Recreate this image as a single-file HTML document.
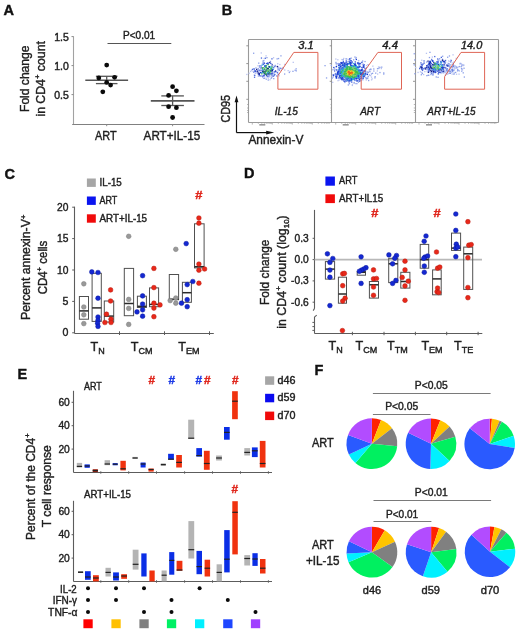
<!DOCTYPE html>
<html><head><meta charset="utf-8"><title>Figure</title>
<style>
html,body{margin:0;padding:0;background:#fff;}
body{width:520px;height:633px;overflow:hidden;}
svg{display:block;font-family:"Liberation Sans",sans-serif;will-change:transform;}
</style></head><body>
<svg width="520" height="633" viewBox="0 0 520 633">
<rect x="0" y="0" width="520" height="633" fill="#fff"/>
<text x="3.6" y="15.2" font-size="14.5" fill="#111" stroke="#111" stroke-width="0.4" font-weight="bold" >A</text>
<text x="221.8" y="15.0" font-size="14.5" fill="#111" stroke="#111" stroke-width="0.4" font-weight="bold" >B</text>
<text x="4.6" y="178.6" font-size="14.5" fill="#111" stroke="#111" stroke-width="0.4" font-weight="bold" >C</text>
<text x="243.9" y="177.7" font-size="14.5" fill="#111" stroke="#111" stroke-width="0.4" font-weight="bold" >D</text>
<text x="17.6" y="379.0" font-size="14.5" fill="#111" stroke="#111" stroke-width="0.4" font-weight="bold" >E</text>
<text x="314.6" y="375.0" font-size="14.5" fill="#111" stroke="#111" stroke-width="0.4" font-weight="bold" >F</text>
<line x1="73.5" y1="36.3" x2="73.5" y2="124.5" stroke="#a2a2a2" stroke-width="1.1"/>
<line x1="72.2" y1="124.5" x2="204.5" y2="124.5" stroke="#808080" stroke-width="1.1"/>
<line x1="71.5" y1="36.6" x2="73.5" y2="36.6" stroke="#8a8a8a" stroke-width="1"/>
<line x1="71.5" y1="65.6" x2="73.5" y2="65.6" stroke="#8a8a8a" stroke-width="1"/>
<line x1="71.5" y1="94.6" x2="73.5" y2="94.6" stroke="#8a8a8a" stroke-width="1"/>
<line x1="106.7" y1="124.4" x2="106.7" y2="126.2" stroke="#8a8a8a" stroke-width="1"/>
<line x1="172.6" y1="124.4" x2="172.6" y2="126.2" stroke="#8a8a8a" stroke-width="1"/>
<text x="68.8" y="40.6" font-size="10.2" fill="#1e1e1e" stroke="#1e1e1e" stroke-width="0.4" text-anchor="end" textLength="14.6" lengthAdjust="spacingAndGlyphs" >1.5</text>
<text x="68.8" y="69.6" font-size="10.2" fill="#1e1e1e" stroke="#1e1e1e" stroke-width="0.4" text-anchor="end" textLength="14.6" lengthAdjust="spacingAndGlyphs" >1.0</text>
<text x="68.8" y="98.6" font-size="10.2" fill="#1e1e1e" stroke="#1e1e1e" stroke-width="0.4" text-anchor="end" textLength="14.6" lengthAdjust="spacingAndGlyphs" >0.5</text>
<text transform="translate(28.5,112.0) rotate(-90)" font-size="12.6" fill="#1e1e1e" stroke="#1e1e1e" stroke-width="0.4" textLength="66.5" lengthAdjust="spacingAndGlyphs" >Fold change</text>
<text transform="translate(44.6,116.6) rotate(-90)" font-size="12.6" fill="#1e1e1e" stroke="#1e1e1e" stroke-width="0.4" textLength="75.5" lengthAdjust="spacingAndGlyphs" >in CD4<tspan font-size="8" dy="-5">+</tspan><tspan dy="5"> count</tspan></text>
<text x="95.0" y="140.3" font-size="12.6" fill="#1e1e1e" stroke="#1e1e1e" stroke-width="0.4" textLength="21.6" lengthAdjust="spacingAndGlyphs" >ART</text>
<text x="143.6" y="140.3" font-size="12.6" fill="#1e1e1e" stroke="#1e1e1e" stroke-width="0.4" textLength="56.6" lengthAdjust="spacingAndGlyphs" >ART+IL-15</text>
<text x="123.0" y="38.8" font-size="10.4" fill="#1e1e1e" stroke="#1e1e1e" stroke-width="0.4" textLength="32.2" lengthAdjust="spacingAndGlyphs" >P&lt;0.01</text>
<line x1="107.5" y1="43.5" x2="171.3" y2="43.5" stroke="#555555" stroke-width="1"/>
<line x1="85.3" y1="80.2" x2="128.1" y2="80.2" stroke="#555" stroke-width="1.6"/>
<line x1="95.9" y1="76.3" x2="117.5" y2="76.3" stroke="#555" stroke-width="1.3"/>
<line x1="95.9" y1="83.6" x2="117.5" y2="83.6" stroke="#555" stroke-width="1.3"/>
<line x1="106.7" y1="76.3" x2="106.7" y2="83.6" stroke="#555" stroke-width="1.3"/>
<circle cx="106.7" cy="65.1" r="2.4" fill="#0a0a0a"/>
<circle cx="98.8" cy="77.9" r="2.4" fill="#0a0a0a"/>
<circle cx="114.6" cy="77.3" r="2.4" fill="#0a0a0a"/>
<circle cx="106.7" cy="82.4" r="2.4" fill="#0a0a0a"/>
<circle cx="110.6" cy="85.1" r="2.4" fill="#0a0a0a"/>
<circle cx="102.8" cy="91.8" r="2.4" fill="#0a0a0a"/>
<line x1="150.8" y1="100.9" x2="194.5" y2="100.9" stroke="#555" stroke-width="1.6"/>
<line x1="161.3" y1="95.9" x2="183.9" y2="95.9" stroke="#555" stroke-width="1.3"/>
<line x1="161.3" y1="105.5" x2="183.9" y2="105.5" stroke="#555" stroke-width="1.3"/>
<line x1="172.6" y1="95.9" x2="172.6" y2="105.5" stroke="#555" stroke-width="1.3"/>
<circle cx="172.6" cy="86.7" r="2.4" fill="#0a0a0a"/>
<circle cx="176.4" cy="90.8" r="2.4" fill="#0a0a0a"/>
<circle cx="168.6" cy="95.4" r="2.4" fill="#0a0a0a"/>
<circle cx="168.6" cy="106.7" r="2.4" fill="#0a0a0a"/>
<circle cx="176.4" cy="107.7" r="2.4" fill="#0a0a0a"/>
<circle cx="172.6" cy="117.5" r="2.4" fill="#0a0a0a"/>
<line x1="248.5" y1="39.5" x2="498.5" y2="39.5" stroke="#9a9a9a" stroke-width="1.1"/>
<line x1="248.5" y1="122.5" x2="498.5" y2="122.5" stroke="#9a9a9a" stroke-width="1.1"/>
<line x1="248.5" y1="39.5" x2="248.5" y2="122.5" stroke="#9a9a9a" stroke-width="1.1"/>
<line x1="331.5" y1="39.5" x2="331.5" y2="122.5" stroke="#9a9a9a" stroke-width="1.1"/>
<line x1="415.5" y1="39.5" x2="415.5" y2="122.5" stroke="#9a9a9a" stroke-width="1.1"/>
<line x1="498.5" y1="39.5" x2="498.5" y2="122.5" stroke="#9a9a9a" stroke-width="1.1"/>
<line x1="246.3" y1="45.8" x2="248.3" y2="45.8" stroke="#8a8a8a" stroke-width="0.9"/>
<line x1="246.3" y1="63.6" x2="248.3" y2="63.6" stroke="#8a8a8a" stroke-width="0.9"/>
<line x1="246.3" y1="81.3" x2="248.3" y2="81.3" stroke="#8a8a8a" stroke-width="0.9"/>
<line x1="246.3" y1="99.3" x2="248.3" y2="99.3" stroke="#8a8a8a" stroke-width="0.9"/>
<line x1="247.10000000000002" y1="104.5" x2="248.3" y2="104.5" stroke="#9a9a9a" stroke-width="0.7"/>
<line x1="247.10000000000002" y1="108.0" x2="248.3" y2="108.0" stroke="#9a9a9a" stroke-width="0.7"/>
<line x1="247.10000000000002" y1="110.5" x2="248.3" y2="110.5" stroke="#9a9a9a" stroke-width="0.7"/>
<line x1="247.10000000000002" y1="112.5" x2="248.3" y2="112.5" stroke="#9a9a9a" stroke-width="0.7"/>
<line x1="252.3" y1="122.5" x2="252.3" y2="124.6" stroke="#9a9a9a" stroke-width="0.7"/>
<line x1="258.32059991327964" y1="122.5" x2="258.32059991327964" y2="123.8" stroke="#9a9a9a" stroke-width="0.7"/>
<line x1="261.84242509439326" y1="122.5" x2="261.84242509439326" y2="123.8" stroke="#9a9a9a" stroke-width="0.7"/>
<line x1="264.34119982655926" y1="122.5" x2="264.34119982655926" y2="123.8" stroke="#9a9a9a" stroke-width="0.7"/>
<line x1="266.2794000867204" y1="122.5" x2="266.2794000867204" y2="123.8" stroke="#9a9a9a" stroke-width="0.7"/>
<line x1="267.8630250076729" y1="122.5" x2="267.8630250076729" y2="123.8" stroke="#9a9a9a" stroke-width="0.7"/>
<line x1="269.2019608002851" y1="122.5" x2="269.2019608002851" y2="123.8" stroke="#9a9a9a" stroke-width="0.7"/>
<line x1="270.3617997398389" y1="122.5" x2="270.3617997398389" y2="123.8" stroke="#9a9a9a" stroke-width="0.7"/>
<line x1="271.3848501887865" y1="122.5" x2="271.3848501887865" y2="123.8" stroke="#9a9a9a" stroke-width="0.7"/>
<line x1="272.3" y1="122.5" x2="272.3" y2="124.6" stroke="#9a9a9a" stroke-width="0.7"/>
<line x1="278.32059991327964" y1="122.5" x2="278.32059991327964" y2="123.8" stroke="#9a9a9a" stroke-width="0.7"/>
<line x1="281.84242509439326" y1="122.5" x2="281.84242509439326" y2="123.8" stroke="#9a9a9a" stroke-width="0.7"/>
<line x1="284.34119982655926" y1="122.5" x2="284.34119982655926" y2="123.8" stroke="#9a9a9a" stroke-width="0.7"/>
<line x1="286.2794000867204" y1="122.5" x2="286.2794000867204" y2="123.8" stroke="#9a9a9a" stroke-width="0.7"/>
<line x1="287.8630250076729" y1="122.5" x2="287.8630250076729" y2="123.8" stroke="#9a9a9a" stroke-width="0.7"/>
<line x1="289.2019608002851" y1="122.5" x2="289.2019608002851" y2="123.8" stroke="#9a9a9a" stroke-width="0.7"/>
<line x1="290.3617997398389" y1="122.5" x2="290.3617997398389" y2="123.8" stroke="#9a9a9a" stroke-width="0.7"/>
<line x1="291.3848501887865" y1="122.5" x2="291.3848501887865" y2="123.8" stroke="#9a9a9a" stroke-width="0.7"/>
<line x1="292.3" y1="122.5" x2="292.3" y2="124.6" stroke="#9a9a9a" stroke-width="0.7"/>
<line x1="298.32059991327964" y1="122.5" x2="298.32059991327964" y2="123.8" stroke="#9a9a9a" stroke-width="0.7"/>
<line x1="301.84242509439326" y1="122.5" x2="301.84242509439326" y2="123.8" stroke="#9a9a9a" stroke-width="0.7"/>
<line x1="304.34119982655926" y1="122.5" x2="304.34119982655926" y2="123.8" stroke="#9a9a9a" stroke-width="0.7"/>
<line x1="306.2794000867204" y1="122.5" x2="306.2794000867204" y2="123.8" stroke="#9a9a9a" stroke-width="0.7"/>
<line x1="307.8630250076729" y1="122.5" x2="307.8630250076729" y2="123.8" stroke="#9a9a9a" stroke-width="0.7"/>
<line x1="309.2019608002851" y1="122.5" x2="309.2019608002851" y2="123.8" stroke="#9a9a9a" stroke-width="0.7"/>
<line x1="310.3617997398389" y1="122.5" x2="310.3617997398389" y2="123.8" stroke="#9a9a9a" stroke-width="0.7"/>
<line x1="311.3848501887865" y1="122.5" x2="311.3848501887865" y2="123.8" stroke="#9a9a9a" stroke-width="0.7"/>
<line x1="312.3" y1="122.5" x2="312.3" y2="124.6" stroke="#9a9a9a" stroke-width="0.7"/>
<line x1="318.32059991327964" y1="122.5" x2="318.32059991327964" y2="123.8" stroke="#9a9a9a" stroke-width="0.7"/>
<line x1="321.84242509439326" y1="122.5" x2="321.84242509439326" y2="123.8" stroke="#9a9a9a" stroke-width="0.7"/>
<line x1="324.34119982655926" y1="122.5" x2="324.34119982655926" y2="123.8" stroke="#9a9a9a" stroke-width="0.7"/>
<line x1="326.2794000867204" y1="122.5" x2="326.2794000867204" y2="123.8" stroke="#9a9a9a" stroke-width="0.7"/>
<line x1="327.8630250076729" y1="122.5" x2="327.8630250076729" y2="123.8" stroke="#9a9a9a" stroke-width="0.7"/>
<line x1="329.2019608002851" y1="122.5" x2="329.2019608002851" y2="123.8" stroke="#9a9a9a" stroke-width="0.7"/>
<rect x="259.3" y="124.0" width="6" height="1.6" fill="#9a9a9a" stroke="none" stroke-width="1"/>
<line x1="329.7" y1="45.8" x2="331.7" y2="45.8" stroke="#8a8a8a" stroke-width="0.9"/>
<line x1="329.7" y1="63.6" x2="331.7" y2="63.6" stroke="#8a8a8a" stroke-width="0.9"/>
<line x1="329.7" y1="81.3" x2="331.7" y2="81.3" stroke="#8a8a8a" stroke-width="0.9"/>
<line x1="329.7" y1="99.3" x2="331.7" y2="99.3" stroke="#8a8a8a" stroke-width="0.9"/>
<line x1="330.5" y1="104.5" x2="331.7" y2="104.5" stroke="#9a9a9a" stroke-width="0.7"/>
<line x1="330.5" y1="108.0" x2="331.7" y2="108.0" stroke="#9a9a9a" stroke-width="0.7"/>
<line x1="330.5" y1="110.5" x2="331.7" y2="110.5" stroke="#9a9a9a" stroke-width="0.7"/>
<line x1="330.5" y1="112.5" x2="331.7" y2="112.5" stroke="#9a9a9a" stroke-width="0.7"/>
<line x1="335.7" y1="122.5" x2="335.7" y2="124.6" stroke="#9a9a9a" stroke-width="0.7"/>
<line x1="341.7205999132796" y1="122.5" x2="341.7205999132796" y2="123.8" stroke="#9a9a9a" stroke-width="0.7"/>
<line x1="345.24242509439324" y1="122.5" x2="345.24242509439324" y2="123.8" stroke="#9a9a9a" stroke-width="0.7"/>
<line x1="347.74119982655924" y1="122.5" x2="347.74119982655924" y2="123.8" stroke="#9a9a9a" stroke-width="0.7"/>
<line x1="349.67940008672036" y1="122.5" x2="349.67940008672036" y2="123.8" stroke="#9a9a9a" stroke-width="0.7"/>
<line x1="351.26302500767287" y1="122.5" x2="351.26302500767287" y2="123.8" stroke="#9a9a9a" stroke-width="0.7"/>
<line x1="352.6019608002851" y1="122.5" x2="352.6019608002851" y2="123.8" stroke="#9a9a9a" stroke-width="0.7"/>
<line x1="353.76179973983886" y1="122.5" x2="353.76179973983886" y2="123.8" stroke="#9a9a9a" stroke-width="0.7"/>
<line x1="354.7848501887865" y1="122.5" x2="354.7848501887865" y2="123.8" stroke="#9a9a9a" stroke-width="0.7"/>
<line x1="355.7" y1="122.5" x2="355.7" y2="124.6" stroke="#9a9a9a" stroke-width="0.7"/>
<line x1="361.7205999132796" y1="122.5" x2="361.7205999132796" y2="123.8" stroke="#9a9a9a" stroke-width="0.7"/>
<line x1="365.24242509439324" y1="122.5" x2="365.24242509439324" y2="123.8" stroke="#9a9a9a" stroke-width="0.7"/>
<line x1="367.74119982655924" y1="122.5" x2="367.74119982655924" y2="123.8" stroke="#9a9a9a" stroke-width="0.7"/>
<line x1="369.67940008672036" y1="122.5" x2="369.67940008672036" y2="123.8" stroke="#9a9a9a" stroke-width="0.7"/>
<line x1="371.26302500767287" y1="122.5" x2="371.26302500767287" y2="123.8" stroke="#9a9a9a" stroke-width="0.7"/>
<line x1="372.6019608002851" y1="122.5" x2="372.6019608002851" y2="123.8" stroke="#9a9a9a" stroke-width="0.7"/>
<line x1="373.76179973983886" y1="122.5" x2="373.76179973983886" y2="123.8" stroke="#9a9a9a" stroke-width="0.7"/>
<line x1="374.7848501887865" y1="122.5" x2="374.7848501887865" y2="123.8" stroke="#9a9a9a" stroke-width="0.7"/>
<line x1="375.7" y1="122.5" x2="375.7" y2="124.6" stroke="#9a9a9a" stroke-width="0.7"/>
<line x1="381.7205999132796" y1="122.5" x2="381.7205999132796" y2="123.8" stroke="#9a9a9a" stroke-width="0.7"/>
<line x1="385.24242509439324" y1="122.5" x2="385.24242509439324" y2="123.8" stroke="#9a9a9a" stroke-width="0.7"/>
<line x1="387.74119982655924" y1="122.5" x2="387.74119982655924" y2="123.8" stroke="#9a9a9a" stroke-width="0.7"/>
<line x1="389.67940008672036" y1="122.5" x2="389.67940008672036" y2="123.8" stroke="#9a9a9a" stroke-width="0.7"/>
<line x1="391.26302500767287" y1="122.5" x2="391.26302500767287" y2="123.8" stroke="#9a9a9a" stroke-width="0.7"/>
<line x1="392.6019608002851" y1="122.5" x2="392.6019608002851" y2="123.8" stroke="#9a9a9a" stroke-width="0.7"/>
<line x1="393.76179973983886" y1="122.5" x2="393.76179973983886" y2="123.8" stroke="#9a9a9a" stroke-width="0.7"/>
<line x1="394.7848501887865" y1="122.5" x2="394.7848501887865" y2="123.8" stroke="#9a9a9a" stroke-width="0.7"/>
<line x1="395.7" y1="122.5" x2="395.7" y2="124.6" stroke="#9a9a9a" stroke-width="0.7"/>
<line x1="401.7205999132796" y1="122.5" x2="401.7205999132796" y2="123.8" stroke="#9a9a9a" stroke-width="0.7"/>
<line x1="405.24242509439324" y1="122.5" x2="405.24242509439324" y2="123.8" stroke="#9a9a9a" stroke-width="0.7"/>
<line x1="407.74119982655924" y1="122.5" x2="407.74119982655924" y2="123.8" stroke="#9a9a9a" stroke-width="0.7"/>
<line x1="409.67940008672036" y1="122.5" x2="409.67940008672036" y2="123.8" stroke="#9a9a9a" stroke-width="0.7"/>
<line x1="411.26302500767287" y1="122.5" x2="411.26302500767287" y2="123.8" stroke="#9a9a9a" stroke-width="0.7"/>
<line x1="412.6019608002851" y1="122.5" x2="412.6019608002851" y2="123.8" stroke="#9a9a9a" stroke-width="0.7"/>
<rect x="342.7" y="124.0" width="6" height="1.6" fill="#9a9a9a" stroke="none" stroke-width="1"/>
<line x1="413.0" y1="45.8" x2="415.0" y2="45.8" stroke="#8a8a8a" stroke-width="0.9"/>
<line x1="413.0" y1="63.6" x2="415.0" y2="63.6" stroke="#8a8a8a" stroke-width="0.9"/>
<line x1="413.0" y1="81.3" x2="415.0" y2="81.3" stroke="#8a8a8a" stroke-width="0.9"/>
<line x1="413.0" y1="99.3" x2="415.0" y2="99.3" stroke="#8a8a8a" stroke-width="0.9"/>
<line x1="413.8" y1="104.5" x2="415.0" y2="104.5" stroke="#9a9a9a" stroke-width="0.7"/>
<line x1="413.8" y1="108.0" x2="415.0" y2="108.0" stroke="#9a9a9a" stroke-width="0.7"/>
<line x1="413.8" y1="110.5" x2="415.0" y2="110.5" stroke="#9a9a9a" stroke-width="0.7"/>
<line x1="413.8" y1="112.5" x2="415.0" y2="112.5" stroke="#9a9a9a" stroke-width="0.7"/>
<line x1="419.0" y1="122.5" x2="419.0" y2="124.6" stroke="#9a9a9a" stroke-width="0.7"/>
<line x1="425.0205999132796" y1="122.5" x2="425.0205999132796" y2="123.8" stroke="#9a9a9a" stroke-width="0.7"/>
<line x1="428.54242509439325" y1="122.5" x2="428.54242509439325" y2="123.8" stroke="#9a9a9a" stroke-width="0.7"/>
<line x1="431.04119982655925" y1="122.5" x2="431.04119982655925" y2="123.8" stroke="#9a9a9a" stroke-width="0.7"/>
<line x1="432.9794000867204" y1="122.5" x2="432.9794000867204" y2="123.8" stroke="#9a9a9a" stroke-width="0.7"/>
<line x1="434.5630250076729" y1="122.5" x2="434.5630250076729" y2="123.8" stroke="#9a9a9a" stroke-width="0.7"/>
<line x1="435.9019608002851" y1="122.5" x2="435.9019608002851" y2="123.8" stroke="#9a9a9a" stroke-width="0.7"/>
<line x1="437.0617997398389" y1="122.5" x2="437.0617997398389" y2="123.8" stroke="#9a9a9a" stroke-width="0.7"/>
<line x1="438.0848501887865" y1="122.5" x2="438.0848501887865" y2="123.8" stroke="#9a9a9a" stroke-width="0.7"/>
<line x1="439.0" y1="122.5" x2="439.0" y2="124.6" stroke="#9a9a9a" stroke-width="0.7"/>
<line x1="445.0205999132796" y1="122.5" x2="445.0205999132796" y2="123.8" stroke="#9a9a9a" stroke-width="0.7"/>
<line x1="448.54242509439325" y1="122.5" x2="448.54242509439325" y2="123.8" stroke="#9a9a9a" stroke-width="0.7"/>
<line x1="451.04119982655925" y1="122.5" x2="451.04119982655925" y2="123.8" stroke="#9a9a9a" stroke-width="0.7"/>
<line x1="452.9794000867204" y1="122.5" x2="452.9794000867204" y2="123.8" stroke="#9a9a9a" stroke-width="0.7"/>
<line x1="454.5630250076729" y1="122.5" x2="454.5630250076729" y2="123.8" stroke="#9a9a9a" stroke-width="0.7"/>
<line x1="455.9019608002851" y1="122.5" x2="455.9019608002851" y2="123.8" stroke="#9a9a9a" stroke-width="0.7"/>
<line x1="457.0617997398389" y1="122.5" x2="457.0617997398389" y2="123.8" stroke="#9a9a9a" stroke-width="0.7"/>
<line x1="458.0848501887865" y1="122.5" x2="458.0848501887865" y2="123.8" stroke="#9a9a9a" stroke-width="0.7"/>
<line x1="459.0" y1="122.5" x2="459.0" y2="124.6" stroke="#9a9a9a" stroke-width="0.7"/>
<line x1="465.0205999132796" y1="122.5" x2="465.0205999132796" y2="123.8" stroke="#9a9a9a" stroke-width="0.7"/>
<line x1="468.54242509439325" y1="122.5" x2="468.54242509439325" y2="123.8" stroke="#9a9a9a" stroke-width="0.7"/>
<line x1="471.04119982655925" y1="122.5" x2="471.04119982655925" y2="123.8" stroke="#9a9a9a" stroke-width="0.7"/>
<line x1="472.9794000867204" y1="122.5" x2="472.9794000867204" y2="123.8" stroke="#9a9a9a" stroke-width="0.7"/>
<line x1="474.5630250076729" y1="122.5" x2="474.5630250076729" y2="123.8" stroke="#9a9a9a" stroke-width="0.7"/>
<line x1="475.9019608002851" y1="122.5" x2="475.9019608002851" y2="123.8" stroke="#9a9a9a" stroke-width="0.7"/>
<line x1="477.0617997398389" y1="122.5" x2="477.0617997398389" y2="123.8" stroke="#9a9a9a" stroke-width="0.7"/>
<line x1="478.0848501887865" y1="122.5" x2="478.0848501887865" y2="123.8" stroke="#9a9a9a" stroke-width="0.7"/>
<line x1="479.0" y1="122.5" x2="479.0" y2="124.6" stroke="#9a9a9a" stroke-width="0.7"/>
<line x1="485.0205999132796" y1="122.5" x2="485.0205999132796" y2="123.8" stroke="#9a9a9a" stroke-width="0.7"/>
<line x1="488.54242509439325" y1="122.5" x2="488.54242509439325" y2="123.8" stroke="#9a9a9a" stroke-width="0.7"/>
<line x1="491.04119982655925" y1="122.5" x2="491.04119982655925" y2="123.8" stroke="#9a9a9a" stroke-width="0.7"/>
<line x1="492.9794000867204" y1="122.5" x2="492.9794000867204" y2="123.8" stroke="#9a9a9a" stroke-width="0.7"/>
<line x1="494.5630250076729" y1="122.5" x2="494.5630250076729" y2="123.8" stroke="#9a9a9a" stroke-width="0.7"/>
<line x1="495.9019608002851" y1="122.5" x2="495.9019608002851" y2="123.8" stroke="#9a9a9a" stroke-width="0.7"/>
<rect x="426.0" y="124.0" width="6" height="1.6" fill="#9a9a9a" stroke="none" stroke-width="1"/>
<g><rect x="280.7" y="67.8" width="1.3" height="1.3" fill="#b9c3f0"/><rect x="294.5" y="69.6" width="1.3" height="1.3" fill="#8ca0e8"/><rect x="288.7" y="71.8" width="1.3" height="1.3" fill="#8ca0e8"/><rect x="284.0" y="63.8" width="1.3" height="1.3" fill="#b9c3f0"/><rect x="281.5" y="68.1" width="1.3" height="1.3" fill="#8ca0e8"/><rect x="292.3" y="70.7" width="1.3" height="1.3" fill="#8ca0e8"/><rect x="295.6" y="70.2" width="1.3" height="1.3" fill="#8ca0e8"/><rect x="253.0" y="52.6" width="1.3" height="1.3" fill="#8ca0e8"/><rect x="287.5" y="70.0" width="1.3" height="1.3" fill="#b9c3f0"/><rect x="276.6" y="65.7" width="1.3" height="1.3" fill="#8ca0e8"/><rect x="280.3" y="55.2" width="1.3" height="1.3" fill="#8ca0e8"/><rect x="279.2" y="63.9" width="1.3" height="1.3" fill="#b9c3f0"/><rect x="289.3" y="70.8" width="1.3" height="1.3" fill="#b9c3f0"/><rect x="260.6" y="52.3" width="1.3" height="1.3" fill="#b9c3f0"/><rect x="292.6" y="61.7" width="1.3" height="1.3" fill="#b9c3f0"/><rect x="295.5" y="68.2" width="1.3" height="1.3" fill="#8ca0e8"/><rect x="284.0" y="73.4" width="1.3" height="1.3" fill="#8ca0e8"/><rect x="282.5" y="67.3" width="1.3" height="1.3" fill="#8ca0e8"/><rect x="276.5" y="75.3" width="1.3" height="1.3" fill="#b9c3f0"/><rect x="246.2" y="73.8" width="1.3" height="1.3" fill="#b9c3f0"/><rect x="277.9" y="57.9" width="1.3" height="1.3" fill="#8ca0e8"/><rect x="267.6" y="79.4" width="1.3" height="1.3" fill="#8ca0e8"/><rect x="248.5" y="72.6" width="1.3" height="1.3" fill="#b9c3f0"/><rect x="284.1" y="69.4" width="1.3" height="1.3" fill="#b9c3f0"/><rect x="276.5" y="58.2" width="1.3" height="1.3" fill="#8ca0e8"/><rect x="269.4" y="79.1" width="1.3" height="1.3" fill="#b9c3f0"/><rect x="282.0" y="66.9" width="1.3" height="1.3" fill="#b9c3f0"/><rect x="265.4" y="55.2" width="1.3" height="1.3" fill="#b9c3f0"/><rect x="273.1" y="78.0" width="1.3" height="1.3" fill="#8ca0e8"/><rect x="253.6" y="74.4" width="1.3" height="1.3" fill="#b9c3f0"/><rect x="278.4" y="75.1" width="1.3" height="1.3" fill="#b9c3f0"/><rect x="254.1" y="74.8" width="1.3" height="1.3" fill="#4b69dc"/><rect x="250.0" y="70.8" width="1.3" height="1.3" fill="#b9c3f0"/><rect x="265.6" y="78.5" width="1.3" height="1.3" fill="#8ca0e8"/><rect x="260.8" y="57.4" width="1.3" height="1.3" fill="#4b69dc"/><rect x="282.3" y="68.0" width="1.3" height="1.3" fill="#b9c3f0"/><rect x="276.0" y="75.3" width="1.3" height="1.3" fill="#8ca0e8"/><rect x="266.3" y="57.0" width="1.3" height="1.3" fill="#8ca0e8"/><rect x="250.9" y="69.6" width="1.3" height="1.3" fill="#b9c3f0"/><rect x="277.7" y="73.7" width="1.3" height="1.3" fill="#4b69dc"/><rect x="264.7" y="57.6" width="1.3" height="1.3" fill="#4b69dc"/><rect x="270.5" y="77.6" width="1.3" height="1.3" fill="#8ca0e8"/><rect x="263.5" y="77.7" width="1.3" height="1.3" fill="#4b69dc"/><rect x="253.1" y="71.4" width="1.3" height="1.3" fill="#4b69dc"/><rect x="277.1" y="63.1" width="1.3" height="1.3" fill="#b9c3f0"/><rect x="253.9" y="76.6" width="1.3" height="1.3" fill="#4b69dc"/><rect x="271.3" y="58.2" width="1.3" height="1.3" fill="#4b69dc"/><rect x="263.6" y="57.9" width="1.3" height="1.3" fill="#b9c3f0"/><rect x="263.4" y="60.0" width="1.3" height="1.3" fill="#b9c3f0"/><rect x="271.0" y="77.0" width="1.3" height="1.3" fill="#8ca0e8"/><rect x="278.9" y="69.5" width="1.3" height="1.3" fill="#4b69dc"/><rect x="264.3" y="77.4" width="1.3" height="1.3" fill="#b9c3f0"/><rect x="262.6" y="60.1" width="1.3" height="1.3" fill="#8ca0e8"/><rect x="279.5" y="67.6" width="1.3" height="1.3" fill="#4b69dc"/><rect x="252.3" y="70.5" width="1.3" height="1.3" fill="#b9c3f0"/><rect x="271.3" y="76.0" width="1.3" height="1.3" fill="#b9c3f0"/><rect x="272.9" y="57.1" width="1.3" height="1.3" fill="#b9c3f0"/><rect x="251.9" y="68.7" width="1.3" height="1.3" fill="#4b69dc"/><rect x="277.3" y="66.2" width="1.3" height="1.3" fill="#b9c3f0"/><rect x="253.2" y="68.0" width="1.3" height="1.3" fill="#8ca0e8"/><rect x="277.3" y="67.3" width="1.3" height="1.3" fill="#b9c3f0"/><rect x="257.6" y="74.1" width="1.3" height="1.3" fill="#b9c3f0"/><rect x="278.1" y="66.8" width="1.3" height="1.3" fill="#b9c3f0"/><rect x="254.0" y="70.5" width="1.3" height="1.3" fill="#8ca0e8"/><rect x="273.5" y="74.9" width="1.3" height="1.3" fill="#4b69dc"/><rect x="254.3" y="71.0" width="1.3" height="1.3" fill="#b9c3f0"/><rect x="272.5" y="75.7" width="1.3" height="1.3" fill="#4b69dc"/><rect x="257.7" y="75.7" width="1.3" height="1.3" fill="#b9c3f0"/><rect x="262.0" y="76.8" width="1.3" height="1.3" fill="#b9c3f0"/><rect x="278.4" y="69.3" width="1.3" height="1.3" fill="#8ca0e8"/><rect x="260.3" y="75.5" width="1.3" height="1.3" fill="#8ca0e8"/><rect x="277.8" y="68.5" width="1.3" height="1.3" fill="#8ca0e8"/><rect x="253.6" y="68.5" width="1.3" height="1.3" fill="#4b69dc"/><rect x="254.6" y="70.9" width="1.3" height="1.3" fill="#4b69dc"/><rect x="263.0" y="74.8" width="1.3" height="1.3" fill="#4b69dc"/><rect x="258.7" y="75.2" width="1.3" height="1.3" fill="#b9c3f0"/><rect x="268.3" y="76.2" width="1.3" height="1.3" fill="#8ca0e8"/><rect x="267.6" y="77.5" width="1.3" height="1.3" fill="#b9c3f0"/><rect x="258.1" y="62.5" width="1.3" height="1.3" fill="#8ca0e8"/><rect x="266.5" y="76.0" width="1.3" height="1.3" fill="#4b69dc"/><rect x="277.3" y="70.3" width="1.3" height="1.3" fill="#b9c3f0"/><rect x="259.4" y="75.0" width="1.3" height="1.3" fill="#4b69dc"/><rect x="262.3" y="76.1" width="1.3" height="1.3" fill="#b9c3f0"/><rect x="257.4" y="65.1" width="1.3" height="1.3" fill="#b9c3f0"/><rect x="272.9" y="74.8" width="1.3" height="1.3" fill="#8ca0e8"/><rect x="277.3" y="68.4" width="1.3" height="1.3" fill="#8ca0e8"/><rect x="255.3" y="67.3" width="1.3" height="1.3" fill="#8ca0e8"/><rect x="256.0" y="68.8" width="1.3" height="1.3" fill="#191e82"/><rect x="269.6" y="75.3" width="1.3" height="1.3" fill="#b9c3f0"/><rect x="276.8" y="66.0" width="1.3" height="1.3" fill="#191e82"/><rect x="267.8" y="62.6" width="1.3" height="1.3" fill="#4b69dc"/><rect x="276.8" y="72.0" width="1.3" height="1.3" fill="#193cd2"/><rect x="255.2" y="70.8" width="1.3" height="1.3" fill="#4b69dc"/><rect x="256.1" y="72.2" width="1.3" height="1.3" fill="#b9c3f0"/><rect x="262.4" y="61.3" width="1.3" height="1.3" fill="#8ca0e8"/><rect x="273.6" y="73.8" width="1.3" height="1.3" fill="#b9c3f0"/><rect x="274.6" y="64.8" width="1.3" height="1.3" fill="#8ca0e8"/><rect x="265.6" y="75.2" width="1.3" height="1.3" fill="#b9c3f0"/><rect x="254.7" y="72.8" width="1.3" height="1.3" fill="#b9c3f0"/><rect x="274.2" y="65.8" width="1.3" height="1.3" fill="#4b69dc"/><rect x="261.7" y="75.5" width="1.3" height="1.3" fill="#8ca0e8"/><rect x="258.4" y="74.0" width="1.3" height="1.3" fill="#4b69dc"/><rect x="257.4" y="73.2" width="1.3" height="1.3" fill="#b9c3f0"/><rect x="254.5" y="70.2" width="1.3" height="1.3" fill="#193cd2"/><rect x="262.3" y="75.6" width="1.3" height="1.3" fill="#4b69dc"/><rect x="267.4" y="75.4" width="1.3" height="1.3" fill="#4b69dc"/><rect x="271.5" y="74.3" width="1.3" height="1.3" fill="#193cd2"/><rect x="269.8" y="60.8" width="1.3" height="1.3" fill="#8ca0e8"/><rect x="268.6" y="75.0" width="1.3" height="1.3" fill="#8ca0e8"/><rect x="256.7" y="70.9" width="1.3" height="1.3" fill="#b9c3f0"/><rect x="263.8" y="75.1" width="1.3" height="1.3" fill="#4b69dc"/><rect x="273.5" y="72.1" width="1.3" height="1.3" fill="#8ca0e8"/><rect x="272.9" y="72.8" width="1.3" height="1.3" fill="#b9c3f0"/><rect x="258.7" y="73.9" width="1.3" height="1.3" fill="#191e82"/><rect x="276.1" y="71.7" width="1.3" height="1.3" fill="#b9c3f0"/><rect x="267.6" y="63.2" width="1.3" height="1.3" fill="#8ca0e8"/><rect x="257.7" y="72.5" width="1.3" height="1.3" fill="#8ca0e8"/><rect x="262.6" y="62.3" width="1.3" height="1.3" fill="#8ca0e8"/><rect x="271.2" y="75.1" width="1.3" height="1.3" fill="#b9c3f0"/><rect x="274.2" y="73.9" width="1.3" height="1.3" fill="#4b69dc"/><rect x="265.8" y="62.9" width="1.3" height="1.3" fill="#4b69dc"/><rect x="257.5" y="72.1" width="1.3" height="1.3" fill="#191e82"/><rect x="260.4" y="75.1" width="1.3" height="1.3" fill="#8ca0e8"/><rect x="257.7" y="70.5" width="1.3" height="1.3" fill="#b9c3f0"/><rect x="257.0" y="70.9" width="1.3" height="1.3" fill="#8ca0e8"/><rect x="271.7" y="64.3" width="1.3" height="1.3" fill="#191e82"/><rect x="266.7" y="62.9" width="1.3" height="1.3" fill="#193cd2"/><rect x="266.0" y="74.5" width="1.3" height="1.3" fill="#191e82"/><rect x="271.4" y="65.5" width="1.3" height="1.3" fill="#4b69dc"/><rect x="260.5" y="65.4" width="1.3" height="1.3" fill="#4b69dc"/><rect x="269.1" y="61.9" width="1.3" height="1.3" fill="#191e82"/><rect x="271.6" y="66.8" width="1.3" height="1.3" fill="#b9c3f0"/><rect x="274.9" y="70.4" width="1.3" height="1.3" fill="#191e82"/><rect x="268.6" y="73.9" width="1.3" height="1.3" fill="#8ca0e8"/><rect x="259.2" y="65.4" width="1.3" height="1.3" fill="#193cd2"/><rect x="259.5" y="65.8" width="1.3" height="1.3" fill="#b9c3f0"/><rect x="271.1" y="63.4" width="1.3" height="1.3" fill="#8ca0e8"/><rect x="258.7" y="70.0" width="1.3" height="1.3" fill="#4b69dc"/><rect x="275.0" y="70.9" width="1.3" height="1.3" fill="#193cd2"/><rect x="271.3" y="66.3" width="1.3" height="1.3" fill="#b9c3f0"/><rect x="272.5" y="66.3" width="1.3" height="1.3" fill="#b9c3f0"/><rect x="271.3" y="72.8" width="1.3" height="1.3" fill="#b9c3f0"/><rect x="257.5" y="68.3" width="1.3" height="1.3" fill="#4b69dc"/><rect x="259.3" y="69.6" width="1.3" height="1.3" fill="#193cd2"/><rect x="261.7" y="63.0" width="1.3" height="1.3" fill="#b9c3f0"/><rect x="273.1" y="67.1" width="1.3" height="1.3" fill="#4b69dc"/><rect x="272.3" y="65.0" width="1.3" height="1.3" fill="#b9c3f0"/><rect x="259.5" y="72.2" width="1.3" height="1.3" fill="#b9c3f0"/><rect x="256.7" y="70.5" width="1.3" height="1.3" fill="#191e82"/><rect x="262.9" y="63.8" width="1.3" height="1.3" fill="#4b69dc"/><rect x="260.4" y="72.0" width="1.3" height="1.3" fill="#193cd2"/><rect x="258.6" y="73.3" width="1.3" height="1.3" fill="#193cd2"/><rect x="258.8" y="66.5" width="1.3" height="1.3" fill="#8ca0e8"/><rect x="274.1" y="71.1" width="1.3" height="1.3" fill="#4b69dc"/><rect x="271.4" y="72.6" width="1.3" height="1.3" fill="#191e82"/><rect x="270.9" y="73.6" width="1.3" height="1.3" fill="#193cd2"/><rect x="272.0" y="73.9" width="1.3" height="1.3" fill="#8ca0e8"/><rect x="270.7" y="69.4" width="1.3" height="1.3" fill="#193cd2"/><rect x="270.0" y="62.8" width="1.3" height="1.3" fill="#4b69dc"/><rect x="258.7" y="72.0" width="1.3" height="1.3" fill="#b9c3f0"/><rect x="260.4" y="72.3" width="1.3" height="1.3" fill="#b9c3f0"/><rect x="267.4" y="74.1" width="1.3" height="1.3" fill="#b9c3f0"/><rect x="263.7" y="62.5" width="1.3" height="1.3" fill="#193cd2"/><rect x="262.1" y="63.2" width="1.3" height="1.3" fill="#b9c3f0"/><rect x="258.5" y="72.9" width="1.3" height="1.3" fill="#4b69dc"/><rect x="266.9" y="74.3" width="1.3" height="1.3" fill="#8ca0e8"/><rect x="258.5" y="73.0" width="1.3" height="1.3" fill="#191e82"/><rect x="259.8" y="68.3" width="1.3" height="1.3" fill="#b9c3f0"/><rect x="262.6" y="63.6" width="1.3" height="1.3" fill="#4b69dc"/><rect x="264.7" y="65.3" width="1.3" height="1.3" fill="#b9c3f0"/><rect x="261.5" y="64.4" width="1.3" height="1.3" fill="#32afe1"/><rect x="271.4" y="70.6" width="1.3" height="1.3" fill="#191e82"/><rect x="267.0" y="62.6" width="1.3" height="1.3" fill="#193cd2"/><rect x="271.0" y="74.3" width="1.3" height="1.3" fill="#8ca0e8"/><rect x="261.2" y="73.2" width="1.3" height="1.3" fill="#3cbe50"/><rect x="271.3" y="66.3" width="1.3" height="1.3" fill="#3cbe50"/><rect x="272.2" y="71.0" width="1.3" height="1.3" fill="#8ca0e8"/><rect x="269.7" y="73.1" width="1.3" height="1.3" fill="#4b69dc"/><rect x="271.8" y="72.7" width="1.3" height="1.3" fill="#4b69dc"/><rect x="269.3" y="73.4" width="1.3" height="1.3" fill="#3cbe50"/><rect x="272.7" y="68.8" width="1.3" height="1.3" fill="#32afe1"/><rect x="265.4" y="65.1" width="1.3" height="1.3" fill="#191e82"/><rect x="271.0" y="71.0" width="1.3" height="1.3" fill="#8ca0e8"/><rect x="268.6" y="73.0" width="1.3" height="1.3" fill="#4b69dc"/><rect x="267.3" y="63.3" width="1.3" height="1.3" fill="#4b69dc"/><rect x="269.2" y="72.8" width="1.3" height="1.3" fill="#4b69dc"/><rect x="271.8" y="69.4" width="1.3" height="1.3" fill="#193cd2"/><rect x="268.4" y="71.8" width="1.3" height="1.3" fill="#191e82"/><rect x="265.8" y="73.9" width="1.3" height="1.3" fill="#3cbe50"/><rect x="268.5" y="66.0" width="1.3" height="1.3" fill="#32afe1"/><rect x="264.9" y="73.0" width="1.3" height="1.3" fill="#191e82"/><rect x="267.5" y="64.1" width="1.3" height="1.3" fill="#3cbe50"/><rect x="271.7" y="68.7" width="1.3" height="1.3" fill="#4b69dc"/><rect x="267.4" y="73.8" width="1.3" height="1.3" fill="#4b69dc"/><rect x="265.0" y="73.1" width="1.3" height="1.3" fill="#191e82"/><rect x="267.2" y="72.3" width="1.3" height="1.3" fill="#191e82"/><rect x="267.5" y="72.9" width="1.3" height="1.3" fill="#191e82"/><rect x="265.5" y="65.2" width="1.3" height="1.3" fill="#3cbe50"/><rect x="271.1" y="67.7" width="1.3" height="1.3" fill="#32afe1"/><rect x="262.7" y="67.0" width="1.3" height="1.3" fill="#8ca0e8"/><rect x="260.0" y="71.8" width="1.3" height="1.3" fill="#193cd2"/><rect x="268.1" y="72.9" width="1.3" height="1.3" fill="#8ca0e8"/><rect x="264.7" y="72.0" width="1.3" height="1.3" fill="#4b69dc"/><rect x="258.3" y="69.7" width="1.3" height="1.3" fill="#8ca0e8"/><rect x="263.7" y="73.2" width="1.3" height="1.3" fill="#193cd2"/><rect x="264.3" y="73.2" width="1.3" height="1.3" fill="#8ca0e8"/><rect x="264.5" y="65.5" width="1.3" height="1.3" fill="#32afe1"/><rect x="271.0" y="70.1" width="1.3" height="1.3" fill="#191e82"/><rect x="265.0" y="73.2" width="1.3" height="1.3" fill="#191e82"/><rect x="265.4" y="66.7" width="1.3" height="1.3" fill="#4b69dc"/><rect x="270.6" y="69.9" width="1.3" height="1.3" fill="#8ca0e8"/><rect x="264.9" y="73.2" width="1.3" height="1.3" fill="#3cbe50"/><rect x="268.8" y="66.5" width="1.3" height="1.3" fill="#3cbe50"/><rect x="260.5" y="67.2" width="1.3" height="1.3" fill="#193cd2"/><rect x="262.2" y="70.5" width="1.3" height="1.3" fill="#32afe1"/><rect x="261.2" y="69.8" width="1.3" height="1.3" fill="#193cd2"/><rect x="270.1" y="69.9" width="1.3" height="1.3" fill="#191e82"/><rect x="264.9" y="65.2" width="1.3" height="1.3" fill="#32afe1"/><rect x="264.3" y="73.0" width="1.3" height="1.3" fill="#193cd2"/><rect x="269.4" y="65.9" width="1.3" height="1.3" fill="#32afe1"/><rect x="261.8" y="68.1" width="1.3" height="1.3" fill="#3cbe50"/><rect x="270.2" y="69.4" width="1.3" height="1.3" fill="#3cbe50"/><rect x="262.2" y="69.2" width="1.3" height="1.3" fill="#191e82"/><rect x="268.0" y="72.4" width="1.3" height="1.3" fill="#191e82"/><rect x="261.9" y="71.4" width="1.3" height="1.3" fill="#32afe1"/><rect x="262.2" y="67.0" width="1.3" height="1.3" fill="#3cbe50"/><rect x="262.0" y="67.4" width="1.3" height="1.3" fill="#3cbe50"/><rect x="263.8" y="72.8" width="1.3" height="1.3" fill="#191e82"/><rect x="270.1" y="70.3" width="1.3" height="1.3" fill="#193cd2"/><rect x="269.9" y="67.3" width="1.3" height="1.3" fill="#32afe1"/><rect x="261.9" y="70.3" width="1.3" height="1.3" fill="#8ca0e8"/><rect x="270.6" y="68.2" width="1.3" height="1.3" fill="#3cbe50"/><rect x="264.1" y="65.9" width="1.3" height="1.3" fill="#3cbe50"/><rect x="269.8" y="71.3" width="1.3" height="1.3" fill="#3cbe50"/><rect x="270.5" y="67.6" width="1.3" height="1.3" fill="#3cbe50"/><rect x="262.9" y="71.7" width="1.3" height="1.3" fill="#193cd2"/><rect x="262.6" y="70.5" width="1.3" height="1.3" fill="#4b69dc"/><rect x="261.2" y="69.8" width="1.3" height="1.3" fill="#8ca0e8"/><rect x="268.4" y="66.3" width="1.3" height="1.3" fill="#32afe1"/><rect x="267.9" y="72.9" width="1.3" height="1.3" fill="#191e82"/><rect x="264.3" y="65.2" width="1.3" height="1.3" fill="#193cd2"/><rect x="262.1" y="69.0" width="1.3" height="1.3" fill="#32afe1"/><rect x="263.3" y="71.8" width="1.3" height="1.3" fill="#191e82"/><rect x="267.2" y="68.1" width="1.3" height="1.3" fill="#4b69dc"/><rect x="264.0" y="66.1" width="1.3" height="1.3" fill="#4b69dc"/><rect x="271.7" y="69.6" width="1.3" height="1.3" fill="#191e82"/><rect x="263.3" y="70.6" width="1.3" height="1.3" fill="#3cbe50"/><rect x="264.6" y="72.5" width="1.3" height="1.3" fill="#3cbe50"/><rect x="266.9" y="71.9" width="1.3" height="1.3" fill="#3cbe50"/><rect x="264.1" y="68.6" width="1.3" height="1.3" fill="#191e82"/><rect x="264.5" y="72.3" width="1.3" height="1.3" fill="#3cbe50"/><rect x="269.8" y="70.8" width="1.3" height="1.3" fill="#3cbe50"/><rect x="262.5" y="71.2" width="1.3" height="1.3" fill="#82cd78"/><rect x="266.1" y="71.1" width="1.3" height="1.3" fill="#3cbe50"/><rect x="268.6" y="66.2" width="1.3" height="1.3" fill="#191e82"/><rect x="268.2" y="72.2" width="1.3" height="1.3" fill="#3cbe50"/><rect x="261.7" y="72.0" width="1.3" height="1.3" fill="#32afe1"/><rect x="267.1" y="72.3" width="1.3" height="1.3" fill="#32afe1"/><rect x="262.9" y="71.1" width="1.3" height="1.3" fill="#3cbe50"/><rect x="267.8" y="67.9" width="1.3" height="1.3" fill="#3cbe50"/><rect x="263.8" y="68.4" width="1.3" height="1.3" fill="#3cbe50"/><rect x="267.5" y="68.2" width="1.3" height="1.3" fill="#191e82"/><rect x="265.4" y="69.3" width="1.3" height="1.3" fill="#32afe1"/><rect x="266.6" y="67.7" width="1.3" height="1.3" fill="#191e82"/><rect x="268.3" y="70.4" width="1.3" height="1.3" fill="#32afe1"/><rect x="265.7" y="67.1" width="1.3" height="1.3" fill="#82cd78"/><rect x="265.4" y="66.7" width="1.3" height="1.3" fill="#3cbe50"/><rect x="262.2" y="70.8" width="1.3" height="1.3" fill="#191e82"/><rect x="268.9" y="69.3" width="1.3" height="1.3" fill="#3cbe50"/><rect x="265.4" y="69.2" width="1.3" height="1.3" fill="#82cd78"/><rect x="264.1" y="71.1" width="1.3" height="1.3" fill="#3cbe50"/><rect x="267.3" y="71.6" width="1.3" height="1.3" fill="#32afe1"/><rect x="267.9" y="70.7" width="1.3" height="1.3" fill="#191e82"/><rect x="265.8" y="67.1" width="1.3" height="1.3" fill="#3cbe50"/><rect x="265.6" y="69.2" width="1.3" height="1.3" fill="#3cbe50"/><rect x="265.4" y="70.4" width="1.3" height="1.3" fill="#3cbe50"/><rect x="266.9" y="69.4" width="1.3" height="1.3" fill="#3cbe50"/><rect x="267.4" y="70.6" width="1.3" height="1.3" fill="#3cbe50"/><rect x="267.1" y="70.0" width="1.3" height="1.3" fill="#3cbe50"/><rect x="267.3" y="70.1" width="1.3" height="1.3" fill="#82cd78"/><rect x="265.5" y="69.2" width="1.3" height="1.3" fill="#191e82"/><rect x="265.1" y="68.9" width="1.3" height="1.3" fill="#32afe1"/><rect x="264.5" y="70.5" width="1.3" height="1.3" fill="#191e82"/><rect x="264.9" y="69.1" width="1.3" height="1.3" fill="#82cd78"/></g>
<g><rect x="375.1" y="72.5" width="1.3" height="1.3" fill="#8ca0e8"/><rect x="361.5" y="77.5" width="1.3" height="1.3" fill="#8ca0e8"/><rect x="377.0" y="73.4" width="1.3" height="1.3" fill="#b9c3f0"/><rect x="365.6" y="79.3" width="1.3" height="1.3" fill="#b9c3f0"/><rect x="381.1" y="66.5" width="1.3" height="1.3" fill="#8ca0e8"/><rect x="376.9" y="68.0" width="1.3" height="1.3" fill="#8ca0e8"/><rect x="361.7" y="63.9" width="1.3" height="1.3" fill="#b9c3f0"/><rect x="324.4" y="65.0" width="1.3" height="1.3" fill="#8ca0e8"/><rect x="364.3" y="73.1" width="1.3" height="1.3" fill="#b9c3f0"/><rect x="365.5" y="72.6" width="1.3" height="1.3" fill="#b9c3f0"/><rect x="368.8" y="70.6" width="1.3" height="1.3" fill="#8ca0e8"/><rect x="379.2" y="66.7" width="1.3" height="1.3" fill="#8ca0e8"/><rect x="361.9" y="66.7" width="1.3" height="1.3" fill="#8ca0e8"/><rect x="378.2" y="67.8" width="1.3" height="1.3" fill="#8ca0e8"/><rect x="364.4" y="60.9" width="1.3" height="1.3" fill="#8ca0e8"/><rect x="370.2" y="69.0" width="1.3" height="1.3" fill="#b9c3f0"/><rect x="374.3" y="77.2" width="1.3" height="1.3" fill="#8ca0e8"/><rect x="373.1" y="68.5" width="1.3" height="1.3" fill="#b9c3f0"/><rect x="377.9" y="66.4" width="1.3" height="1.3" fill="#b9c3f0"/><rect x="379.3" y="71.9" width="1.3" height="1.3" fill="#8ca0e8"/><rect x="363.0" y="73.4" width="1.3" height="1.3" fill="#b9c3f0"/><rect x="363.5" y="73.2" width="1.3" height="1.3" fill="#8ca0e8"/><rect x="383.1" y="73.4" width="1.3" height="1.3" fill="#8ca0e8"/><rect x="361.6" y="74.8" width="1.3" height="1.3" fill="#b9c3f0"/><rect x="332.1" y="81.7" width="1.3" height="1.3" fill="#b9c3f0"/><rect x="365.8" y="73.4" width="1.3" height="1.3" fill="#8ca0e8"/><rect x="380.7" y="67.9" width="1.3" height="1.3" fill="#b9c3f0"/><rect x="325.9" y="77.3" width="1.3" height="1.3" fill="#8ca0e8"/><rect x="366.7" y="77.3" width="1.3" height="1.3" fill="#b9c3f0"/><rect x="361.6" y="69.5" width="1.3" height="1.3" fill="#8ca0e8"/><rect x="364.1" y="73.2" width="1.3" height="1.3" fill="#b9c3f0"/><rect x="363.7" y="75.5" width="1.3" height="1.3" fill="#8ca0e8"/><rect x="374.5" y="76.0" width="1.3" height="1.3" fill="#8ca0e8"/><rect x="368.0" y="79.9" width="1.3" height="1.3" fill="#8ca0e8"/><rect x="373.1" y="69.5" width="1.3" height="1.3" fill="#b9c3f0"/><rect x="362.0" y="60.4" width="1.3" height="1.3" fill="#8ca0e8"/><rect x="368.8" y="69.0" width="1.3" height="1.3" fill="#b9c3f0"/><rect x="362.7" y="73.1" width="1.3" height="1.3" fill="#8ca0e8"/><rect x="367.6" y="75.8" width="1.3" height="1.3" fill="#8ca0e8"/><rect x="363.3" y="70.2" width="1.3" height="1.3" fill="#8ca0e8"/><rect x="383.1" y="72.3" width="1.3" height="1.3" fill="#8ca0e8"/><rect x="369.8" y="71.1" width="1.3" height="1.3" fill="#b9c3f0"/><rect x="362.7" y="70.3" width="1.3" height="1.3" fill="#b9c3f0"/><rect x="361.9" y="69.1" width="1.3" height="1.3" fill="#8ca0e8"/><rect x="365.8" y="67.0" width="1.3" height="1.3" fill="#8ca0e8"/><rect x="363.6" y="73.0" width="1.3" height="1.3" fill="#8ca0e8"/><rect x="363.6" y="66.3" width="1.3" height="1.3" fill="#8ca0e8"/><rect x="373.0" y="67.9" width="1.3" height="1.3" fill="#b9c3f0"/><rect x="370.9" y="76.5" width="1.3" height="1.3" fill="#b9c3f0"/><rect x="365.8" y="64.9" width="1.3" height="1.3" fill="#b9c3f0"/><rect x="364.3" y="73.5" width="1.3" height="1.3" fill="#8ca0e8"/><rect x="365.7" y="77.9" width="1.3" height="1.3" fill="#8ca0e8"/><rect x="376.7" y="70.3" width="1.3" height="1.3" fill="#b9c3f0"/><rect x="374.0" y="76.8" width="1.3" height="1.3" fill="#b9c3f0"/><rect x="362.0" y="70.3" width="1.3" height="1.3" fill="#8ca0e8"/><rect x="362.5" y="75.9" width="1.3" height="1.3" fill="#b9c3f0"/><rect x="370.9" y="79.2" width="1.3" height="1.3" fill="#b9c3f0"/><rect x="330.7" y="64.8" width="1.3" height="1.3" fill="#8ca0e8"/><rect x="364.1" y="71.0" width="1.3" height="1.3" fill="#8ca0e8"/><rect x="351.7" y="84.8" width="1.3" height="1.3" fill="#b9c3f0"/><rect x="371.5" y="78.2" width="1.3" height="1.3" fill="#b9c3f0"/><rect x="337.2" y="59.1" width="1.3" height="1.3" fill="#b9c3f0"/><rect x="373.2" y="70.7" width="1.3" height="1.3" fill="#b9c3f0"/><rect x="367.4" y="64.1" width="1.3" height="1.3" fill="#8ca0e8"/><rect x="369.5" y="68.8" width="1.3" height="1.3" fill="#8ca0e8"/><rect x="361.6" y="75.5" width="1.3" height="1.3" fill="#b9c3f0"/><rect x="365.4" y="70.6" width="1.3" height="1.3" fill="#b9c3f0"/><rect x="368.8" y="74.3" width="1.3" height="1.3" fill="#8ca0e8"/><rect x="370.0" y="75.0" width="1.3" height="1.3" fill="#b9c3f0"/><rect x="361.5" y="73.9" width="1.3" height="1.3" fill="#b9c3f0"/><rect x="372.2" y="65.5" width="1.3" height="1.3" fill="#b9c3f0"/><rect x="354.8" y="83.0" width="1.3" height="1.3" fill="#b9c3f0"/><rect x="364.2" y="74.9" width="1.3" height="1.3" fill="#b9c3f0"/><rect x="362.5" y="63.5" width="1.3" height="1.3" fill="#8ca0e8"/><rect x="361.9" y="71.9" width="1.3" height="1.3" fill="#b9c3f0"/><rect x="370.2" y="68.5" width="1.3" height="1.3" fill="#8ca0e8"/><rect x="370.8" y="73.3" width="1.3" height="1.3" fill="#8ca0e8"/><rect x="361.6" y="68.2" width="1.3" height="1.3" fill="#b9c3f0"/><rect x="351.8" y="84.1" width="1.3" height="1.3" fill="#b9c3f0"/><rect x="335.2" y="58.4" width="1.3" height="1.3" fill="#b9c3f0"/><rect x="356.2" y="83.0" width="1.3" height="1.3" fill="#8ca0e8"/><rect x="355.5" y="56.9" width="1.3" height="1.3" fill="#8ca0e8"/><rect x="347.7" y="84.3" width="1.3" height="1.3" fill="#8ca0e8"/><rect x="343.1" y="57.8" width="1.3" height="1.3" fill="#b9c3f0"/><rect x="354.3" y="56.4" width="1.3" height="1.3" fill="#8ca0e8"/><rect x="335.3" y="61.8" width="1.3" height="1.3" fill="#8ca0e8"/><rect x="371.9" y="72.7" width="1.3" height="1.3" fill="#8ca0e8"/><rect x="331.6" y="77.4" width="1.3" height="1.3" fill="#8ca0e8"/><rect x="367.1" y="77.0" width="1.3" height="1.3" fill="#b9c3f0"/><rect x="355.0" y="57.6" width="1.3" height="1.3" fill="#b9c3f0"/><rect x="348.9" y="83.3" width="1.3" height="1.3" fill="#b9c3f0"/><rect x="348.8" y="58.6" width="1.3" height="1.3" fill="#8ca0e8"/><rect x="341.3" y="58.9" width="1.3" height="1.3" fill="#b9c3f0"/><rect x="332.6" y="76.2" width="1.3" height="1.3" fill="#8ca0e8"/><rect x="337.4" y="80.0" width="1.3" height="1.3" fill="#b9c3f0"/><rect x="346.1" y="58.3" width="1.3" height="1.3" fill="#b9c3f0"/><rect x="350.5" y="57.5" width="1.3" height="1.3" fill="#8ca0e8"/><rect x="337.6" y="62.9" width="1.3" height="1.3" fill="#8ca0e8"/><rect x="336.4" y="63.1" width="1.3" height="1.3" fill="#8ca0e8"/><rect x="344.2" y="81.8" width="1.3" height="1.3" fill="#8ca0e8"/><rect x="362.2" y="79.1" width="1.3" height="1.3" fill="#8ca0e8"/><rect x="353.6" y="81.9" width="1.3" height="1.3" fill="#8ca0e8"/><rect x="360.6" y="79.6" width="1.3" height="1.3" fill="#b9c3f0"/><rect x="365.9" y="73.3" width="1.3" height="1.3" fill="#b9c3f0"/><rect x="367.0" y="71.0" width="1.3" height="1.3" fill="#b9c3f0"/><rect x="367.0" y="77.9" width="1.3" height="1.3" fill="#8ca0e8"/><rect x="347.6" y="58.9" width="1.3" height="1.3" fill="#b9c3f0"/><rect x="359.6" y="80.0" width="1.3" height="1.3" fill="#8ca0e8"/><rect x="352.4" y="82.1" width="1.3" height="1.3" fill="#b9c3f0"/><rect x="365.2" y="76.9" width="1.3" height="1.3" fill="#8ca0e8"/><rect x="353.6" y="82.7" width="1.3" height="1.3" fill="#b9c3f0"/><rect x="357.9" y="59.9" width="1.3" height="1.3" fill="#b9c3f0"/><rect x="338.4" y="79.4" width="1.3" height="1.3" fill="#b9c3f0"/><rect x="345.4" y="58.2" width="1.3" height="1.3" fill="#8ca0e8"/><rect x="335.7" y="77.3" width="1.3" height="1.3" fill="#8ca0e8"/><rect x="357.9" y="60.0" width="1.3" height="1.3" fill="#b9c3f0"/><rect x="367.9" y="71.8" width="1.3" height="1.3" fill="#8ca0e8"/><rect x="348.7" y="82.7" width="1.3" height="1.3" fill="#8ca0e8"/><rect x="335.5" y="63.1" width="1.3" height="1.3" fill="#8ca0e8"/><rect x="364.8" y="73.4" width="1.3" height="1.3" fill="#8ca0e8"/><rect x="336.2" y="64.1" width="1.3" height="1.3" fill="#b9c3f0"/><rect x="366.8" y="72.2" width="1.3" height="1.3" fill="#8ca0e8"/><rect x="359.0" y="80.6" width="1.3" height="1.3" fill="#4b69dc"/><rect x="356.4" y="80.3" width="1.3" height="1.3" fill="#8ca0e8"/><rect x="332.3" y="69.1" width="1.3" height="1.3" fill="#8ca0e8"/><rect x="357.8" y="81.5" width="1.3" height="1.3" fill="#8ca0e8"/><rect x="357.4" y="80.4" width="1.3" height="1.3" fill="#8ca0e8"/><rect x="355.7" y="58.8" width="1.3" height="1.3" fill="#193cd2"/><rect x="365.1" y="71.6" width="1.3" height="1.3" fill="#8ca0e8"/><rect x="342.5" y="59.1" width="1.3" height="1.3" fill="#8ca0e8"/><rect x="341.4" y="79.2" width="1.3" height="1.3" fill="#4b69dc"/><rect x="332.5" y="74.3" width="1.3" height="1.3" fill="#4b69dc"/><rect x="349.8" y="59.9" width="1.3" height="1.3" fill="#4b69dc"/><rect x="335.8" y="77.5" width="1.3" height="1.3" fill="#4b69dc"/><rect x="356.3" y="80.2" width="1.3" height="1.3" fill="#193cd2"/><rect x="359.1" y="79.7" width="1.3" height="1.3" fill="#8ca0e8"/><rect x="361.3" y="61.7" width="1.3" height="1.3" fill="#8ca0e8"/><rect x="361.1" y="61.8" width="1.3" height="1.3" fill="#4b69dc"/><rect x="346.2" y="80.5" width="1.3" height="1.3" fill="#4b69dc"/><rect x="353.0" y="59.2" width="1.3" height="1.3" fill="#8ca0e8"/><rect x="332.9" y="74.6" width="1.3" height="1.3" fill="#193cd2"/><rect x="362.5" y="77.6" width="1.3" height="1.3" fill="#193cd2"/><rect x="350.7" y="60.1" width="1.3" height="1.3" fill="#4b69dc"/><rect x="363.5" y="76.0" width="1.3" height="1.3" fill="#4b69dc"/><rect x="350.1" y="61.2" width="1.3" height="1.3" fill="#8ca0e8"/><rect x="366.7" y="73.8" width="1.3" height="1.3" fill="#193cd2"/><rect x="363.0" y="65.4" width="1.3" height="1.3" fill="#193cd2"/><rect x="338.9" y="63.3" width="1.3" height="1.3" fill="#4b69dc"/><rect x="358.1" y="79.5" width="1.3" height="1.3" fill="#8ca0e8"/><rect x="342.7" y="60.8" width="1.3" height="1.3" fill="#4b69dc"/><rect x="360.6" y="77.2" width="1.3" height="1.3" fill="#4b69dc"/><rect x="348.3" y="81.1" width="1.3" height="1.3" fill="#193cd2"/><rect x="363.5" y="64.2" width="1.3" height="1.3" fill="#193cd2"/><rect x="340.7" y="78.4" width="1.3" height="1.3" fill="#193cd2"/><rect x="364.5" y="69.8" width="1.3" height="1.3" fill="#4b69dc"/><rect x="334.0" y="70.3" width="1.3" height="1.3" fill="#4b69dc"/><rect x="333.2" y="66.9" width="1.3" height="1.3" fill="#193cd2"/><rect x="340.4" y="61.9" width="1.3" height="1.3" fill="#193cd2"/><rect x="345.1" y="80.2" width="1.3" height="1.3" fill="#4b69dc"/><rect x="344.5" y="80.4" width="1.3" height="1.3" fill="#4b69dc"/><rect x="334.3" y="68.9" width="1.3" height="1.3" fill="#8ca0e8"/><rect x="364.0" y="68.0" width="1.3" height="1.3" fill="#8ca0e8"/><rect x="349.1" y="79.6" width="1.3" height="1.3" fill="#193cd2"/><rect x="359.8" y="62.8" width="1.3" height="1.3" fill="#4b69dc"/><rect x="361.3" y="66.9" width="1.3" height="1.3" fill="#193cd2"/><rect x="347.1" y="61.3" width="1.3" height="1.3" fill="#8ca0e8"/><rect x="337.4" y="77.3" width="1.3" height="1.3" fill="#8ca0e8"/><rect x="364.1" y="75.0" width="1.3" height="1.3" fill="#4b69dc"/><rect x="357.2" y="62.9" width="1.3" height="1.3" fill="#193cd2"/><rect x="339.5" y="64.4" width="1.3" height="1.3" fill="#4b69dc"/><rect x="333.9" y="67.4" width="1.3" height="1.3" fill="#8ca0e8"/><rect x="359.2" y="78.9" width="1.3" height="1.3" fill="#8ca0e8"/><rect x="351.1" y="80.2" width="1.3" height="1.3" fill="#8ca0e8"/><rect x="361.8" y="67.6" width="1.3" height="1.3" fill="#8ca0e8"/><rect x="364.8" y="68.3" width="1.3" height="1.3" fill="#4b69dc"/><rect x="335.7" y="75.5" width="1.3" height="1.3" fill="#4b69dc"/><rect x="348.5" y="60.8" width="1.3" height="1.3" fill="#4b69dc"/><rect x="334.8" y="72.9" width="1.3" height="1.3" fill="#4b69dc"/><rect x="339.8" y="64.1" width="1.3" height="1.3" fill="#4b69dc"/><rect x="363.2" y="74.4" width="1.3" height="1.3" fill="#8ca0e8"/><rect x="343.7" y="62.3" width="1.3" height="1.3" fill="#4b69dc"/><rect x="336.2" y="75.2" width="1.3" height="1.3" fill="#193cd2"/><rect x="340.5" y="62.9" width="1.3" height="1.3" fill="#4b69dc"/><rect x="362.7" y="65.3" width="1.3" height="1.3" fill="#193cd2"/><rect x="359.1" y="63.4" width="1.3" height="1.3" fill="#193cd2"/><rect x="350.9" y="79.5" width="1.3" height="1.3" fill="#4b69dc"/><rect x="360.5" y="77.4" width="1.3" height="1.3" fill="#193cd2"/><rect x="335.9" y="65.8" width="1.3" height="1.3" fill="#4b69dc"/><rect x="340.6" y="62.6" width="1.3" height="1.3" fill="#4b69dc"/><rect x="350.9" y="81.4" width="1.3" height="1.3" fill="#4b69dc"/><rect x="349.0" y="80.3" width="1.3" height="1.3" fill="#193cd2"/><rect x="357.1" y="62.2" width="1.3" height="1.3" fill="#4b69dc"/><rect x="348.9" y="59.5" width="1.3" height="1.3" fill="#8ca0e8"/><rect x="335.7" y="66.0" width="1.3" height="1.3" fill="#193cd2"/><rect x="349.2" y="58.2" width="1.3" height="1.3" fill="#193cd2"/><rect x="335.9" y="73.7" width="1.3" height="1.3" fill="#8ca0e8"/><rect x="364.7" y="73.2" width="1.3" height="1.3" fill="#193cd2"/><rect x="338.3" y="64.9" width="1.3" height="1.3" fill="#193cd2"/><rect x="335.3" y="75.8" width="1.3" height="1.3" fill="#193cd2"/><rect x="358.8" y="78.9" width="1.3" height="1.3" fill="#193cd2"/><rect x="336.7" y="72.1" width="1.3" height="1.3" fill="#8ca0e8"/><rect x="342.1" y="63.6" width="1.3" height="1.3" fill="#8ca0e8"/><rect x="338.1" y="64.5" width="1.3" height="1.3" fill="#193cd2"/><rect x="335.4" y="73.8" width="1.3" height="1.3" fill="#4b69dc"/><rect x="340.5" y="78.1" width="1.3" height="1.3" fill="#8ca0e8"/><rect x="356.8" y="79.9" width="1.3" height="1.3" fill="#4b69dc"/><rect x="342.8" y="79.2" width="1.3" height="1.3" fill="#193cd2"/><rect x="336.1" y="68.9" width="1.3" height="1.3" fill="#8ca0e8"/><rect x="338.3" y="67.2" width="1.3" height="1.3" fill="#193cd2"/><rect x="363.1" y="66.7" width="1.3" height="1.3" fill="#193cd2"/><rect x="343.5" y="80.6" width="1.3" height="1.3" fill="#193cd2"/><rect x="335.7" y="76.9" width="1.3" height="1.3" fill="#193cd2"/><rect x="362.6" y="76.1" width="1.3" height="1.3" fill="#4b69dc"/><rect x="341.2" y="62.6" width="1.3" height="1.3" fill="#193cd2"/><rect x="335.8" y="73.9" width="1.3" height="1.3" fill="#4b69dc"/><rect x="347.1" y="79.8" width="1.3" height="1.3" fill="#8ca0e8"/><rect x="359.6" y="77.9" width="1.3" height="1.3" fill="#4b69dc"/><rect x="340.0" y="65.0" width="1.3" height="1.3" fill="#8ca0e8"/><rect x="362.9" y="75.0" width="1.3" height="1.3" fill="#4b69dc"/><rect x="336.0" y="75.6" width="1.3" height="1.3" fill="#193cd2"/><rect x="362.7" y="76.1" width="1.3" height="1.3" fill="#4b69dc"/><rect x="348.7" y="80.4" width="1.3" height="1.3" fill="#8ca0e8"/><rect x="336.0" y="69.4" width="1.3" height="1.3" fill="#4b69dc"/><rect x="357.3" y="62.1" width="1.3" height="1.3" fill="#4b69dc"/><rect x="334.6" y="74.1" width="1.3" height="1.3" fill="#4b69dc"/><rect x="342.5" y="62.1" width="1.3" height="1.3" fill="#193cd2"/><rect x="354.3" y="79.8" width="1.3" height="1.3" fill="#4b69dc"/><rect x="354.9" y="62.5" width="1.3" height="1.3" fill="#8ca0e8"/><rect x="354.6" y="61.2" width="1.3" height="1.3" fill="#4b69dc"/><rect x="345.4" y="62.3" width="1.3" height="1.3" fill="#193cd2"/><rect x="362.7" y="74.5" width="1.3" height="1.3" fill="#4b69dc"/><rect x="362.7" y="74.7" width="1.3" height="1.3" fill="#4b69dc"/><rect x="363.1" y="75.6" width="1.3" height="1.3" fill="#193cd2"/><rect x="336.6" y="74.8" width="1.3" height="1.3" fill="#8ca0e8"/><rect x="355.0" y="64.1" width="1.3" height="1.3" fill="#8ca0e8"/><rect x="358.4" y="62.7" width="1.3" height="1.3" fill="#193cd2"/><rect x="357.6" y="77.7" width="1.3" height="1.3" fill="#4b69dc"/><rect x="349.1" y="79.4" width="1.3" height="1.3" fill="#4b69dc"/><rect x="364.5" y="71.0" width="1.3" height="1.3" fill="#4b69dc"/><rect x="337.1" y="73.7" width="1.3" height="1.3" fill="#193cd2"/><rect x="344.5" y="79.0" width="1.3" height="1.3" fill="#8ca0e8"/><rect x="349.3" y="80.4" width="1.3" height="1.3" fill="#4b69dc"/><rect x="351.6" y="61.8" width="1.3" height="1.3" fill="#8ca0e8"/><rect x="341.6" y="77.1" width="1.3" height="1.3" fill="#4b69dc"/><rect x="342.6" y="78.6" width="1.3" height="1.3" fill="#4b69dc"/><rect x="341.4" y="62.2" width="1.3" height="1.3" fill="#193cd2"/><rect x="347.0" y="79.7" width="1.3" height="1.3" fill="#4b69dc"/><rect x="336.7" y="70.4" width="1.3" height="1.3" fill="#8ca0e8"/><rect x="341.7" y="78.6" width="1.3" height="1.3" fill="#193cd2"/><rect x="357.1" y="77.9" width="1.3" height="1.3" fill="#4b69dc"/><rect x="354.0" y="63.4" width="1.3" height="1.3" fill="#4b69dc"/><rect x="348.3" y="79.6" width="1.3" height="1.3" fill="#193cd2"/><rect x="343.0" y="63.1" width="1.3" height="1.3" fill="#8ca0e8"/><rect x="345.5" y="62.4" width="1.3" height="1.3" fill="#193cd2"/><rect x="339.8" y="76.9" width="1.3" height="1.3" fill="#4b69dc"/><rect x="345.9" y="63.3" width="1.3" height="1.3" fill="#8ca0e8"/><rect x="362.0" y="75.2" width="1.3" height="1.3" fill="#8ca0e8"/><rect x="362.3" y="74.3" width="1.3" height="1.3" fill="#8ca0e8"/><rect x="343.8" y="63.4" width="1.3" height="1.3" fill="#193cd2"/><rect x="336.7" y="74.4" width="1.3" height="1.3" fill="#8ca0e8"/><rect x="346.5" y="79.3" width="1.3" height="1.3" fill="#193cd2"/><rect x="335.1" y="73.3" width="1.3" height="1.3" fill="#8ca0e8"/><rect x="359.9" y="76.7" width="1.3" height="1.3" fill="#8ca0e8"/><rect x="358.1" y="76.7" width="1.3" height="1.3" fill="#193cd2"/><rect x="342.3" y="78.3" width="1.3" height="1.3" fill="#4b69dc"/><rect x="363.6" y="70.4" width="1.3" height="1.3" fill="#193cd2"/><rect x="354.5" y="63.4" width="1.3" height="1.3" fill="#193cd2"/><rect x="362.8" y="73.9" width="1.3" height="1.3" fill="#193cd2"/><rect x="345.6" y="60.4" width="1.3" height="1.3" fill="#193cd2"/><rect x="350.8" y="79.1" width="1.3" height="1.3" fill="#193cd2"/><rect x="340.0" y="69.5" width="1.3" height="1.3" fill="#4b69dc"/><rect x="351.4" y="61.1" width="1.3" height="1.3" fill="#4b69dc"/><rect x="361.5" y="73.0" width="1.3" height="1.3" fill="#193cd2"/><rect x="338.5" y="77.2" width="1.3" height="1.3" fill="#193cd2"/><rect x="362.4" y="70.9" width="1.3" height="1.3" fill="#4b69dc"/><rect x="352.4" y="78.7" width="1.3" height="1.3" fill="#32afe1"/><rect x="337.4" y="71.7" width="1.3" height="1.3" fill="#193cd2"/><rect x="358.6" y="77.5" width="1.3" height="1.3" fill="#4b69dc"/><rect x="340.9" y="62.4" width="1.3" height="1.3" fill="#193cd2"/><rect x="346.8" y="79.3" width="1.3" height="1.3" fill="#32afe1"/><rect x="362.4" y="74.3" width="1.3" height="1.3" fill="#32afe1"/><rect x="349.5" y="61.8" width="1.3" height="1.3" fill="#193cd2"/><rect x="354.4" y="64.7" width="1.3" height="1.3" fill="#193cd2"/><rect x="350.2" y="79.5" width="1.3" height="1.3" fill="#193cd2"/><rect x="345.2" y="63.7" width="1.3" height="1.3" fill="#193cd2"/><rect x="343.8" y="78.6" width="1.3" height="1.3" fill="#4b69dc"/><rect x="341.1" y="77.9" width="1.3" height="1.3" fill="#193cd2"/><rect x="359.0" y="75.6" width="1.3" height="1.3" fill="#193cd2"/><rect x="341.6" y="64.6" width="1.3" height="1.3" fill="#193cd2"/><rect x="358.5" y="75.3" width="1.3" height="1.3" fill="#4b69dc"/><rect x="349.1" y="61.6" width="1.3" height="1.3" fill="#4b69dc"/><rect x="348.6" y="62.7" width="1.3" height="1.3" fill="#32afe1"/><rect x="360.7" y="73.9" width="1.3" height="1.3" fill="#193cd2"/><rect x="350.5" y="79.5" width="1.3" height="1.3" fill="#32afe1"/><rect x="349.6" y="64.0" width="1.3" height="1.3" fill="#193cd2"/><rect x="358.0" y="64.2" width="1.3" height="1.3" fill="#4b69dc"/><rect x="349.7" y="62.0" width="1.3" height="1.3" fill="#193cd2"/><rect x="337.4" y="73.7" width="1.3" height="1.3" fill="#193cd2"/><rect x="339.9" y="75.1" width="1.3" height="1.3" fill="#193cd2"/><rect x="361.0" y="69.4" width="1.3" height="1.3" fill="#193cd2"/><rect x="337.8" y="73.4" width="1.3" height="1.3" fill="#4b69dc"/><rect x="356.2" y="77.5" width="1.3" height="1.3" fill="#32afe1"/><rect x="350.6" y="79.1" width="1.3" height="1.3" fill="#193cd2"/><rect x="356.0" y="76.5" width="1.3" height="1.3" fill="#193cd2"/><rect x="362.6" y="72.4" width="1.3" height="1.3" fill="#193cd2"/><rect x="357.4" y="66.3" width="1.3" height="1.3" fill="#32afe1"/><rect x="347.2" y="78.3" width="1.3" height="1.3" fill="#193cd2"/><rect x="338.7" y="66.4" width="1.3" height="1.3" fill="#32afe1"/><rect x="363.2" y="74.1" width="1.3" height="1.3" fill="#32afe1"/><rect x="353.4" y="77.9" width="1.3" height="1.3" fill="#193cd2"/><rect x="341.5" y="76.9" width="1.3" height="1.3" fill="#4b69dc"/><rect x="349.9" y="62.9" width="1.3" height="1.3" fill="#193cd2"/><rect x="358.2" y="76.9" width="1.3" height="1.3" fill="#4b69dc"/><rect x="339.7" y="66.3" width="1.3" height="1.3" fill="#32afe1"/><rect x="344.4" y="65.0" width="1.3" height="1.3" fill="#32afe1"/><rect x="349.5" y="62.8" width="1.3" height="1.3" fill="#193cd2"/><rect x="342.0" y="78.0" width="1.3" height="1.3" fill="#4b69dc"/><rect x="341.3" y="67.2" width="1.3" height="1.3" fill="#4b69dc"/><rect x="353.5" y="78.7" width="1.3" height="1.3" fill="#4b69dc"/><rect x="345.0" y="77.3" width="1.3" height="1.3" fill="#32afe1"/><rect x="361.1" y="75.1" width="1.3" height="1.3" fill="#32afe1"/><rect x="336.9" y="73.1" width="1.3" height="1.3" fill="#193cd2"/><rect x="339.1" y="69.0" width="1.3" height="1.3" fill="#193cd2"/><rect x="347.1" y="63.3" width="1.3" height="1.3" fill="#4b69dc"/><rect x="359.2" y="65.7" width="1.3" height="1.3" fill="#193cd2"/><rect x="360.3" y="75.5" width="1.3" height="1.3" fill="#193cd2"/><rect x="343.8" y="63.2" width="1.3" height="1.3" fill="#193cd2"/><rect x="344.4" y="64.3" width="1.3" height="1.3" fill="#4b69dc"/><rect x="363.0" y="72.1" width="1.3" height="1.3" fill="#32afe1"/><rect x="337.2" y="71.9" width="1.3" height="1.3" fill="#193cd2"/><rect x="358.9" y="65.5" width="1.3" height="1.3" fill="#32afe1"/><rect x="338.5" y="71.0" width="1.3" height="1.3" fill="#32afe1"/><rect x="355.3" y="65.2" width="1.3" height="1.3" fill="#193cd2"/><rect x="340.2" y="77.2" width="1.3" height="1.3" fill="#193cd2"/><rect x="358.1" y="66.5" width="1.3" height="1.3" fill="#193cd2"/><rect x="360.3" y="71.4" width="1.3" height="1.3" fill="#193cd2"/><rect x="343.4" y="65.5" width="1.3" height="1.3" fill="#4b69dc"/><rect x="341.9" y="64.4" width="1.3" height="1.3" fill="#193cd2"/><rect x="351.1" y="77.9" width="1.3" height="1.3" fill="#193cd2"/><rect x="360.2" y="69.8" width="1.3" height="1.3" fill="#193cd2"/><rect x="361.4" y="69.1" width="1.3" height="1.3" fill="#193cd2"/><rect x="339.5" y="72.0" width="1.3" height="1.3" fill="#193cd2"/><rect x="337.8" y="71.8" width="1.3" height="1.3" fill="#193cd2"/><rect x="339.2" y="69.5" width="1.3" height="1.3" fill="#4b69dc"/><rect x="339.3" y="74.8" width="1.3" height="1.3" fill="#193cd2"/><rect x="342.7" y="64.2" width="1.3" height="1.3" fill="#32afe1"/><rect x="355.7" y="65.3" width="1.3" height="1.3" fill="#32afe1"/><rect x="362.0" y="73.6" width="1.3" height="1.3" fill="#193cd2"/><rect x="355.5" y="77.9" width="1.3" height="1.3" fill="#193cd2"/><rect x="358.8" y="74.5" width="1.3" height="1.3" fill="#32afe1"/><rect x="345.6" y="78.4" width="1.3" height="1.3" fill="#4b69dc"/><rect x="343.4" y="66.9" width="1.3" height="1.3" fill="#4b69dc"/><rect x="347.6" y="63.2" width="1.3" height="1.3" fill="#32afe1"/><rect x="338.1" y="68.9" width="1.3" height="1.3" fill="#32afe1"/><rect x="361.3" y="72.4" width="1.3" height="1.3" fill="#32afe1"/><rect x="361.5" y="72.3" width="1.3" height="1.3" fill="#193cd2"/><rect x="350.8" y="63.1" width="1.3" height="1.3" fill="#4b69dc"/><rect x="351.1" y="61.9" width="1.3" height="1.3" fill="#4b69dc"/><rect x="353.0" y="78.2" width="1.3" height="1.3" fill="#32afe1"/><rect x="348.2" y="78.0" width="1.3" height="1.3" fill="#32afe1"/><rect x="340.3" y="68.9" width="1.3" height="1.3" fill="#32afe1"/><rect x="339.6" y="76.2" width="1.3" height="1.3" fill="#4b69dc"/><rect x="341.8" y="77.0" width="1.3" height="1.3" fill="#193cd2"/><rect x="339.2" y="70.7" width="1.3" height="1.3" fill="#4b69dc"/><rect x="344.3" y="64.8" width="1.3" height="1.3" fill="#32afe1"/><rect x="339.2" y="75.7" width="1.3" height="1.3" fill="#4b69dc"/><rect x="345.7" y="77.2" width="1.3" height="1.3" fill="#4b69dc"/><rect x="360.0" y="69.7" width="1.3" height="1.3" fill="#4b69dc"/><rect x="354.1" y="78.4" width="1.3" height="1.3" fill="#4b69dc"/><rect x="340.2" y="65.5" width="1.3" height="1.3" fill="#193cd2"/><rect x="361.9" y="72.7" width="1.3" height="1.3" fill="#193cd2"/><rect x="346.2" y="64.0" width="1.3" height="1.3" fill="#193cd2"/><rect x="358.9" y="73.7" width="1.3" height="1.3" fill="#4b69dc"/><rect x="358.0" y="68.4" width="1.3" height="1.3" fill="#32afe1"/><rect x="337.4" y="72.4" width="1.3" height="1.3" fill="#193cd2"/><rect x="342.0" y="76.0" width="1.3" height="1.3" fill="#32afe1"/><rect x="338.7" y="74.4" width="1.3" height="1.3" fill="#4b69dc"/><rect x="360.8" y="72.0" width="1.3" height="1.3" fill="#32afe1"/><rect x="337.0" y="71.7" width="1.3" height="1.3" fill="#193cd2"/><rect x="360.7" y="69.6" width="1.3" height="1.3" fill="#193cd2"/><rect x="345.8" y="78.6" width="1.3" height="1.3" fill="#4b69dc"/><rect x="351.5" y="78.3" width="1.3" height="1.3" fill="#4b69dc"/><rect x="354.9" y="77.1" width="1.3" height="1.3" fill="#193cd2"/><rect x="346.7" y="64.0" width="1.3" height="1.3" fill="#193cd2"/><rect x="338.2" y="72.2" width="1.3" height="1.3" fill="#4b69dc"/><rect x="342.5" y="75.8" width="1.3" height="1.3" fill="#4b69dc"/><rect x="357.6" y="76.8" width="1.3" height="1.3" fill="#193cd2"/><rect x="356.1" y="76.5" width="1.3" height="1.3" fill="#193cd2"/><rect x="359.4" y="73.0" width="1.3" height="1.3" fill="#32afe1"/><rect x="352.2" y="78.6" width="1.3" height="1.3" fill="#32afe1"/><rect x="346.8" y="63.5" width="1.3" height="1.3" fill="#32afe1"/><rect x="354.8" y="64.5" width="1.3" height="1.3" fill="#193cd2"/><rect x="339.8" y="73.1" width="1.3" height="1.3" fill="#32afe1"/><rect x="343.8" y="65.2" width="1.3" height="1.3" fill="#193cd2"/><rect x="359.5" y="73.3" width="1.3" height="1.3" fill="#193cd2"/><rect x="357.1" y="66.9" width="1.3" height="1.3" fill="#193cd2"/><rect x="338.9" y="67.0" width="1.3" height="1.3" fill="#4b69dc"/><rect x="355.8" y="78.2" width="1.3" height="1.3" fill="#193cd2"/><rect x="352.6" y="78.9" width="1.3" height="1.3" fill="#32afe1"/><rect x="343.7" y="64.8" width="1.3" height="1.3" fill="#193cd2"/><rect x="361.2" y="73.8" width="1.3" height="1.3" fill="#4b69dc"/><rect x="343.0" y="64.7" width="1.3" height="1.3" fill="#193cd2"/><rect x="343.2" y="74.1" width="1.3" height="1.3" fill="#4b69dc"/><rect x="341.1" y="71.3" width="1.3" height="1.3" fill="#4b69dc"/><rect x="338.1" y="69.9" width="1.3" height="1.3" fill="#4b69dc"/><rect x="353.7" y="76.9" width="1.3" height="1.3" fill="#32afe1"/><rect x="352.8" y="62.9" width="1.3" height="1.3" fill="#32afe1"/><rect x="358.1" y="76.4" width="1.3" height="1.3" fill="#32afe1"/><rect x="339.3" y="67.9" width="1.3" height="1.3" fill="#193cd2"/><rect x="361.3" y="73.3" width="1.3" height="1.3" fill="#193cd2"/><rect x="345.7" y="67.0" width="1.3" height="1.3" fill="#4b69dc"/><rect x="345.7" y="76.9" width="1.3" height="1.3" fill="#193cd2"/><rect x="357.4" y="73.5" width="1.3" height="1.3" fill="#4b69dc"/><rect x="340.1" y="66.1" width="1.3" height="1.3" fill="#193cd2"/><rect x="358.3" y="70.6" width="1.3" height="1.3" fill="#4b69dc"/><rect x="359.9" y="73.3" width="1.3" height="1.3" fill="#193cd2"/><rect x="342.3" y="65.1" width="1.3" height="1.3" fill="#193cd2"/><rect x="345.2" y="77.0" width="1.3" height="1.3" fill="#32afe1"/><rect x="339.1" y="73.0" width="1.3" height="1.3" fill="#193cd2"/><rect x="341.4" y="67.8" width="1.3" height="1.3" fill="#193cd2"/><rect x="350.7" y="78.2" width="1.3" height="1.3" fill="#193cd2"/><rect x="360.1" y="73.1" width="1.3" height="1.3" fill="#193cd2"/><rect x="357.4" y="75.6" width="1.3" height="1.3" fill="#193cd2"/><rect x="353.9" y="64.1" width="1.3" height="1.3" fill="#193cd2"/><rect x="357.8" y="76.0" width="1.3" height="1.3" fill="#193cd2"/><rect x="358.1" y="73.6" width="1.3" height="1.3" fill="#193cd2"/><rect x="358.4" y="70.3" width="1.3" height="1.3" fill="#32afe1"/><rect x="350.8" y="76.7" width="1.3" height="1.3" fill="#193cd2"/><rect x="342.8" y="66.3" width="1.3" height="1.3" fill="#4b69dc"/><rect x="344.0" y="65.6" width="1.3" height="1.3" fill="#193cd2"/><rect x="349.7" y="78.8" width="1.3" height="1.3" fill="#32afe1"/><rect x="339.9" y="70.5" width="1.3" height="1.3" fill="#32afe1"/><rect x="347.2" y="63.1" width="1.3" height="1.3" fill="#193cd2"/><rect x="351.6" y="78.4" width="1.3" height="1.3" fill="#32afe1"/><rect x="341.4" y="69.2" width="1.3" height="1.3" fill="#193cd2"/><rect x="350.4" y="64.9" width="1.3" height="1.3" fill="#193cd2"/><rect x="342.9" y="65.9" width="1.3" height="1.3" fill="#32afe1"/><rect x="356.2" y="66.4" width="1.3" height="1.3" fill="#193cd2"/><rect x="347.0" y="77.7" width="1.3" height="1.3" fill="#32afe1"/><rect x="340.4" y="69.3" width="1.3" height="1.3" fill="#32afe1"/><rect x="358.8" y="72.8" width="1.3" height="1.3" fill="#4b69dc"/><rect x="359.7" y="71.9" width="1.3" height="1.3" fill="#193cd2"/><rect x="356.7" y="76.7" width="1.3" height="1.3" fill="#32afe1"/><rect x="341.5" y="71.9" width="1.3" height="1.3" fill="#193cd2"/><rect x="339.1" y="73.2" width="1.3" height="1.3" fill="#32afe1"/><rect x="349.1" y="77.5" width="1.3" height="1.3" fill="#32afe1"/><rect x="349.4" y="77.5" width="1.3" height="1.3" fill="#193cd2"/><rect x="346.7" y="64.8" width="1.3" height="1.3" fill="#32afe1"/><rect x="354.5" y="65.5" width="1.3" height="1.3" fill="#193cd2"/><rect x="350.3" y="78.0" width="1.3" height="1.3" fill="#193cd2"/><rect x="346.9" y="76.9" width="1.3" height="1.3" fill="#4b69dc"/><rect x="355.4" y="66.3" width="1.3" height="1.3" fill="#193cd2"/><rect x="358.7" y="70.9" width="1.3" height="1.3" fill="#193cd2"/><rect x="342.0" y="77.1" width="1.3" height="1.3" fill="#193cd2"/><rect x="343.1" y="70.4" width="1.3" height="1.3" fill="#193cd2"/><rect x="347.6" y="77.3" width="1.3" height="1.3" fill="#193cd2"/><rect x="340.3" y="71.1" width="1.3" height="1.3" fill="#193cd2"/><rect x="347.1" y="77.1" width="1.3" height="1.3" fill="#4b69dc"/><rect x="355.1" y="66.3" width="1.3" height="1.3" fill="#32afe1"/><rect x="340.0" y="75.1" width="1.3" height="1.3" fill="#32afe1"/><rect x="347.5" y="65.9" width="1.3" height="1.3" fill="#4b69dc"/><rect x="357.1" y="73.4" width="1.3" height="1.3" fill="#193cd2"/><rect x="348.1" y="76.6" width="1.3" height="1.3" fill="#193cd2"/><rect x="341.4" y="74.6" width="1.3" height="1.3" fill="#32afe1"/><rect x="355.5" y="74.9" width="1.3" height="1.3" fill="#193cd2"/><rect x="346.7" y="63.8" width="1.3" height="1.3" fill="#4b69dc"/><rect x="342.2" y="68.8" width="1.3" height="1.3" fill="#193cd2"/><rect x="357.7" y="70.1" width="1.3" height="1.3" fill="#193cd2"/><rect x="355.3" y="75.9" width="1.3" height="1.3" fill="#32afe1"/><rect x="352.1" y="64.9" width="1.3" height="1.3" fill="#4b69dc"/><rect x="343.1" y="65.2" width="1.3" height="1.3" fill="#4b69dc"/><rect x="355.1" y="75.6" width="1.3" height="1.3" fill="#193cd2"/><rect x="355.5" y="67.3" width="1.3" height="1.3" fill="#4b69dc"/><rect x="341.0" y="75.1" width="1.3" height="1.3" fill="#32afe1"/><rect x="342.4" y="76.2" width="1.3" height="1.3" fill="#4b69dc"/><rect x="338.7" y="75.4" width="1.3" height="1.3" fill="#193cd2"/><rect x="342.4" y="67.9" width="1.3" height="1.3" fill="#193cd2"/><rect x="337.7" y="70.9" width="1.3" height="1.3" fill="#193cd2"/><rect x="354.7" y="67.0" width="1.3" height="1.3" fill="#193cd2"/><rect x="347.0" y="75.3" width="1.3" height="1.3" fill="#4b69dc"/><rect x="359.1" y="66.3" width="1.3" height="1.3" fill="#193cd2"/><rect x="358.0" y="73.4" width="1.3" height="1.3" fill="#193cd2"/><rect x="358.8" y="75.9" width="1.3" height="1.3" fill="#32afe1"/><rect x="354.8" y="69.0" width="1.3" height="1.3" fill="#193cd2"/><rect x="353.8" y="76.8" width="1.3" height="1.3" fill="#193cd2"/><rect x="349.0" y="77.6" width="1.3" height="1.3" fill="#4b69dc"/><rect x="352.2" y="76.5" width="1.3" height="1.3" fill="#32afe1"/><rect x="352.4" y="66.1" width="1.3" height="1.3" fill="#193cd2"/><rect x="358.6" y="69.4" width="1.3" height="1.3" fill="#193cd2"/><rect x="341.9" y="67.3" width="1.3" height="1.3" fill="#193cd2"/><rect x="357.1" y="76.9" width="1.3" height="1.3" fill="#32afe1"/><rect x="340.2" y="72.3" width="1.3" height="1.3" fill="#193cd2"/><rect x="351.0" y="78.2" width="1.3" height="1.3" fill="#193cd2"/><rect x="356.1" y="66.5" width="1.3" height="1.3" fill="#193cd2"/><rect x="355.8" y="74.6" width="1.3" height="1.3" fill="#193cd2"/><rect x="343.7" y="75.6" width="1.3" height="1.3" fill="#193cd2"/><rect x="346.6" y="64.3" width="1.3" height="1.3" fill="#193cd2"/><rect x="356.3" y="67.2" width="1.3" height="1.3" fill="#4b69dc"/><rect x="354.2" y="76.4" width="1.3" height="1.3" fill="#4b69dc"/><rect x="354.8" y="76.1" width="1.3" height="1.3" fill="#4b69dc"/><rect x="359.2" y="70.9" width="1.3" height="1.3" fill="#4b69dc"/><rect x="353.2" y="76.5" width="1.3" height="1.3" fill="#193cd2"/><rect x="349.1" y="77.6" width="1.3" height="1.3" fill="#4b69dc"/><rect x="346.6" y="76.0" width="1.3" height="1.3" fill="#193cd2"/><rect x="352.6" y="65.6" width="1.3" height="1.3" fill="#32afe1"/><rect x="358.3" y="70.7" width="1.3" height="1.3" fill="#32afe1"/><rect x="356.0" y="65.9" width="1.3" height="1.3" fill="#32afe1"/><rect x="342.2" y="74.9" width="1.3" height="1.3" fill="#193cd2"/><rect x="358.2" y="72.9" width="1.3" height="1.3" fill="#193cd2"/><rect x="354.0" y="67.8" width="1.3" height="1.3" fill="#4b69dc"/><rect x="341.2" y="73.7" width="1.3" height="1.3" fill="#193cd2"/><rect x="347.5" y="76.8" width="1.3" height="1.3" fill="#4b69dc"/><rect x="355.2" y="74.7" width="1.3" height="1.3" fill="#193cd2"/><rect x="355.3" y="76.6" width="1.3" height="1.3" fill="#32afe1"/><rect x="351.1" y="66.3" width="1.3" height="1.3" fill="#32afe1"/><rect x="342.1" y="74.1" width="1.3" height="1.3" fill="#4b69dc"/><rect x="340.3" y="74.7" width="1.3" height="1.3" fill="#193cd2"/><rect x="357.2" y="68.7" width="1.3" height="1.3" fill="#32afe1"/><rect x="344.9" y="66.1" width="1.3" height="1.3" fill="#193cd2"/><rect x="357.0" y="74.3" width="1.3" height="1.3" fill="#193cd2"/><rect x="350.4" y="65.0" width="1.3" height="1.3" fill="#193cd2"/><rect x="357.6" y="75.1" width="1.3" height="1.3" fill="#193cd2"/><rect x="345.7" y="75.4" width="1.3" height="1.3" fill="#4b69dc"/><rect x="342.2" y="71.2" width="1.3" height="1.3" fill="#193cd2"/><rect x="341.0" y="75.2" width="1.3" height="1.3" fill="#193cd2"/><rect x="352.5" y="76.7" width="1.3" height="1.3" fill="#193cd2"/><rect x="343.9" y="76.5" width="1.3" height="1.3" fill="#4b69dc"/><rect x="355.5" y="75.8" width="1.3" height="1.3" fill="#32afe1"/><rect x="344.9" y="65.9" width="1.3" height="1.3" fill="#4b69dc"/><rect x="350.2" y="76.2" width="1.3" height="1.3" fill="#193cd2"/><rect x="341.7" y="74.8" width="1.3" height="1.3" fill="#32afe1"/><rect x="356.3" y="72.5" width="1.3" height="1.3" fill="#32afe1"/><rect x="348.9" y="77.0" width="1.3" height="1.3" fill="#3cbe50"/><rect x="341.2" y="71.6" width="1.3" height="1.3" fill="#3cbe50"/><rect x="358.1" y="73.7" width="1.3" height="1.3" fill="#32afe1"/><rect x="341.2" y="75.4" width="1.3" height="1.3" fill="#3cbe50"/><rect x="356.2" y="68.0" width="1.3" height="1.3" fill="#32afe1"/><rect x="352.7" y="65.3" width="1.3" height="1.3" fill="#32afe1"/><rect x="353.0" y="76.3" width="1.3" height="1.3" fill="#3cbe50"/><rect x="342.2" y="67.6" width="1.3" height="1.3" fill="#32afe1"/><rect x="353.8" y="67.0" width="1.3" height="1.3" fill="#3cbe50"/><rect x="344.9" y="66.6" width="1.3" height="1.3" fill="#32afe1"/><rect x="343.3" y="70.1" width="1.3" height="1.3" fill="#32afe1"/><rect x="342.5" y="75.5" width="1.3" height="1.3" fill="#3cbe50"/><rect x="354.8" y="75.7" width="1.3" height="1.3" fill="#3cbe50"/><rect x="357.7" y="73.4" width="1.3" height="1.3" fill="#3cbe50"/><rect x="353.4" y="76.4" width="1.3" height="1.3" fill="#3cbe50"/><rect x="357.3" y="73.6" width="1.3" height="1.3" fill="#3cbe50"/><rect x="357.2" y="70.4" width="1.3" height="1.3" fill="#32afe1"/><rect x="341.8" y="72.8" width="1.3" height="1.3" fill="#32afe1"/><rect x="342.6" y="75.1" width="1.3" height="1.3" fill="#32afe1"/><rect x="356.2" y="73.7" width="1.3" height="1.3" fill="#3cbe50"/><rect x="346.4" y="66.2" width="1.3" height="1.3" fill="#32afe1"/><rect x="346.9" y="76.1" width="1.3" height="1.3" fill="#32afe1"/><rect x="346.4" y="76.4" width="1.3" height="1.3" fill="#32afe1"/><rect x="342.5" y="68.9" width="1.3" height="1.3" fill="#32afe1"/><rect x="353.3" y="65.5" width="1.3" height="1.3" fill="#32afe1"/><rect x="351.9" y="76.8" width="1.3" height="1.3" fill="#32afe1"/><rect x="350.9" y="76.9" width="1.3" height="1.3" fill="#32afe1"/><rect x="342.6" y="70.3" width="1.3" height="1.3" fill="#32afe1"/><rect x="341.8" y="73.3" width="1.3" height="1.3" fill="#32afe1"/><rect x="346.3" y="65.6" width="1.3" height="1.3" fill="#3cbe50"/><rect x="349.1" y="77.6" width="1.3" height="1.3" fill="#32afe1"/><rect x="343.2" y="73.6" width="1.3" height="1.3" fill="#32afe1"/><rect x="349.4" y="76.9" width="1.3" height="1.3" fill="#3cbe50"/><rect x="351.3" y="76.9" width="1.3" height="1.3" fill="#32afe1"/><rect x="340.3" y="71.1" width="1.3" height="1.3" fill="#32afe1"/><rect x="355.2" y="76.2" width="1.3" height="1.3" fill="#32afe1"/><rect x="342.4" y="69.0" width="1.3" height="1.3" fill="#32afe1"/><rect x="355.9" y="68.5" width="1.3" height="1.3" fill="#32afe1"/><rect x="355.4" y="66.7" width="1.3" height="1.3" fill="#32afe1"/><rect x="349.5" y="75.3" width="1.3" height="1.3" fill="#3cbe50"/><rect x="359.2" y="72.1" width="1.3" height="1.3" fill="#3cbe50"/><rect x="350.6" y="76.0" width="1.3" height="1.3" fill="#32afe1"/><rect x="352.3" y="77.6" width="1.3" height="1.3" fill="#32afe1"/><rect x="341.2" y="73.6" width="1.3" height="1.3" fill="#32afe1"/><rect x="358.2" y="71.2" width="1.3" height="1.3" fill="#32afe1"/><rect x="340.6" y="71.8" width="1.3" height="1.3" fill="#32afe1"/><rect x="342.0" y="70.3" width="1.3" height="1.3" fill="#32afe1"/><rect x="343.7" y="74.3" width="1.3" height="1.3" fill="#3cbe50"/><rect x="347.1" y="67.5" width="1.3" height="1.3" fill="#3cbe50"/><rect x="344.5" y="68.5" width="1.3" height="1.3" fill="#32afe1"/><rect x="356.2" y="74.4" width="1.3" height="1.3" fill="#32afe1"/><rect x="354.4" y="66.3" width="1.3" height="1.3" fill="#32afe1"/><rect x="343.0" y="72.9" width="1.3" height="1.3" fill="#32afe1"/><rect x="344.6" y="74.8" width="1.3" height="1.3" fill="#32afe1"/><rect x="356.4" y="68.8" width="1.3" height="1.3" fill="#32afe1"/><rect x="350.8" y="65.9" width="1.3" height="1.3" fill="#32afe1"/><rect x="354.6" y="67.1" width="1.3" height="1.3" fill="#32afe1"/><rect x="342.9" y="72.3" width="1.3" height="1.3" fill="#3cbe50"/><rect x="354.5" y="68.3" width="1.3" height="1.3" fill="#32afe1"/><rect x="356.3" y="71.7" width="1.3" height="1.3" fill="#32afe1"/><rect x="342.9" y="73.1" width="1.3" height="1.3" fill="#32afe1"/><rect x="355.6" y="75.6" width="1.3" height="1.3" fill="#3cbe50"/><rect x="352.7" y="77.1" width="1.3" height="1.3" fill="#3cbe50"/><rect x="348.4" y="76.4" width="1.3" height="1.3" fill="#32afe1"/><rect x="352.2" y="76.5" width="1.3" height="1.3" fill="#3cbe50"/><rect x="341.7" y="70.2" width="1.3" height="1.3" fill="#3cbe50"/><rect x="358.1" y="72.8" width="1.3" height="1.3" fill="#3cbe50"/><rect x="348.5" y="76.2" width="1.3" height="1.3" fill="#32afe1"/><rect x="342.2" y="73.2" width="1.3" height="1.3" fill="#32afe1"/><rect x="341.1" y="72.6" width="1.3" height="1.3" fill="#32afe1"/><rect x="345.6" y="77.0" width="1.3" height="1.3" fill="#3cbe50"/><rect x="357.0" y="72.4" width="1.3" height="1.3" fill="#32afe1"/><rect x="342.7" y="73.4" width="1.3" height="1.3" fill="#32afe1"/><rect x="341.6" y="72.3" width="1.3" height="1.3" fill="#32afe1"/><rect x="354.9" y="75.4" width="1.3" height="1.3" fill="#32afe1"/><rect x="343.3" y="73.1" width="1.3" height="1.3" fill="#3cbe50"/><rect x="345.5" y="67.8" width="1.3" height="1.3" fill="#32afe1"/><rect x="356.7" y="70.1" width="1.3" height="1.3" fill="#32afe1"/><rect x="342.2" y="75.6" width="1.3" height="1.3" fill="#32afe1"/><rect x="341.7" y="72.7" width="1.3" height="1.3" fill="#32afe1"/><rect x="344.0" y="74.6" width="1.3" height="1.3" fill="#32afe1"/><rect x="355.7" y="71.3" width="1.3" height="1.3" fill="#32afe1"/><rect x="355.4" y="74.2" width="1.3" height="1.3" fill="#32afe1"/><rect x="355.0" y="74.3" width="1.3" height="1.3" fill="#32afe1"/><rect x="356.9" y="69.1" width="1.3" height="1.3" fill="#32afe1"/><rect x="348.7" y="75.5" width="1.3" height="1.3" fill="#3cbe50"/><rect x="355.8" y="74.0" width="1.3" height="1.3" fill="#3cbe50"/><rect x="350.3" y="76.0" width="1.3" height="1.3" fill="#32afe1"/><rect x="341.3" y="73.9" width="1.3" height="1.3" fill="#32afe1"/><rect x="355.9" y="71.1" width="1.3" height="1.3" fill="#3cbe50"/><rect x="355.7" y="74.6" width="1.3" height="1.3" fill="#32afe1"/><rect x="343.2" y="74.2" width="1.3" height="1.3" fill="#32afe1"/><rect x="358.9" y="72.1" width="1.3" height="1.3" fill="#32afe1"/><rect x="354.4" y="73.8" width="1.3" height="1.3" fill="#32afe1"/><rect x="355.3" y="71.9" width="1.3" height="1.3" fill="#32afe1"/><rect x="346.5" y="76.0" width="1.3" height="1.3" fill="#3cbe50"/><rect x="349.6" y="66.4" width="1.3" height="1.3" fill="#3cbe50"/><rect x="349.3" y="66.3" width="1.3" height="1.3" fill="#3cbe50"/><rect x="356.1" y="69.6" width="1.3" height="1.3" fill="#3cbe50"/><rect x="342.3" y="74.4" width="1.3" height="1.3" fill="#3cbe50"/><rect x="347.5" y="75.4" width="1.3" height="1.3" fill="#3cbe50"/><rect x="347.3" y="66.3" width="1.3" height="1.3" fill="#3cbe50"/><rect x="355.2" y="68.3" width="1.3" height="1.3" fill="#3cbe50"/><rect x="343.8" y="74.8" width="1.3" height="1.3" fill="#32afe1"/><rect x="358.7" y="73.9" width="1.3" height="1.3" fill="#32afe1"/><rect x="354.3" y="75.4" width="1.3" height="1.3" fill="#32afe1"/><rect x="347.5" y="75.9" width="1.3" height="1.3" fill="#32afe1"/><rect x="343.2" y="73.3" width="1.3" height="1.3" fill="#32afe1"/><rect x="341.9" y="73.8" width="1.3" height="1.3" fill="#32afe1"/><rect x="344.5" y="68.6" width="1.3" height="1.3" fill="#3cbe50"/><rect x="342.8" y="74.3" width="1.3" height="1.3" fill="#3cbe50"/><rect x="343.3" y="69.0" width="1.3" height="1.3" fill="#32afe1"/><rect x="345.1" y="76.2" width="1.3" height="1.3" fill="#32afe1"/><rect x="350.2" y="67.4" width="1.3" height="1.3" fill="#3cbe50"/><rect x="356.4" y="72.2" width="1.3" height="1.3" fill="#32afe1"/><rect x="343.1" y="74.5" width="1.3" height="1.3" fill="#32afe1"/><rect x="355.1" y="69.1" width="1.3" height="1.3" fill="#3cbe50"/><rect x="348.7" y="66.9" width="1.3" height="1.3" fill="#3cbe50"/><rect x="341.5" y="71.8" width="1.3" height="1.3" fill="#32afe1"/><rect x="351.5" y="75.8" width="1.3" height="1.3" fill="#3cbe50"/><rect x="344.4" y="68.2" width="1.3" height="1.3" fill="#32afe1"/><rect x="344.3" y="74.3" width="1.3" height="1.3" fill="#32afe1"/><rect x="356.2" y="73.6" width="1.3" height="1.3" fill="#32afe1"/><rect x="343.3" y="72.8" width="1.3" height="1.3" fill="#32afe1"/><rect x="347.7" y="66.7" width="1.3" height="1.3" fill="#32afe1"/><rect x="346.4" y="65.4" width="1.3" height="1.3" fill="#32afe1"/><rect x="354.9" y="75.2" width="1.3" height="1.3" fill="#3cbe50"/><rect x="347.0" y="67.2" width="1.3" height="1.3" fill="#3cbe50"/><rect x="343.6" y="70.0" width="1.3" height="1.3" fill="#32afe1"/><rect x="355.6" y="69.3" width="1.3" height="1.3" fill="#32afe1"/><rect x="341.5" y="71.9" width="1.3" height="1.3" fill="#3cbe50"/><rect x="356.9" y="70.3" width="1.3" height="1.3" fill="#32afe1"/><rect x="344.4" y="74.8" width="1.3" height="1.3" fill="#3cbe50"/><rect x="354.8" y="75.9" width="1.3" height="1.3" fill="#32afe1"/><rect x="343.1" y="74.7" width="1.3" height="1.3" fill="#32afe1"/><rect x="341.9" y="71.7" width="1.3" height="1.3" fill="#32afe1"/><rect x="342.7" y="75.0" width="1.3" height="1.3" fill="#32afe1"/><rect x="347.5" y="67.2" width="1.3" height="1.3" fill="#32afe1"/><rect x="345.7" y="76.5" width="1.3" height="1.3" fill="#32afe1"/><rect x="350.0" y="76.5" width="1.3" height="1.3" fill="#32afe1"/><rect x="354.9" y="73.2" width="1.3" height="1.3" fill="#32afe1"/><rect x="344.9" y="75.7" width="1.3" height="1.3" fill="#3cbe50"/><rect x="358.0" y="71.5" width="1.3" height="1.3" fill="#32afe1"/><rect x="355.9" y="69.5" width="1.3" height="1.3" fill="#32afe1"/><rect x="342.5" y="70.8" width="1.3" height="1.3" fill="#32afe1"/><rect x="355.6" y="68.3" width="1.3" height="1.3" fill="#32afe1"/><rect x="355.6" y="73.5" width="1.3" height="1.3" fill="#32afe1"/><rect x="345.1" y="69.9" width="1.3" height="1.3" fill="#32afe1"/><rect x="344.6" y="69.5" width="1.3" height="1.3" fill="#3cbe50"/><rect x="347.3" y="66.3" width="1.3" height="1.3" fill="#3cbe50"/><rect x="354.0" y="67.0" width="1.3" height="1.3" fill="#82cd78"/><rect x="345.5" y="68.7" width="1.3" height="1.3" fill="#3cbe50"/><rect x="352.9" y="75.8" width="1.3" height="1.3" fill="#3cbe50"/><rect x="350.2" y="75.7" width="1.3" height="1.3" fill="#3cbe50"/><rect x="354.8" y="75.4" width="1.3" height="1.3" fill="#3cbe50"/><rect x="348.4" y="75.8" width="1.3" height="1.3" fill="#3cbe50"/><rect x="356.0" y="71.6" width="1.3" height="1.3" fill="#82cd78"/><rect x="343.1" y="73.0" width="1.3" height="1.3" fill="#82cd78"/><rect x="355.5" y="75.2" width="1.3" height="1.3" fill="#3cbe50"/><rect x="352.6" y="75.0" width="1.3" height="1.3" fill="#3cbe50"/><rect x="347.1" y="67.6" width="1.3" height="1.3" fill="#3cbe50"/><rect x="357.1" y="70.8" width="1.3" height="1.3" fill="#3cbe50"/><rect x="354.2" y="68.9" width="1.3" height="1.3" fill="#82cd78"/><rect x="343.7" y="69.2" width="1.3" height="1.3" fill="#3cbe50"/><rect x="350.6" y="67.7" width="1.3" height="1.3" fill="#3cbe50"/><rect x="344.9" y="72.4" width="1.3" height="1.3" fill="#82cd78"/><rect x="350.0" y="76.3" width="1.3" height="1.3" fill="#3cbe50"/><rect x="346.3" y="67.6" width="1.3" height="1.3" fill="#3cbe50"/><rect x="358.4" y="72.3" width="1.3" height="1.3" fill="#3cbe50"/><rect x="348.6" y="75.1" width="1.3" height="1.3" fill="#82cd78"/><rect x="354.6" y="73.6" width="1.3" height="1.3" fill="#3cbe50"/><rect x="353.1" y="75.8" width="1.3" height="1.3" fill="#3cbe50"/><rect x="349.3" y="76.2" width="1.3" height="1.3" fill="#3cbe50"/><rect x="355.6" y="73.5" width="1.3" height="1.3" fill="#82cd78"/><rect x="346.5" y="66.8" width="1.3" height="1.3" fill="#3cbe50"/><rect x="353.1" y="75.3" width="1.3" height="1.3" fill="#3cbe50"/><rect x="347.9" y="75.1" width="1.3" height="1.3" fill="#82cd78"/><rect x="348.8" y="76.3" width="1.3" height="1.3" fill="#3cbe50"/><rect x="344.9" y="71.0" width="1.3" height="1.3" fill="#82cd78"/><rect x="355.0" y="75.0" width="1.3" height="1.3" fill="#82cd78"/><rect x="356.2" y="73.1" width="1.3" height="1.3" fill="#3cbe50"/><rect x="356.5" y="70.2" width="1.3" height="1.3" fill="#82cd78"/><rect x="340.7" y="71.5" width="1.3" height="1.3" fill="#3cbe50"/><rect x="344.4" y="68.3" width="1.3" height="1.3" fill="#82cd78"/><rect x="355.4" y="72.9" width="1.3" height="1.3" fill="#3cbe50"/><rect x="349.4" y="76.4" width="1.3" height="1.3" fill="#3cbe50"/><rect x="344.7" y="70.4" width="1.3" height="1.3" fill="#3cbe50"/><rect x="344.5" y="75.8" width="1.3" height="1.3" fill="#82cd78"/><rect x="354.2" y="74.3" width="1.3" height="1.3" fill="#82cd78"/><rect x="353.5" y="68.2" width="1.3" height="1.3" fill="#3cbe50"/><rect x="354.8" y="73.1" width="1.3" height="1.3" fill="#3cbe50"/><rect x="349.0" y="67.6" width="1.3" height="1.3" fill="#3cbe50"/><rect x="353.2" y="65.6" width="1.3" height="1.3" fill="#3cbe50"/><rect x="344.0" y="71.7" width="1.3" height="1.3" fill="#3cbe50"/><rect x="348.8" y="67.4" width="1.3" height="1.3" fill="#82cd78"/><rect x="356.7" y="72.3" width="1.3" height="1.3" fill="#3cbe50"/><rect x="355.3" y="71.4" width="1.3" height="1.3" fill="#82cd78"/><rect x="347.7" y="68.3" width="1.3" height="1.3" fill="#3cbe50"/><rect x="355.5" y="68.4" width="1.3" height="1.3" fill="#3cbe50"/><rect x="355.4" y="72.9" width="1.3" height="1.3" fill="#82cd78"/><rect x="351.4" y="67.5" width="1.3" height="1.3" fill="#3cbe50"/><rect x="347.9" y="76.0" width="1.3" height="1.3" fill="#3cbe50"/><rect x="345.1" y="73.3" width="1.3" height="1.3" fill="#82cd78"/><rect x="353.3" y="70.5" width="1.3" height="1.3" fill="#82cd78"/><rect x="355.8" y="72.7" width="1.3" height="1.3" fill="#82cd78"/><rect x="342.6" y="73.4" width="1.3" height="1.3" fill="#82cd78"/><rect x="343.7" y="73.9" width="1.3" height="1.3" fill="#3cbe50"/><rect x="355.1" y="71.9" width="1.3" height="1.3" fill="#82cd78"/><rect x="354.9" y="72.9" width="1.3" height="1.3" fill="#3cbe50"/><rect x="350.8" y="67.3" width="1.3" height="1.3" fill="#3cbe50"/><rect x="354.5" y="71.2" width="1.3" height="1.3" fill="#3cbe50"/><rect x="354.9" y="73.4" width="1.3" height="1.3" fill="#3cbe50"/><rect x="356.0" y="72.3" width="1.3" height="1.3" fill="#3cbe50"/><rect x="347.6" y="74.0" width="1.3" height="1.3" fill="#3cbe50"/><rect x="353.3" y="69.5" width="1.3" height="1.3" fill="#82cd78"/><rect x="352.8" y="67.5" width="1.3" height="1.3" fill="#3cbe50"/><rect x="354.4" y="71.9" width="1.3" height="1.3" fill="#82cd78"/><rect x="354.7" y="75.0" width="1.3" height="1.3" fill="#82cd78"/><rect x="347.3" y="74.4" width="1.3" height="1.3" fill="#82cd78"/><rect x="353.1" y="75.1" width="1.3" height="1.3" fill="#82cd78"/><rect x="356.1" y="71.3" width="1.3" height="1.3" fill="#3cbe50"/><rect x="348.2" y="75.0" width="1.3" height="1.3" fill="#82cd78"/><rect x="342.7" y="72.9" width="1.3" height="1.3" fill="#82cd78"/><rect x="355.4" y="71.5" width="1.3" height="1.3" fill="#3cbe50"/><rect x="346.1" y="68.2" width="1.3" height="1.3" fill="#3cbe50"/><rect x="356.6" y="72.0" width="1.3" height="1.3" fill="#3cbe50"/><rect x="344.1" y="72.9" width="1.3" height="1.3" fill="#3cbe50"/><rect x="352.3" y="68.2" width="1.3" height="1.3" fill="#82cd78"/><rect x="344.1" y="72.1" width="1.3" height="1.3" fill="#82cd78"/><rect x="352.8" y="73.6" width="1.3" height="1.3" fill="#3cbe50"/><rect x="345.0" y="74.1" width="1.3" height="1.3" fill="#3cbe50"/><rect x="350.3" y="74.4" width="1.3" height="1.3" fill="#3cbe50"/><rect x="352.2" y="75.2" width="1.3" height="1.3" fill="#82cd78"/><rect x="347.0" y="69.5" width="1.3" height="1.3" fill="#3cbe50"/><rect x="346.7" y="73.3" width="1.3" height="1.3" fill="#3cbe50"/><rect x="344.5" y="72.4" width="1.3" height="1.3" fill="#3cbe50"/><rect x="354.1" y="76.3" width="1.3" height="1.3" fill="#3cbe50"/><rect x="349.9" y="75.1" width="1.3" height="1.3" fill="#82cd78"/><rect x="346.8" y="69.2" width="1.3" height="1.3" fill="#3cbe50"/><rect x="344.7" y="69.2" width="1.3" height="1.3" fill="#3cbe50"/><rect x="355.3" y="73.2" width="1.3" height="1.3" fill="#82cd78"/><rect x="345.6" y="71.0" width="1.3" height="1.3" fill="#3cbe50"/><rect x="346.3" y="69.2" width="1.3" height="1.3" fill="#82cd78"/><rect x="354.4" y="68.2" width="1.3" height="1.3" fill="#3cbe50"/><rect x="348.6" y="67.2" width="1.3" height="1.3" fill="#82cd78"/><rect x="344.6" y="73.1" width="1.3" height="1.3" fill="#3cbe50"/><rect x="352.4" y="74.3" width="1.3" height="1.3" fill="#3cbe50"/><rect x="354.7" y="73.1" width="1.3" height="1.3" fill="#3cbe50"/><rect x="353.0" y="74.9" width="1.3" height="1.3" fill="#3cbe50"/><rect x="355.1" y="72.2" width="1.3" height="1.3" fill="#3cbe50"/><rect x="351.5" y="69.4" width="1.3" height="1.3" fill="#3cbe50"/><rect x="352.5" y="69.0" width="1.3" height="1.3" fill="#82cd78"/><rect x="349.2" y="68.3" width="1.3" height="1.3" fill="#3cbe50"/><rect x="343.9" y="69.8" width="1.3" height="1.3" fill="#82cd78"/><rect x="351.8" y="75.7" width="1.3" height="1.3" fill="#3cbe50"/><rect x="345.2" y="75.6" width="1.3" height="1.3" fill="#3cbe50"/><rect x="347.1" y="75.7" width="1.3" height="1.3" fill="#3cbe50"/><rect x="354.3" y="70.3" width="1.3" height="1.3" fill="#3cbe50"/><rect x="354.7" y="70.0" width="1.3" height="1.3" fill="#3cbe50"/><rect x="352.5" y="73.4" width="1.3" height="1.3" fill="#3cbe50"/><rect x="355.5" y="71.2" width="1.3" height="1.3" fill="#3cbe50"/><rect x="345.2" y="70.1" width="1.3" height="1.3" fill="#3cbe50"/><rect x="348.1" y="75.6" width="1.3" height="1.3" fill="#3cbe50"/><rect x="345.1" y="73.9" width="1.3" height="1.3" fill="#3cbe50"/><rect x="347.2" y="69.7" width="1.3" height="1.3" fill="#82cd78"/><rect x="354.1" y="69.0" width="1.3" height="1.3" fill="#82cd78"/><rect x="354.1" y="72.9" width="1.3" height="1.3" fill="#82cd78"/><rect x="345.8" y="73.8" width="1.3" height="1.3" fill="#82cd78"/><rect x="344.0" y="68.4" width="1.3" height="1.3" fill="#82cd78"/><rect x="346.3" y="74.3" width="1.3" height="1.3" fill="#3cbe50"/><rect x="347.8" y="74.1" width="1.3" height="1.3" fill="#82cd78"/><rect x="348.1" y="68.3" width="1.3" height="1.3" fill="#82cd78"/><rect x="345.1" y="72.2" width="1.3" height="1.3" fill="#3cbe50"/><rect x="353.2" y="73.0" width="1.3" height="1.3" fill="#82cd78"/><rect x="346.9" y="74.2" width="1.3" height="1.3" fill="#3cbe50"/><rect x="347.1" y="74.0" width="1.3" height="1.3" fill="#82cd78"/><rect x="343.2" y="72.2" width="1.3" height="1.3" fill="#82cd78"/><rect x="345.2" y="74.1" width="1.3" height="1.3" fill="#3cbe50"/><rect x="345.1" y="71.6" width="1.3" height="1.3" fill="#3cbe50"/><rect x="352.6" y="68.2" width="1.3" height="1.3" fill="#82cd78"/><rect x="345.1" y="73.4" width="1.3" height="1.3" fill="#3cbe50"/><rect x="350.6" y="68.9" width="1.3" height="1.3" fill="#3cbe50"/><rect x="353.2" y="74.3" width="1.3" height="1.3" fill="#82cd78"/><rect x="345.0" y="69.5" width="1.3" height="1.3" fill="#3cbe50"/><rect x="349.0" y="75.2" width="1.3" height="1.3" fill="#3cbe50"/><rect x="346.8" y="70.5" width="1.3" height="1.3" fill="#3cbe50"/><rect x="352.5" y="71.5" width="1.3" height="1.3" fill="#3cbe50"/><rect x="345.1" y="73.1" width="1.3" height="1.3" fill="#3cbe50"/><rect x="351.9" y="73.5" width="1.3" height="1.3" fill="#3cbe50"/><rect x="350.0" y="69.3" width="1.3" height="1.3" fill="#3cbe50"/><rect x="352.4" y="75.5" width="1.3" height="1.3" fill="#3cbe50"/><rect x="351.5" y="70.9" width="1.3" height="1.3" fill="#3cbe50"/><rect x="347.6" y="68.8" width="1.3" height="1.3" fill="#82cd78"/><rect x="343.4" y="73.3" width="1.3" height="1.3" fill="#3cbe50"/><rect x="350.4" y="69.8" width="1.3" height="1.3" fill="#3cbe50"/><rect x="347.3" y="74.6" width="1.3" height="1.3" fill="#82cd78"/><rect x="345.8" y="72.8" width="1.3" height="1.3" fill="#3cbe50"/><rect x="354.3" y="72.2" width="1.3" height="1.3" fill="#3cbe50"/><rect x="346.8" y="73.9" width="1.3" height="1.3" fill="#3cbe50"/><rect x="353.8" y="73.5" width="1.3" height="1.3" fill="#3cbe50"/><rect x="346.8" y="69.3" width="1.3" height="1.3" fill="#3cbe50"/><rect x="344.2" y="70.9" width="1.3" height="1.3" fill="#3cbe50"/><rect x="352.8" y="70.4" width="1.3" height="1.3" fill="#3cbe50"/><rect x="348.7" y="66.7" width="1.3" height="1.3" fill="#3cbe50"/><rect x="354.0" y="71.6" width="1.3" height="1.3" fill="#82cd78"/><rect x="349.4" y="67.9" width="1.3" height="1.3" fill="#3cbe50"/><rect x="345.3" y="73.9" width="1.3" height="1.3" fill="#82cd78"/><rect x="353.1" y="75.4" width="1.3" height="1.3" fill="#82cd78"/><rect x="352.6" y="73.9" width="1.3" height="1.3" fill="#3cbe50"/><rect x="344.9" y="73.1" width="1.3" height="1.3" fill="#3cbe50"/><rect x="351.6" y="73.2" width="1.3" height="1.3" fill="#3cbe50"/><rect x="353.9" y="72.4" width="1.3" height="1.3" fill="#3cbe50"/><rect x="351.3" y="72.6" width="1.3" height="1.3" fill="#3cbe50"/><rect x="346.0" y="68.7" width="1.3" height="1.3" fill="#3cbe50"/><rect x="350.2" y="73.6" width="1.3" height="1.3" fill="#3cbe50"/><rect x="352.6" y="74.8" width="1.3" height="1.3" fill="#82cd78"/><rect x="354.2" y="71.5" width="1.3" height="1.3" fill="#3cbe50"/><rect x="354.2" y="72.4" width="1.3" height="1.3" fill="#3cbe50"/><rect x="352.8" y="74.6" width="1.3" height="1.3" fill="#82cd78"/><rect x="350.4" y="68.2" width="1.3" height="1.3" fill="#82cd78"/><rect x="344.8" y="70.8" width="1.3" height="1.3" fill="#3cbe50"/><rect x="347.9" y="75.3" width="1.3" height="1.3" fill="#3cbe50"/><rect x="346.8" y="74.5" width="1.3" height="1.3" fill="#82cd78"/><rect x="354.0" y="72.0" width="1.3" height="1.3" fill="#3cbe50"/><rect x="345.6" y="70.0" width="1.3" height="1.3" fill="#82cd78"/><rect x="347.9" y="67.5" width="1.3" height="1.3" fill="#82cd78"/><rect x="351.8" y="73.5" width="1.3" height="1.3" fill="#3cbe50"/><rect x="344.6" y="71.2" width="1.3" height="1.3" fill="#3cbe50"/><rect x="348.9" y="68.7" width="1.3" height="1.3" fill="#3cbe50"/><rect x="353.8" y="70.7" width="1.3" height="1.3" fill="#3cbe50"/><rect x="346.1" y="70.8" width="1.3" height="1.3" fill="#3cbe50"/><rect x="349.9" y="74.7" width="1.3" height="1.3" fill="#3cbe50"/><rect x="348.9" y="68.3" width="1.3" height="1.3" fill="#3cbe50"/><rect x="353.7" y="72.6" width="1.3" height="1.3" fill="#82cd78"/><rect x="348.6" y="74.8" width="1.3" height="1.3" fill="#82cd78"/><rect x="347.4" y="74.2" width="1.3" height="1.3" fill="#3cbe50"/><rect x="349.1" y="73.0" width="1.3" height="1.3" fill="#3cbe50"/><rect x="353.1" y="73.0" width="1.3" height="1.3" fill="#82cd78"/><rect x="350.2" y="73.9" width="1.3" height="1.3" fill="#3cbe50"/><rect x="353.1" y="71.5" width="1.3" height="1.3" fill="#3cbe50"/><rect x="346.2" y="70.2" width="1.3" height="1.3" fill="#3cbe50"/><rect x="348.6" y="70.8" width="1.3" height="1.3" fill="#82cd78"/><rect x="345.8" y="74.2" width="1.3" height="1.3" fill="#3cbe50"/><rect x="353.9" y="73.7" width="1.3" height="1.3" fill="#3cbe50"/><rect x="353.6" y="71.6" width="1.3" height="1.3" fill="#3cbe50"/><rect x="350.7" y="74.6" width="1.3" height="1.3" fill="#82cd78"/><rect x="349.4" y="73.9" width="1.3" height="1.3" fill="#3cbe50"/><rect x="351.8" y="73.9" width="1.3" height="1.3" fill="#3cbe50"/><rect x="347.8" y="69.9" width="1.3" height="1.3" fill="#82cd78"/><rect x="354.5" y="70.3" width="1.3" height="1.3" fill="#3cbe50"/><rect x="353.4" y="72.4" width="1.3" height="1.3" fill="#3cbe50"/><rect x="351.5" y="73.4" width="1.3" height="1.3" fill="#3cbe50"/><rect x="351.9" y="73.1" width="1.3" height="1.3" fill="#3cbe50"/><rect x="349.2" y="68.3" width="1.3" height="1.3" fill="#3cbe50"/><rect x="352.2" y="74.0" width="1.3" height="1.3" fill="#82cd78"/><rect x="349.0" y="69.5" width="1.3" height="1.3" fill="#3cbe50"/><rect x="354.1" y="72.6" width="1.3" height="1.3" fill="#82cd78"/><rect x="353.3" y="73.6" width="1.3" height="1.3" fill="#82cd78"/><rect x="347.7" y="69.8" width="1.3" height="1.3" fill="#3cbe50"/><rect x="352.9" y="72.2" width="1.3" height="1.3" fill="#3cbe50"/><rect x="345.5" y="71.5" width="1.3" height="1.3" fill="#3cbe50"/><rect x="351.1" y="70.7" width="1.3" height="1.3" fill="#3cbe50"/><rect x="347.6" y="75.4" width="1.3" height="1.3" fill="#3cbe50"/><rect x="345.6" y="70.5" width="1.3" height="1.3" fill="#3cbe50"/><rect x="344.7" y="72.4" width="1.3" height="1.3" fill="#3cbe50"/><rect x="352.2" y="73.4" width="1.3" height="1.3" fill="#3cbe50"/><rect x="353.7" y="73.3" width="1.3" height="1.3" fill="#3cbe50"/><rect x="350.3" y="70.5" width="1.3" height="1.3" fill="#3cbe50"/><rect x="352.3" y="69.9" width="1.3" height="1.3" fill="#3cbe50"/><rect x="349.6" y="75.0" width="1.3" height="1.3" fill="#3cbe50"/><rect x="353.2" y="68.9" width="1.3" height="1.3" fill="#82cd78"/><rect x="345.6" y="73.6" width="1.3" height="1.3" fill="#82cd78"/><rect x="348.2" y="73.8" width="1.3" height="1.3" fill="#3cbe50"/><rect x="349.0" y="67.8" width="1.3" height="1.3" fill="#3cbe50"/><rect x="349.1" y="69.8" width="1.3" height="1.3" fill="#3cbe50"/><rect x="349.9" y="67.8" width="1.3" height="1.3" fill="#3cbe50"/><rect x="347.8" y="70.8" width="1.3" height="1.3" fill="#3cbe50"/><rect x="350.9" y="69.7" width="1.3" height="1.3" fill="#3cbe50"/><rect x="346.2" y="73.9" width="1.3" height="1.3" fill="#3cbe50"/><rect x="352.0" y="73.5" width="1.3" height="1.3" fill="#3cbe50"/><rect x="346.5" y="73.2" width="1.3" height="1.3" fill="#82cd78"/><rect x="350.2" y="69.4" width="1.3" height="1.3" fill="#3cbe50"/><rect x="346.8" y="70.7" width="1.3" height="1.3" fill="#3cbe50"/><rect x="353.5" y="71.8" width="1.3" height="1.3" fill="#3cbe50"/><rect x="345.6" y="72.5" width="1.3" height="1.3" fill="#82cd78"/><rect x="352.9" y="70.2" width="1.3" height="1.3" fill="#82cd78"/><rect x="354.1" y="71.4" width="1.3" height="1.3" fill="#3cbe50"/><rect x="345.4" y="72.8" width="1.3" height="1.3" fill="#3cbe50"/><rect x="351.7" y="71.8" width="1.3" height="1.3" fill="#82cd78"/><rect x="353.3" y="70.9" width="1.3" height="1.3" fill="#3cbe50"/><rect x="346.3" y="71.9" width="1.3" height="1.3" fill="#3cbe50"/><rect x="350.1" y="70.4" width="1.3" height="1.3" fill="#3cbe50"/><rect x="350.7" y="72.4" width="1.3" height="1.3" fill="#3cbe50"/><rect x="347.1" y="70.2" width="1.3" height="1.3" fill="#3cbe50"/><rect x="347.2" y="73.3" width="1.3" height="1.3" fill="#3cbe50"/><rect x="352.8" y="70.6" width="1.3" height="1.3" fill="#3cbe50"/><rect x="352.9" y="71.1" width="1.3" height="1.3" fill="#82cd78"/><rect x="346.9" y="71.3" width="1.3" height="1.3" fill="#82cd78"/><rect x="345.5" y="71.9" width="1.3" height="1.3" fill="#3cbe50"/><rect x="346.6" y="72.2" width="1.3" height="1.3" fill="#3cbe50"/><rect x="350.7" y="70.1" width="1.3" height="1.3" fill="#3cbe50"/><rect x="350.6" y="70.4" width="1.3" height="1.3" fill="#82cd78"/><rect x="346.9" y="72.9" width="1.3" height="1.3" fill="#82cd78"/><rect x="345.9" y="72.0" width="1.3" height="1.3" fill="#3cbe50"/><rect x="347.1" y="71.9" width="1.3" height="1.3" fill="#3cbe50"/><rect x="348.6" y="73.8" width="1.3" height="1.3" fill="#3cbe50"/><rect x="347.7" y="71.4" width="1.3" height="1.3" fill="#3cbe50"/><rect x="347.0" y="71.3" width="1.3" height="1.3" fill="#3cbe50"/><rect x="352.0" y="73.2" width="1.3" height="1.3" fill="#3cbe50"/><rect x="352.4" y="70.2" width="1.3" height="1.3" fill="#3cbe50"/><rect x="351.8" y="68.8" width="1.3" height="1.3" fill="#3cbe50"/><rect x="347.1" y="72.9" width="1.3" height="1.3" fill="#3cbe50"/><rect x="351.0" y="72.6" width="1.3" height="1.3" fill="#3cbe50"/><rect x="346.8" y="72.6" width="1.3" height="1.3" fill="#3cbe50"/><rect x="347.9" y="74.0" width="1.3" height="1.3" fill="#82cd78"/><rect x="352.0" y="70.5" width="1.3" height="1.3" fill="#82cd78"/><rect x="352.8" y="73.1" width="1.3" height="1.3" fill="#82cd78"/><rect x="345.5" y="72.1" width="1.3" height="1.3" fill="#82cd78"/><rect x="351.4" y="74.0" width="1.3" height="1.3" fill="#82cd78"/><rect x="351.3" y="71.6" width="1.3" height="1.3" fill="#3cbe50"/><rect x="347.0" y="73.3" width="1.3" height="1.3" fill="#3cbe50"/><rect x="352.3" y="70.9" width="1.3" height="1.3" fill="#82cd78"/><rect x="347.1" y="72.7" width="1.3" height="1.3" fill="#3cbe50"/><rect x="349.3" y="72.7" width="1.3" height="1.3" fill="#82cd78"/><rect x="350.9" y="73.5" width="1.3" height="1.3" fill="#3cbe50"/><rect x="349.4" y="73.9" width="1.3" height="1.3" fill="#3cbe50"/><rect x="346.2" y="72.9" width="1.3" height="1.3" fill="#3cbe50"/><rect x="351.3" y="72.9" width="1.3" height="1.3" fill="#e1e132"/><rect x="351.0" y="70.2" width="1.3" height="1.3" fill="#e1e132"/><rect x="347.0" y="72.7" width="1.3" height="1.3" fill="#f5a01e"/><rect x="346.6" y="73.9" width="1.3" height="1.3" fill="#e1e132"/><rect x="352.4" y="72.9" width="1.3" height="1.3" fill="#e1e132"/><rect x="352.5" y="70.8" width="1.3" height="1.3" fill="#e1e132"/><rect x="351.1" y="71.0" width="1.3" height="1.3" fill="#f5a01e"/><rect x="353.2" y="72.3" width="1.3" height="1.3" fill="#e1e132"/><rect x="348.6" y="74.7" width="1.3" height="1.3" fill="#f5a01e"/><rect x="350.7" y="73.9" width="1.3" height="1.3" fill="#e1e132"/><rect x="349.6" y="73.0" width="1.3" height="1.3" fill="#e1e132"/><rect x="348.4" y="71.8" width="1.3" height="1.3" fill="#e1e132"/><rect x="347.7" y="70.7" width="1.3" height="1.3" fill="#e1e132"/><rect x="347.1" y="72.7" width="1.3" height="1.3" fill="#e1e132"/><rect x="347.8" y="71.6" width="1.3" height="1.3" fill="#f5a01e"/><rect x="346.6" y="71.2" width="1.3" height="1.3" fill="#e1e132"/><rect x="352.4" y="72.3" width="1.3" height="1.3" fill="#e1e132"/><rect x="347.6" y="70.1" width="1.3" height="1.3" fill="#e1e132"/><rect x="347.3" y="71.1" width="1.3" height="1.3" fill="#e1e132"/><rect x="350.7" y="72.5" width="1.3" height="1.3" fill="#f5a01e"/><rect x="348.9" y="70.5" width="1.3" height="1.3" fill="#f5a01e"/><rect x="350.9" y="72.1" width="1.3" height="1.3" fill="#f5a01e"/><rect x="348.2" y="72.6" width="1.3" height="1.3" fill="#e1e132"/><rect x="350.4" y="72.4" width="1.3" height="1.3" fill="#e1e132"/><rect x="350.6" y="70.2" width="1.3" height="1.3" fill="#f5a01e"/><rect x="351.9" y="72.0" width="1.3" height="1.3" fill="#f5a01e"/><rect x="352.6" y="72.0" width="1.3" height="1.3" fill="#e1e132"/><rect x="347.3" y="71.3" width="1.3" height="1.3" fill="#e1e132"/><rect x="347.2" y="72.2" width="1.3" height="1.3" fill="#e1e132"/><rect x="348.7" y="70.2" width="1.3" height="1.3" fill="#e1e132"/><rect x="350.0" y="73.0" width="1.3" height="1.3" fill="#e1e132"/><rect x="348.6" y="73.1" width="1.3" height="1.3" fill="#e1e132"/><rect x="350.0" y="73.1" width="1.3" height="1.3" fill="#e1e132"/><rect x="349.5" y="72.0" width="1.3" height="1.3" fill="#f5a01e"/><rect x="350.6" y="73.3" width="1.3" height="1.3" fill="#f5a01e"/><rect x="350.3" y="73.7" width="1.3" height="1.3" fill="#e1e132"/><rect x="346.6" y="71.7" width="1.3" height="1.3" fill="#e1e132"/><rect x="349.8" y="70.7" width="1.3" height="1.3" fill="#e1e132"/><rect x="347.4" y="71.8" width="1.3" height="1.3" fill="#f5a01e"/><rect x="353.5" y="71.6" width="1.3" height="1.3" fill="#e1e132"/><rect x="350.4" y="73.1" width="1.3" height="1.3" fill="#e1e132"/><rect x="349.4" y="73.1" width="1.3" height="1.3" fill="#e1e132"/><rect x="347.4" y="72.5" width="1.3" height="1.3" fill="#e1e132"/><rect x="347.7" y="71.9" width="1.3" height="1.3" fill="#e1e132"/><rect x="348.5" y="70.3" width="1.3" height="1.3" fill="#f5a01e"/><rect x="350.1" y="72.8" width="1.3" height="1.3" fill="#e1e132"/><rect x="350.4" y="74.3" width="1.3" height="1.3" fill="#f5a01e"/><rect x="349.2" y="72.5" width="1.3" height="1.3" fill="#f5a01e"/><rect x="347.8" y="72.8" width="1.3" height="1.3" fill="#f5a01e"/><rect x="347.8" y="70.6" width="1.3" height="1.3" fill="#f5a01e"/><rect x="347.9" y="71.3" width="1.3" height="1.3" fill="#eb461e"/><rect x="351.7" y="72.3" width="1.3" height="1.3" fill="#eb461e"/><rect x="348.8" y="73.0" width="1.3" height="1.3" fill="#f5a01e"/><rect x="347.7" y="71.5" width="1.3" height="1.3" fill="#eb461e"/><rect x="351.0" y="73.0" width="1.3" height="1.3" fill="#f5a01e"/><rect x="348.4" y="72.4" width="1.3" height="1.3" fill="#f5a01e"/><rect x="348.3" y="71.6" width="1.3" height="1.3" fill="#f5a01e"/><rect x="350.5" y="72.2" width="1.3" height="1.3" fill="#eb461e"/><rect x="348.4" y="71.5" width="1.3" height="1.3" fill="#eb461e"/><rect x="348.7" y="73.4" width="1.3" height="1.3" fill="#eb461e"/><rect x="349.7" y="72.4" width="1.3" height="1.3" fill="#eb461e"/></g>
<g><rect x="413.6" y="53.1" width="1.3" height="1.3" fill="#8ca0e8"/><rect x="463.4" y="67.6" width="1.3" height="1.3" fill="#8ca0e8"/><rect x="447.5" y="65.2" width="1.3" height="1.3" fill="#b9c3f0"/><rect x="451.1" y="71.4" width="1.3" height="1.3" fill="#8ca0e8"/><rect x="447.1" y="64.6" width="1.3" height="1.3" fill="#b9c3f0"/><rect x="454.6" y="65.7" width="1.3" height="1.3" fill="#8ca0e8"/><rect x="449.0" y="65.2" width="1.3" height="1.3" fill="#8ca0e8"/><rect x="462.6" y="72.2" width="1.3" height="1.3" fill="#8ca0e8"/><rect x="449.1" y="67.4" width="1.3" height="1.3" fill="#8ca0e8"/><rect x="461.3" y="64.3" width="1.3" height="1.3" fill="#8ca0e8"/><rect x="461.5" y="64.7" width="1.3" height="1.3" fill="#8ca0e8"/><rect x="448.9" y="69.1" width="1.3" height="1.3" fill="#8ca0e8"/><rect x="459.5" y="62.8" width="1.3" height="1.3" fill="#8ca0e8"/><rect x="455.9" y="73.6" width="1.3" height="1.3" fill="#b9c3f0"/><rect x="463.1" y="64.5" width="1.3" height="1.3" fill="#8ca0e8"/><rect x="462.0" y="63.9" width="1.3" height="1.3" fill="#b9c3f0"/><rect x="452.4" y="68.9" width="1.3" height="1.3" fill="#8ca0e8"/><rect x="451.3" y="63.7" width="1.3" height="1.3" fill="#b9c3f0"/><rect x="463.7" y="76.4" width="1.3" height="1.3" fill="#8ca0e8"/><rect x="454.2" y="65.5" width="1.3" height="1.3" fill="#b9c3f0"/><rect x="447.0" y="68.5" width="1.3" height="1.3" fill="#b9c3f0"/><rect x="448.0" y="60.3" width="1.3" height="1.3" fill="#b9c3f0"/><rect x="461.6" y="68.5" width="1.3" height="1.3" fill="#b9c3f0"/><rect x="449.9" y="64.2" width="1.3" height="1.3" fill="#b9c3f0"/><rect x="462.2" y="65.1" width="1.3" height="1.3" fill="#b9c3f0"/><rect x="455.6" y="57.7" width="1.3" height="1.3" fill="#b9c3f0"/><rect x="457.0" y="68.9" width="1.3" height="1.3" fill="#8ca0e8"/><rect x="461.9" y="69.2" width="1.3" height="1.3" fill="#b9c3f0"/><rect x="455.0" y="71.8" width="1.3" height="1.3" fill="#8ca0e8"/><rect x="458.4" y="73.5" width="1.3" height="1.3" fill="#b9c3f0"/><rect x="460.2" y="62.9" width="1.3" height="1.3" fill="#8ca0e8"/><rect x="447.5" y="71.2" width="1.3" height="1.3" fill="#b9c3f0"/><rect x="452.8" y="64.1" width="1.3" height="1.3" fill="#8ca0e8"/><rect x="456.1" y="66.6" width="1.3" height="1.3" fill="#8ca0e8"/><rect x="460.6" y="66.0" width="1.3" height="1.3" fill="#8ca0e8"/><rect x="452.7" y="64.1" width="1.3" height="1.3" fill="#8ca0e8"/><rect x="456.8" y="67.0" width="1.3" height="1.3" fill="#b9c3f0"/><rect x="449.2" y="70.2" width="1.3" height="1.3" fill="#8ca0e8"/><rect x="461.1" y="70.5" width="1.3" height="1.3" fill="#8ca0e8"/><rect x="461.3" y="68.7" width="1.3" height="1.3" fill="#b9c3f0"/><rect x="447.4" y="62.6" width="1.3" height="1.3" fill="#b9c3f0"/><rect x="447.0" y="56.6" width="1.3" height="1.3" fill="#8ca0e8"/><rect x="452.3" y="62.3" width="1.3" height="1.3" fill="#b9c3f0"/><rect x="459.3" y="63.3" width="1.3" height="1.3" fill="#b9c3f0"/><rect x="460.9" y="67.9" width="1.3" height="1.3" fill="#8ca0e8"/><rect x="449.8" y="65.6" width="1.3" height="1.3" fill="#b9c3f0"/><rect x="451.8" y="71.0" width="1.3" height="1.3" fill="#b9c3f0"/><rect x="447.6" y="72.9" width="1.3" height="1.3" fill="#b9c3f0"/><rect x="453.9" y="68.4" width="1.3" height="1.3" fill="#b9c3f0"/><rect x="453.5" y="72.4" width="1.3" height="1.3" fill="#8ca0e8"/><rect x="453.7" y="66.8" width="1.3" height="1.3" fill="#b9c3f0"/><rect x="455.2" y="65.9" width="1.3" height="1.3" fill="#8ca0e8"/><rect x="458.9" y="65.9" width="1.3" height="1.3" fill="#8ca0e8"/><rect x="414.1" y="59.3" width="1.3" height="1.3" fill="#8ca0e8"/><rect x="456.9" y="70.2" width="1.3" height="1.3" fill="#8ca0e8"/><rect x="448.8" y="55.3" width="1.3" height="1.3" fill="#8ca0e8"/><rect x="447.0" y="73.5" width="1.3" height="1.3" fill="#b9c3f0"/><rect x="447.1" y="65.4" width="1.3" height="1.3" fill="#8ca0e8"/><rect x="425.8" y="52.7" width="1.3" height="1.3" fill="#b9c3f0"/><rect x="429.3" y="51.7" width="1.3" height="1.3" fill="#8ca0e8"/><rect x="452.4" y="54.2" width="1.3" height="1.3" fill="#b9c3f0"/><rect x="414.2" y="73.1" width="1.3" height="1.3" fill="#8ca0e8"/><rect x="453.3" y="73.6" width="1.3" height="1.3" fill="#8ca0e8"/><rect x="457.8" y="66.2" width="1.3" height="1.3" fill="#b9c3f0"/><rect x="457.5" y="69.7" width="1.3" height="1.3" fill="#8ca0e8"/><rect x="458.6" y="70.1" width="1.3" height="1.3" fill="#8ca0e8"/><rect x="423.0" y="73.9" width="1.3" height="1.3" fill="#b9c3f0"/><rect x="458.7" y="70.0" width="1.3" height="1.3" fill="#b9c3f0"/><rect x="420.7" y="74.1" width="1.3" height="1.3" fill="#8ca0e8"/><rect x="413.6" y="64.2" width="1.3" height="1.3" fill="#8ca0e8"/><rect x="435.6" y="76.3" width="1.3" height="1.3" fill="#8ca0e8"/><rect x="453.2" y="69.9" width="1.3" height="1.3" fill="#8ca0e8"/><rect x="417.4" y="71.8" width="1.3" height="1.3" fill="#b9c3f0"/><rect x="437.4" y="76.7" width="1.3" height="1.3" fill="#8ca0e8"/><rect x="421.1" y="59.6" width="1.3" height="1.3" fill="#b9c3f0"/><rect x="415.0" y="67.0" width="1.3" height="1.3" fill="#b9c3f0"/><rect x="427.4" y="74.7" width="1.3" height="1.3" fill="#8ca0e8"/><rect x="419.8" y="71.2" width="1.3" height="1.3" fill="#b9c3f0"/><rect x="428.8" y="56.9" width="1.3" height="1.3" fill="#8ca0e8"/><rect x="451.5" y="73.4" width="1.3" height="1.3" fill="#b9c3f0"/><rect x="444.8" y="74.5" width="1.3" height="1.3" fill="#8ca0e8"/><rect x="450.3" y="59.2" width="1.3" height="1.3" fill="#b9c3f0"/><rect x="442.0" y="55.6" width="1.3" height="1.3" fill="#8ca0e8"/><rect x="426.2" y="75.0" width="1.3" height="1.3" fill="#8ca0e8"/><rect x="421.1" y="71.9" width="1.3" height="1.3" fill="#b9c3f0"/><rect x="453.6" y="67.3" width="1.3" height="1.3" fill="#b9c3f0"/><rect x="456.0" y="67.2" width="1.3" height="1.3" fill="#8ca0e8"/><rect x="455.1" y="67.6" width="1.3" height="1.3" fill="#b9c3f0"/><rect x="453.0" y="65.0" width="1.3" height="1.3" fill="#8ca0e8"/><rect x="453.3" y="61.4" width="1.3" height="1.3" fill="#b9c3f0"/><rect x="440.7" y="56.7" width="1.3" height="1.3" fill="#4b69dc"/><rect x="454.7" y="65.9" width="1.3" height="1.3" fill="#b9c3f0"/><rect x="421.7" y="72.8" width="1.3" height="1.3" fill="#8ca0e8"/><rect x="419.0" y="68.0" width="1.3" height="1.3" fill="#4b69dc"/><rect x="450.6" y="60.1" width="1.3" height="1.3" fill="#4b69dc"/><rect x="428.1" y="74.7" width="1.3" height="1.3" fill="#8ca0e8"/><rect x="449.4" y="72.7" width="1.3" height="1.3" fill="#4b69dc"/><rect x="454.3" y="66.5" width="1.3" height="1.3" fill="#b9c3f0"/><rect x="431.7" y="56.4" width="1.3" height="1.3" fill="#b9c3f0"/><rect x="439.0" y="58.1" width="1.3" height="1.3" fill="#8ca0e8"/><rect x="450.7" y="69.5" width="1.3" height="1.3" fill="#8ca0e8"/><rect x="434.1" y="55.9" width="1.3" height="1.3" fill="#4b69dc"/><rect x="421.9" y="69.8" width="1.3" height="1.3" fill="#4b69dc"/><rect x="423.4" y="60.3" width="1.3" height="1.3" fill="#4b69dc"/><rect x="452.3" y="62.6" width="1.3" height="1.3" fill="#b9c3f0"/><rect x="452.9" y="68.9" width="1.3" height="1.3" fill="#b9c3f0"/><rect x="450.1" y="61.5" width="1.3" height="1.3" fill="#8ca0e8"/><rect x="419.6" y="65.5" width="1.3" height="1.3" fill="#b9c3f0"/><rect x="423.7" y="62.2" width="1.3" height="1.3" fill="#b9c3f0"/><rect x="420.2" y="66.5" width="1.3" height="1.3" fill="#4b69dc"/><rect x="419.6" y="66.9" width="1.3" height="1.3" fill="#4b69dc"/><rect x="420.3" y="62.2" width="1.3" height="1.3" fill="#4b69dc"/><rect x="453.4" y="66.1" width="1.3" height="1.3" fill="#b9c3f0"/><rect x="420.7" y="63.8" width="1.3" height="1.3" fill="#4b69dc"/><rect x="452.1" y="66.4" width="1.3" height="1.3" fill="#b9c3f0"/><rect x="430.3" y="73.9" width="1.3" height="1.3" fill="#8ca0e8"/><rect x="451.5" y="68.6" width="1.3" height="1.3" fill="#4b69dc"/><rect x="449.6" y="60.8" width="1.3" height="1.3" fill="#8ca0e8"/><rect x="445.7" y="72.9" width="1.3" height="1.3" fill="#8ca0e8"/><rect x="431.0" y="58.8" width="1.3" height="1.3" fill="#4b69dc"/><rect x="437.6" y="59.3" width="1.3" height="1.3" fill="#8ca0e8"/><rect x="452.0" y="70.2" width="1.3" height="1.3" fill="#4b69dc"/><rect x="441.8" y="58.6" width="1.3" height="1.3" fill="#8ca0e8"/><rect x="437.1" y="58.3" width="1.3" height="1.3" fill="#4b69dc"/><rect x="432.3" y="74.2" width="1.3" height="1.3" fill="#4b69dc"/><rect x="440.4" y="72.8" width="1.3" height="1.3" fill="#b9c3f0"/><rect x="444.9" y="59.8" width="1.3" height="1.3" fill="#4b69dc"/><rect x="441.7" y="60.7" width="1.3" height="1.3" fill="#8ca0e8"/><rect x="449.0" y="68.3" width="1.3" height="1.3" fill="#b9c3f0"/><rect x="448.0" y="69.9" width="1.3" height="1.3" fill="#8ca0e8"/><rect x="449.7" y="64.0" width="1.3" height="1.3" fill="#b9c3f0"/><rect x="446.5" y="71.2" width="1.3" height="1.3" fill="#4b69dc"/><rect x="448.0" y="69.3" width="1.3" height="1.3" fill="#b9c3f0"/><rect x="421.6" y="67.3" width="1.3" height="1.3" fill="#b9c3f0"/><rect x="437.8" y="73.5" width="1.3" height="1.3" fill="#b9c3f0"/><rect x="421.2" y="66.8" width="1.3" height="1.3" fill="#b9c3f0"/><rect x="446.9" y="70.1" width="1.3" height="1.3" fill="#8ca0e8"/><rect x="422.7" y="63.2" width="1.3" height="1.3" fill="#4b69dc"/><rect x="423.3" y="62.6" width="1.3" height="1.3" fill="#4b69dc"/><rect x="452.4" y="65.7" width="1.3" height="1.3" fill="#4b69dc"/><rect x="424.2" y="71.0" width="1.3" height="1.3" fill="#b9c3f0"/><rect x="448.3" y="63.3" width="1.3" height="1.3" fill="#4b69dc"/><rect x="421.1" y="68.8" width="1.3" height="1.3" fill="#4b69dc"/><rect x="438.5" y="59.4" width="1.3" height="1.3" fill="#b9c3f0"/><rect x="445.7" y="70.1" width="1.3" height="1.3" fill="#b9c3f0"/><rect x="422.1" y="68.7" width="1.3" height="1.3" fill="#4b69dc"/><rect x="431.0" y="59.6" width="1.3" height="1.3" fill="#8ca0e8"/><rect x="428.2" y="71.9" width="1.3" height="1.3" fill="#b9c3f0"/><rect x="445.5" y="69.8" width="1.3" height="1.3" fill="#b9c3f0"/><rect x="442.5" y="72.2" width="1.3" height="1.3" fill="#8ca0e8"/><rect x="430.4" y="72.0" width="1.3" height="1.3" fill="#8ca0e8"/><rect x="449.4" y="71.1" width="1.3" height="1.3" fill="#4b69dc"/><rect x="421.6" y="64.3" width="1.3" height="1.3" fill="#8ca0e8"/><rect x="422.5" y="63.0" width="1.3" height="1.3" fill="#8ca0e8"/><rect x="421.7" y="64.2" width="1.3" height="1.3" fill="#4b69dc"/><rect x="430.9" y="72.7" width="1.3" height="1.3" fill="#4b69dc"/><rect x="440.1" y="71.6" width="1.3" height="1.3" fill="#4b69dc"/><rect x="421.3" y="67.7" width="1.3" height="1.3" fill="#4b69dc"/><rect x="430.0" y="60.6" width="1.3" height="1.3" fill="#8ca0e8"/><rect x="423.2" y="67.9" width="1.3" height="1.3" fill="#4b69dc"/><rect x="434.6" y="71.9" width="1.3" height="1.3" fill="#4b69dc"/><rect x="447.7" y="65.1" width="1.3" height="1.3" fill="#8ca0e8"/><rect x="437.6" y="73.1" width="1.3" height="1.3" fill="#4b69dc"/><rect x="431.7" y="72.6" width="1.3" height="1.3" fill="#b9c3f0"/><rect x="441.8" y="59.6" width="1.3" height="1.3" fill="#4b69dc"/><rect x="444.5" y="71.4" width="1.3" height="1.3" fill="#8ca0e8"/><rect x="426.1" y="61.4" width="1.3" height="1.3" fill="#8ca0e8"/><rect x="420.5" y="66.1" width="1.3" height="1.3" fill="#191e82"/><rect x="438.0" y="71.4" width="1.3" height="1.3" fill="#191e82"/><rect x="427.9" y="70.7" width="1.3" height="1.3" fill="#193cd2"/><rect x="445.9" y="69.2" width="1.3" height="1.3" fill="#4b69dc"/><rect x="421.3" y="66.7" width="1.3" height="1.3" fill="#193cd2"/><rect x="427.4" y="60.5" width="1.3" height="1.3" fill="#191e82"/><rect x="421.0" y="67.2" width="1.3" height="1.3" fill="#191e82"/><rect x="440.5" y="60.0" width="1.3" height="1.3" fill="#b9c3f0"/><rect x="447.3" y="65.3" width="1.3" height="1.3" fill="#193cd2"/><rect x="442.0" y="59.6" width="1.3" height="1.3" fill="#191e82"/><rect x="425.2" y="67.4" width="1.3" height="1.3" fill="#b9c3f0"/><rect x="443.9" y="60.8" width="1.3" height="1.3" fill="#191e82"/><rect x="439.1" y="71.8" width="1.3" height="1.3" fill="#193cd2"/><rect x="443.7" y="61.5" width="1.3" height="1.3" fill="#4b69dc"/><rect x="421.3" y="65.3" width="1.3" height="1.3" fill="#4b69dc"/><rect x="427.9" y="71.3" width="1.3" height="1.3" fill="#4b69dc"/><rect x="432.7" y="72.1" width="1.3" height="1.3" fill="#193cd2"/><rect x="432.2" y="60.6" width="1.3" height="1.3" fill="#193cd2"/><rect x="443.9" y="71.9" width="1.3" height="1.3" fill="#b9c3f0"/><rect x="444.9" y="61.5" width="1.3" height="1.3" fill="#8ca0e8"/><rect x="451.4" y="66.7" width="1.3" height="1.3" fill="#8ca0e8"/><rect x="429.2" y="60.7" width="1.3" height="1.3" fill="#193cd2"/><rect x="427.7" y="71.6" width="1.3" height="1.3" fill="#191e82"/><rect x="442.9" y="70.8" width="1.3" height="1.3" fill="#191e82"/><rect x="425.4" y="67.7" width="1.3" height="1.3" fill="#193cd2"/><rect x="425.4" y="68.6" width="1.3" height="1.3" fill="#8ca0e8"/><rect x="426.4" y="70.4" width="1.3" height="1.3" fill="#b9c3f0"/><rect x="429.6" y="61.8" width="1.3" height="1.3" fill="#193cd2"/><rect x="446.5" y="64.9" width="1.3" height="1.3" fill="#191e82"/><rect x="448.5" y="65.8" width="1.3" height="1.3" fill="#8ca0e8"/><rect x="443.7" y="70.4" width="1.3" height="1.3" fill="#8ca0e8"/><rect x="437.8" y="71.1" width="1.3" height="1.3" fill="#4b69dc"/><rect x="432.5" y="72.1" width="1.3" height="1.3" fill="#b9c3f0"/><rect x="430.4" y="70.7" width="1.3" height="1.3" fill="#b9c3f0"/><rect x="449.6" y="66.8" width="1.3" height="1.3" fill="#8ca0e8"/><rect x="426.4" y="67.8" width="1.3" height="1.3" fill="#b9c3f0"/><rect x="426.6" y="68.7" width="1.3" height="1.3" fill="#8ca0e8"/><rect x="424.7" y="68.2" width="1.3" height="1.3" fill="#191e82"/><rect x="446.2" y="64.4" width="1.3" height="1.3" fill="#193cd2"/><rect x="442.8" y="60.8" width="1.3" height="1.3" fill="#4b69dc"/><rect x="435.9" y="61.3" width="1.3" height="1.3" fill="#b9c3f0"/><rect x="445.2" y="67.9" width="1.3" height="1.3" fill="#8ca0e8"/><rect x="427.2" y="69.5" width="1.3" height="1.3" fill="#b9c3f0"/><rect x="428.1" y="70.6" width="1.3" height="1.3" fill="#4b69dc"/><rect x="438.3" y="71.8" width="1.3" height="1.3" fill="#4b69dc"/><rect x="426.2" y="66.8" width="1.3" height="1.3" fill="#191e82"/><rect x="429.6" y="61.9" width="1.3" height="1.3" fill="#191e82"/><rect x="441.5" y="71.0" width="1.3" height="1.3" fill="#193cd2"/><rect x="426.6" y="65.1" width="1.3" height="1.3" fill="#191e82"/><rect x="435.2" y="71.4" width="1.3" height="1.3" fill="#193cd2"/><rect x="443.5" y="63.8" width="1.3" height="1.3" fill="#191e82"/><rect x="429.6" y="61.1" width="1.3" height="1.3" fill="#193cd2"/><rect x="424.5" y="67.1" width="1.3" height="1.3" fill="#4b69dc"/><rect x="446.5" y="68.1" width="1.3" height="1.3" fill="#4b69dc"/><rect x="437.4" y="60.5" width="1.3" height="1.3" fill="#8ca0e8"/><rect x="441.1" y="61.2" width="1.3" height="1.3" fill="#b9c3f0"/><rect x="433.2" y="61.9" width="1.3" height="1.3" fill="#191e82"/><rect x="444.4" y="62.9" width="1.3" height="1.3" fill="#8ca0e8"/><rect x="429.1" y="62.2" width="1.3" height="1.3" fill="#193cd2"/><rect x="428.2" y="62.4" width="1.3" height="1.3" fill="#193cd2"/><rect x="438.0" y="70.8" width="1.3" height="1.3" fill="#8ca0e8"/><rect x="432.0" y="60.1" width="1.3" height="1.3" fill="#193cd2"/><rect x="429.9" y="69.6" width="1.3" height="1.3" fill="#4b69dc"/><rect x="442.8" y="69.4" width="1.3" height="1.3" fill="#4b69dc"/><rect x="444.1" y="62.3" width="1.3" height="1.3" fill="#4b69dc"/><rect x="445.9" y="68.2" width="1.3" height="1.3" fill="#8ca0e8"/><rect x="427.0" y="64.1" width="1.3" height="1.3" fill="#b9c3f0"/><rect x="446.2" y="64.1" width="1.3" height="1.3" fill="#8ca0e8"/><rect x="432.6" y="70.3" width="1.3" height="1.3" fill="#193cd2"/><rect x="427.9" y="63.8" width="1.3" height="1.3" fill="#4b69dc"/><rect x="443.8" y="63.0" width="1.3" height="1.3" fill="#8ca0e8"/><rect x="427.9" y="65.8" width="1.3" height="1.3" fill="#4b69dc"/><rect x="427.9" y="69.0" width="1.3" height="1.3" fill="#8ca0e8"/><rect x="436.8" y="70.4" width="1.3" height="1.3" fill="#193cd2"/><rect x="444.6" y="67.0" width="1.3" height="1.3" fill="#193cd2"/><rect x="432.6" y="70.8" width="1.3" height="1.3" fill="#193cd2"/><rect x="434.1" y="71.2" width="1.3" height="1.3" fill="#193cd2"/><rect x="440.5" y="61.9" width="1.3" height="1.3" fill="#193cd2"/><rect x="439.9" y="61.1" width="1.3" height="1.3" fill="#4b69dc"/><rect x="427.6" y="67.0" width="1.3" height="1.3" fill="#b9c3f0"/><rect x="436.2" y="61.3" width="1.3" height="1.3" fill="#4b69dc"/><rect x="433.0" y="71.1" width="1.3" height="1.3" fill="#191e82"/><rect x="443.9" y="66.6" width="1.3" height="1.3" fill="#8ca0e8"/><rect x="435.5" y="69.3" width="1.3" height="1.3" fill="#4b69dc"/><rect x="434.2" y="62.0" width="1.3" height="1.3" fill="#8ca0e8"/><rect x="442.9" y="68.6" width="1.3" height="1.3" fill="#4b69dc"/><rect x="428.5" y="63.5" width="1.3" height="1.3" fill="#193cd2"/><rect x="430.3" y="63.0" width="1.3" height="1.3" fill="#b9c3f0"/><rect x="437.2" y="61.2" width="1.3" height="1.3" fill="#4b69dc"/><rect x="429.3" y="63.8" width="1.3" height="1.3" fill="#193cd2"/><rect x="430.7" y="70.8" width="1.3" height="1.3" fill="#191e82"/><rect x="434.1" y="63.0" width="1.3" height="1.3" fill="#191e82"/><rect x="436.2" y="62.2" width="1.3" height="1.3" fill="#b9c3f0"/><rect x="442.9" y="64.9" width="1.3" height="1.3" fill="#8ca0e8"/><rect x="426.0" y="65.2" width="1.3" height="1.3" fill="#193cd2"/><rect x="441.1" y="70.1" width="1.3" height="1.3" fill="#8ca0e8"/><rect x="442.5" y="65.9" width="1.3" height="1.3" fill="#b9c3f0"/><rect x="438.3" y="69.9" width="1.3" height="1.3" fill="#191e82"/><rect x="445.6" y="66.5" width="1.3" height="1.3" fill="#b9c3f0"/><rect x="436.9" y="62.0" width="1.3" height="1.3" fill="#193cd2"/><rect x="437.4" y="62.3" width="1.3" height="1.3" fill="#b9c3f0"/><rect x="429.2" y="64.9" width="1.3" height="1.3" fill="#4b69dc"/><rect x="428.7" y="67.5" width="1.3" height="1.3" fill="#8ca0e8"/><rect x="436.0" y="62.4" width="1.3" height="1.3" fill="#8ca0e8"/><rect x="436.4" y="69.8" width="1.3" height="1.3" fill="#8ca0e8"/><rect x="440.8" y="61.7" width="1.3" height="1.3" fill="#4b69dc"/><rect x="443.0" y="60.9" width="1.3" height="1.3" fill="#193cd2"/><rect x="444.0" y="64.9" width="1.3" height="1.3" fill="#8ca0e8"/><rect x="440.4" y="62.5" width="1.3" height="1.3" fill="#8ca0e8"/><rect x="429.7" y="69.2" width="1.3" height="1.3" fill="#b9c3f0"/><rect x="428.5" y="69.5" width="1.3" height="1.3" fill="#4b69dc"/><rect x="435.2" y="69.7" width="1.3" height="1.3" fill="#4b69dc"/><rect x="442.3" y="67.5" width="1.3" height="1.3" fill="#8ca0e8"/><rect x="434.1" y="69.9" width="1.3" height="1.3" fill="#8ca0e8"/><rect x="429.6" y="65.5" width="1.3" height="1.3" fill="#193cd2"/><rect x="434.1" y="69.6" width="1.3" height="1.3" fill="#8ca0e8"/><rect x="430.3" y="69.7" width="1.3" height="1.3" fill="#191e82"/><rect x="437.4" y="61.5" width="1.3" height="1.3" fill="#4b69dc"/><rect x="429.0" y="63.1" width="1.3" height="1.3" fill="#191e82"/><rect x="428.5" y="65.3" width="1.3" height="1.3" fill="#8ca0e8"/><rect x="429.3" y="64.1" width="1.3" height="1.3" fill="#4b69dc"/><rect x="440.3" y="70.2" width="1.3" height="1.3" fill="#8ca0e8"/><rect x="438.3" y="63.4" width="1.3" height="1.3" fill="#32afe1"/><rect x="427.5" y="66.5" width="1.3" height="1.3" fill="#4b69dc"/><rect x="441.0" y="65.4" width="1.3" height="1.3" fill="#32afe1"/><rect x="440.6" y="61.6" width="1.3" height="1.3" fill="#32afe1"/><rect x="430.5" y="62.6" width="1.3" height="1.3" fill="#193cd2"/><rect x="441.3" y="65.3" width="1.3" height="1.3" fill="#8ca0e8"/><rect x="434.6" y="70.2" width="1.3" height="1.3" fill="#193cd2"/><rect x="441.5" y="65.3" width="1.3" height="1.3" fill="#193cd2"/><rect x="429.4" y="64.9" width="1.3" height="1.3" fill="#8ca0e8"/><rect x="430.2" y="65.1" width="1.3" height="1.3" fill="#4b69dc"/><rect x="438.7" y="70.1" width="1.3" height="1.3" fill="#8ca0e8"/><rect x="427.8" y="66.1" width="1.3" height="1.3" fill="#4b69dc"/><rect x="428.0" y="66.4" width="1.3" height="1.3" fill="#193cd2"/><rect x="434.6" y="69.3" width="1.3" height="1.3" fill="#8ca0e8"/><rect x="427.6" y="67.2" width="1.3" height="1.3" fill="#193cd2"/><rect x="443.1" y="67.0" width="1.3" height="1.3" fill="#191e82"/><rect x="431.9" y="68.7" width="1.3" height="1.3" fill="#193cd2"/><rect x="428.4" y="68.9" width="1.3" height="1.3" fill="#4b69dc"/><rect x="428.9" y="68.4" width="1.3" height="1.3" fill="#193cd2"/><rect x="432.6" y="63.9" width="1.3" height="1.3" fill="#4b69dc"/><rect x="434.7" y="70.0" width="1.3" height="1.3" fill="#4b69dc"/><rect x="429.2" y="64.6" width="1.3" height="1.3" fill="#191e82"/><rect x="442.4" y="66.7" width="1.3" height="1.3" fill="#193cd2"/><rect x="431.8" y="69.8" width="1.3" height="1.3" fill="#191e82"/><rect x="441.9" y="68.1" width="1.3" height="1.3" fill="#32afe1"/><rect x="431.6" y="69.4" width="1.3" height="1.3" fill="#8ca0e8"/><rect x="439.1" y="68.6" width="1.3" height="1.3" fill="#193cd2"/><rect x="441.8" y="67.9" width="1.3" height="1.3" fill="#193cd2"/><rect x="441.6" y="64.2" width="1.3" height="1.3" fill="#8ca0e8"/><rect x="436.4" y="69.0" width="1.3" height="1.3" fill="#8ca0e8"/><rect x="441.9" y="64.1" width="1.3" height="1.3" fill="#4b69dc"/><rect x="428.7" y="64.8" width="1.3" height="1.3" fill="#193cd2"/><rect x="430.7" y="66.1" width="1.3" height="1.3" fill="#191e82"/><rect x="440.1" y="64.0" width="1.3" height="1.3" fill="#4b69dc"/><rect x="430.9" y="66.7" width="1.3" height="1.3" fill="#32afe1"/><rect x="439.4" y="69.1" width="1.3" height="1.3" fill="#191e82"/><rect x="438.5" y="68.6" width="1.3" height="1.3" fill="#32afe1"/><rect x="432.7" y="68.8" width="1.3" height="1.3" fill="#32afe1"/><rect x="440.1" y="68.1" width="1.3" height="1.3" fill="#191e82"/><rect x="430.6" y="66.3" width="1.3" height="1.3" fill="#4b69dc"/><rect x="430.1" y="68.6" width="1.3" height="1.3" fill="#8ca0e8"/><rect x="428.4" y="65.3" width="1.3" height="1.3" fill="#8ca0e8"/><rect x="441.1" y="69.3" width="1.3" height="1.3" fill="#191e82"/><rect x="431.7" y="64.1" width="1.3" height="1.3" fill="#191e82"/><rect x="439.0" y="68.6" width="1.3" height="1.3" fill="#4b69dc"/><rect x="440.6" y="66.8" width="1.3" height="1.3" fill="#8ca0e8"/><rect x="438.5" y="68.4" width="1.3" height="1.3" fill="#32afe1"/><rect x="437.5" y="69.1" width="1.3" height="1.3" fill="#4b69dc"/><rect x="431.7" y="68.3" width="1.3" height="1.3" fill="#4b69dc"/><rect x="430.0" y="66.7" width="1.3" height="1.3" fill="#191e82"/><rect x="432.4" y="67.6" width="1.3" height="1.3" fill="#32afe1"/><rect x="431.2" y="65.6" width="1.3" height="1.3" fill="#4b69dc"/><rect x="430.6" y="66.8" width="1.3" height="1.3" fill="#4b69dc"/><rect x="432.6" y="63.9" width="1.3" height="1.3" fill="#191e82"/><rect x="438.1" y="67.8" width="1.3" height="1.3" fill="#32afe1"/><rect x="435.8" y="63.3" width="1.3" height="1.3" fill="#4b69dc"/><rect x="436.6" y="63.6" width="1.3" height="1.3" fill="#193cd2"/><rect x="440.4" y="63.5" width="1.3" height="1.3" fill="#32afe1"/><rect x="434.7" y="68.5" width="1.3" height="1.3" fill="#32afe1"/><rect x="438.0" y="68.9" width="1.3" height="1.3" fill="#193cd2"/><rect x="431.8" y="67.0" width="1.3" height="1.3" fill="#4b69dc"/><rect x="441.0" y="66.5" width="1.3" height="1.3" fill="#193cd2"/><rect x="441.2" y="68.8" width="1.3" height="1.3" fill="#32afe1"/><rect x="432.4" y="63.8" width="1.3" height="1.3" fill="#193cd2"/><rect x="441.8" y="66.4" width="1.3" height="1.3" fill="#193cd2"/><rect x="434.5" y="62.9" width="1.3" height="1.3" fill="#32afe1"/><rect x="431.2" y="67.6" width="1.3" height="1.3" fill="#193cd2"/><rect x="432.0" y="68.7" width="1.3" height="1.3" fill="#32afe1"/><rect x="442.5" y="67.5" width="1.3" height="1.3" fill="#4b69dc"/><rect x="435.2" y="68.7" width="1.3" height="1.3" fill="#191e82"/><rect x="430.1" y="65.9" width="1.3" height="1.3" fill="#191e82"/><rect x="432.9" y="69.2" width="1.3" height="1.3" fill="#4b69dc"/><rect x="431.2" y="65.9" width="1.3" height="1.3" fill="#8ca0e8"/><rect x="429.3" y="67.4" width="1.3" height="1.3" fill="#191e82"/><rect x="440.4" y="68.9" width="1.3" height="1.3" fill="#4b69dc"/><rect x="430.9" y="67.2" width="1.3" height="1.3" fill="#193cd2"/><rect x="431.2" y="67.3" width="1.3" height="1.3" fill="#191e82"/><rect x="433.5" y="64.2" width="1.3" height="1.3" fill="#191e82"/><rect x="433.7" y="68.3" width="1.3" height="1.3" fill="#4b69dc"/><rect x="437.9" y="64.0" width="1.3" height="1.3" fill="#191e82"/><rect x="431.8" y="67.7" width="1.3" height="1.3" fill="#191e82"/><rect x="441.5" y="65.2" width="1.3" height="1.3" fill="#32afe1"/><rect x="437.0" y="63.7" width="1.3" height="1.3" fill="#4b69dc"/><rect x="441.7" y="67.0" width="1.3" height="1.3" fill="#193cd2"/><rect x="435.1" y="63.8" width="1.3" height="1.3" fill="#191e82"/><rect x="433.0" y="64.4" width="1.3" height="1.3" fill="#4b69dc"/><rect x="436.2" y="68.5" width="1.3" height="1.3" fill="#8ca0e8"/><rect x="441.2" y="65.4" width="1.3" height="1.3" fill="#32afe1"/><rect x="435.2" y="64.7" width="1.3" height="1.3" fill="#32afe1"/><rect x="433.0" y="66.6" width="1.3" height="1.3" fill="#193cd2"/><rect x="438.0" y="68.0" width="1.3" height="1.3" fill="#191e82"/><rect x="436.3" y="63.8" width="1.3" height="1.3" fill="#32afe1"/><rect x="433.2" y="68.1" width="1.3" height="1.3" fill="#4b69dc"/><rect x="434.7" y="69.3" width="1.3" height="1.3" fill="#32afe1"/><rect x="436.3" y="68.7" width="1.3" height="1.3" fill="#82cd78"/><rect x="439.6" y="67.5" width="1.3" height="1.3" fill="#82cd78"/><rect x="434.5" y="67.6" width="1.3" height="1.3" fill="#3cbe50"/><rect x="439.3" y="65.8" width="1.3" height="1.3" fill="#32afe1"/><rect x="437.8" y="65.2" width="1.3" height="1.3" fill="#82cd78"/><rect x="435.9" y="63.5" width="1.3" height="1.3" fill="#32afe1"/><rect x="437.3" y="67.3" width="1.3" height="1.3" fill="#82cd78"/><rect x="434.3" y="62.6" width="1.3" height="1.3" fill="#3cbe50"/><rect x="433.3" y="64.8" width="1.3" height="1.3" fill="#3cbe50"/><rect x="435.1" y="64.4" width="1.3" height="1.3" fill="#82cd78"/><rect x="437.4" y="65.3" width="1.3" height="1.3" fill="#3cbe50"/><rect x="431.9" y="67.1" width="1.3" height="1.3" fill="#82cd78"/><rect x="438.4" y="64.9" width="1.3" height="1.3" fill="#3cbe50"/><rect x="438.6" y="64.8" width="1.3" height="1.3" fill="#32afe1"/><rect x="437.6" y="66.1" width="1.3" height="1.3" fill="#82cd78"/><rect x="437.1" y="67.7" width="1.3" height="1.3" fill="#82cd78"/><rect x="440.8" y="65.7" width="1.3" height="1.3" fill="#82cd78"/><rect x="435.1" y="67.6" width="1.3" height="1.3" fill="#32afe1"/><rect x="438.7" y="68.0" width="1.3" height="1.3" fill="#32afe1"/><rect x="435.1" y="66.6" width="1.3" height="1.3" fill="#82cd78"/><rect x="437.4" y="68.3" width="1.3" height="1.3" fill="#82cd78"/><rect x="436.4" y="65.3" width="1.3" height="1.3" fill="#82cd78"/><rect x="436.7" y="67.3" width="1.3" height="1.3" fill="#32afe1"/><rect x="432.5" y="66.7" width="1.3" height="1.3" fill="#82cd78"/><rect x="436.3" y="67.0" width="1.3" height="1.3" fill="#82cd78"/><rect x="438.0" y="67.0" width="1.3" height="1.3" fill="#82cd78"/><rect x="433.3" y="66.6" width="1.3" height="1.3" fill="#82cd78"/><rect x="437.2" y="67.2" width="1.3" height="1.3" fill="#3cbe50"/><rect x="436.8" y="65.7" width="1.3" height="1.3" fill="#82cd78"/><rect x="433.7" y="66.7" width="1.3" height="1.3" fill="#3cbe50"/><rect x="436.9" y="66.2" width="1.3" height="1.3" fill="#82cd78"/><rect x="435.0" y="65.9" width="1.3" height="1.3" fill="#32afe1"/></g>
<polygon points="277.9,89.2 317.9,89.2 317.9,52.4 293.8,52.4 277.9,75.8" fill="none" stroke="#df6555" stroke-width="1.0"/>
<polygon points="361.2,89.2 401.5,89.2 401.5,52.4 377.9,52.4 361.2,75.8" fill="none" stroke="#df6555" stroke-width="1.0"/>
<polygon points="444.6,89.2 484.6,89.2 484.6,52.4 461.0,52.4 444.6,76.7" fill="none" stroke="#df6555" stroke-width="1.0"/>
<text x="298.2" y="48.8" font-size="10.4" fill="#1e1e1e" stroke="#1e1e1e" stroke-width="0.4" font-style="italic" textLength="15.5" lengthAdjust="spacingAndGlyphs" >3.1</text>
<text x="382.2" y="48.8" font-size="10.4" fill="#1e1e1e" stroke="#1e1e1e" stroke-width="0.4" font-style="italic" textLength="15.8" lengthAdjust="spacingAndGlyphs" >4.4</text>
<text x="461.0" y="48.8" font-size="10.4" fill="#1e1e1e" stroke="#1e1e1e" stroke-width="0.4" font-style="italic" textLength="21.2" lengthAdjust="spacingAndGlyphs" >14.0</text>
<text x="274.8" y="114.9" font-size="10.6" fill="#1e1e1e" stroke="#1e1e1e" stroke-width="0.4" font-style="italic" textLength="23.0" lengthAdjust="spacingAndGlyphs" >IL-15</text>
<text x="360.2" y="115.1" font-size="10.6" fill="#1e1e1e" stroke="#1e1e1e" stroke-width="0.4" font-style="italic" textLength="19.8" lengthAdjust="spacingAndGlyphs" >ART</text>
<text x="427.3" y="114.9" font-size="10.6" fill="#1e1e1e" stroke="#1e1e1e" stroke-width="0.4" font-style="italic" textLength="48.2" lengthAdjust="spacingAndGlyphs" >ART+IL-15</text>
<line x1="236.5" y1="132.6" x2="236.5" y2="101.5" stroke="#111" stroke-width="1.2"/>
<polygon points="236.5,95.6 234.6,102.2 238.4,102.2" fill="#111"/>
<line x1="236.5" y1="132.6" x2="267.5" y2="132.6" stroke="#111" stroke-width="1.2"/>
<polygon points="274.2,132.6 266.2,130.8 266.2,134.4" fill="#111"/>
<text transform="translate(229.6,122.4) rotate(-90)" font-size="12.0" fill="#1e1e1e" stroke="#1e1e1e" stroke-width="0.4" textLength="27.4" lengthAdjust="spacingAndGlyphs" >CD95</text>
<text x="248.4" y="143.6" font-size="12.0" fill="#1e1e1e" stroke="#1e1e1e" stroke-width="0.4" textLength="55.0" lengthAdjust="spacingAndGlyphs" >Annexin-V</text>
<line x1="74.5" y1="206.6" x2="74.5" y2="333.5" stroke="#5c5c5c" stroke-width="1.1"/>
<line x1="74.5" y1="333.5" x2="213.8" y2="333.5" stroke="#5c5c5c" stroke-width="1.1"/>
<line x1="72.2" y1="332.8" x2="74.2" y2="332.8" stroke="#5c5c5c" stroke-width="1"/>
<text x="68.4" y="336.3" font-size="10.2" fill="#1e1e1e" stroke="#1e1e1e" stroke-width="0.4" text-anchor="end" textLength="5.9" lengthAdjust="spacingAndGlyphs" >0</text>
<line x1="72.2" y1="301.40000000000003" x2="74.2" y2="301.40000000000003" stroke="#5c5c5c" stroke-width="1"/>
<text x="68.4" y="304.90000000000003" font-size="10.2" fill="#1e1e1e" stroke="#1e1e1e" stroke-width="0.4" text-anchor="end" textLength="5.9" lengthAdjust="spacingAndGlyphs" >5</text>
<line x1="72.2" y1="270.0" x2="74.2" y2="270.0" stroke="#5c5c5c" stroke-width="1"/>
<text x="68.4" y="273.5" font-size="10.2" fill="#1e1e1e" stroke="#1e1e1e" stroke-width="0.4" text-anchor="end" textLength="11.4" lengthAdjust="spacingAndGlyphs" >10</text>
<line x1="72.2" y1="238.60000000000002" x2="74.2" y2="238.60000000000002" stroke="#5c5c5c" stroke-width="1"/>
<text x="68.4" y="242.10000000000002" font-size="10.2" fill="#1e1e1e" stroke="#1e1e1e" stroke-width="0.4" text-anchor="end" textLength="11.4" lengthAdjust="spacingAndGlyphs" >15</text>
<line x1="72.2" y1="207.2" x2="74.2" y2="207.2" stroke="#5c5c5c" stroke-width="1"/>
<text x="68.4" y="210.7" font-size="10.2" fill="#1e1e1e" stroke="#1e1e1e" stroke-width="0.4" text-anchor="end" textLength="11.4" lengthAdjust="spacingAndGlyphs" >20</text>
<line x1="119.5" y1="331.3" x2="119.5" y2="335.0" stroke="#5c5c5c" stroke-width="1"/>
<line x1="164.5" y1="331.3" x2="164.5" y2="335.0" stroke="#5c5c5c" stroke-width="1"/>
<line x1="209.5" y1="331.3" x2="209.5" y2="335.0" stroke="#5c5c5c" stroke-width="1"/>
<text x="90.6" y="350.5" font-size="12.6" fill="#1e1e1e" stroke="#1e1e1e" stroke-width="0.4"><tspan>T</tspan><tspan font-size="9.0" dy="3.0">N</tspan></text>
<text x="130.8" y="350.5" font-size="12.6" fill="#1e1e1e" stroke="#1e1e1e" stroke-width="0.4"><tspan>T</tspan><tspan font-size="9.0" dy="3.0">CM</tspan></text>
<text x="178.3" y="350.5" font-size="12.6" fill="#1e1e1e" stroke="#1e1e1e" stroke-width="0.4"><tspan>T</tspan><tspan font-size="9.0" dy="3.0">EM</tspan></text>
<rect x="86.9" y="178.5" width="8.9" height="8.4" fill="#a6a6a6" stroke="none" stroke-width="1"/>
<text x="99.5" y="186.1" font-size="10.1" fill="#1e1e1e" stroke="#1e1e1e" stroke-width="0.4" textLength="22.3" lengthAdjust="spacingAndGlyphs" >IL-15</text>
<rect x="86.9" y="196.5" width="8.9" height="8.4" fill="#0a14f0" stroke="none" stroke-width="1"/>
<text x="99.5" y="204.1" font-size="10.1" fill="#1e1e1e" stroke="#1e1e1e" stroke-width="0.4" textLength="17.8" lengthAdjust="spacingAndGlyphs" >ART</text>
<rect x="86.9" y="214.3" width="8.9" height="8.4" fill="#f00a0a" stroke="none" stroke-width="1"/>
<text x="99.5" y="221.9" font-size="10.1" fill="#1e1e1e" stroke="#1e1e1e" stroke-width="0.4" textLength="47.6" lengthAdjust="spacingAndGlyphs" >ART+IL-15</text>
<text transform="translate(30.4,319.9) rotate(-90)" font-size="12.0" fill="#1e1e1e" stroke="#1e1e1e" stroke-width="0.4" textLength="105.5" lengthAdjust="spacingAndGlyphs" >Percent annexin-V<tspan font-size="8" dy="-4.5">+</tspan></text>
<text transform="translate(46.8,294.3) rotate(-90)" font-size="12.0" fill="#1e1e1e" stroke="#1e1e1e" stroke-width="0.4" textLength="53.5" lengthAdjust="spacingAndGlyphs" >CD4<tspan font-size="8" dy="-4.5">+</tspan><tspan dy="4.5"> cells</tspan></text>
<rect x="79.4" y="296.5" width="9.099999999999994" height="22.69999999999999" fill="none" stroke="#505050" stroke-width="1.0"/>
<line x1="79.4" y1="310.9" x2="88.5" y2="310.9" stroke="#2a2a2a" stroke-width="1.5"/>
<rect x="92.1" y="273.3" width="9.200000000000003" height="48.099999999999966" fill="none" stroke="#505050" stroke-width="1.0"/>
<line x1="92.1" y1="307.9" x2="101.3" y2="307.9" stroke="#2a2a2a" stroke-width="1.5"/>
<rect x="104.3" y="301.0" width="9.400000000000006" height="21.0" fill="none" stroke="#505050" stroke-width="1.0"/>
<line x1="104.3" y1="316.1" x2="113.7" y2="316.1" stroke="#2a2a2a" stroke-width="1.5"/>
<circle cx="83.8" cy="283.8" r="2.35" fill="#999999" stroke="#7a7a7a" stroke-width="0.5"/>
<circle cx="83.8" cy="307.0" r="2.35" fill="#999999" stroke="#7a7a7a" stroke-width="0.5"/>
<circle cx="83.8" cy="314.8" r="2.35" fill="#999999" stroke="#7a7a7a" stroke-width="0.5"/>
<circle cx="83.8" cy="323.6" r="2.35" fill="#999999" stroke="#7a7a7a" stroke-width="0.5"/>
<circle cx="91.8" cy="271.9" r="2.35" fill="#1428d2" stroke="#0c1aa0" stroke-width="0.5"/>
<circle cx="98.0" cy="272.5" r="2.35" fill="#1428d2" stroke="#0c1aa0" stroke-width="0.5"/>
<circle cx="98.0" cy="298.2" r="2.35" fill="#1428d2" stroke="#0c1aa0" stroke-width="0.5"/>
<circle cx="98.0" cy="317.0" r="2.35" fill="#1428d2" stroke="#0c1aa0" stroke-width="0.5"/>
<circle cx="98.0" cy="320.3" r="2.35" fill="#1428d2" stroke="#0c1aa0" stroke-width="0.5"/>
<circle cx="97.6" cy="323.2" r="2.35" fill="#1428d2" stroke="#0c1aa0" stroke-width="0.5"/>
<circle cx="98.0" cy="326.4" r="2.35" fill="#1428d2" stroke="#0c1aa0" stroke-width="0.5"/>
<circle cx="110.6" cy="289.9" r="2.35" fill="#e8281a" stroke="#b81c10" stroke-width="0.5"/>
<circle cx="110.6" cy="301.0" r="2.35" fill="#e8281a" stroke="#b81c10" stroke-width="0.5"/>
<circle cx="106.5" cy="314.2" r="2.35" fill="#e8281a" stroke="#b81c10" stroke-width="0.5"/>
<circle cx="111.0" cy="319.2" r="2.35" fill="#e8281a" stroke="#b81c10" stroke-width="0.5"/>
<circle cx="104.9" cy="322.5" r="2.35" fill="#e8281a" stroke="#b81c10" stroke-width="0.5"/>
<circle cx="111.0" cy="322.5" r="2.35" fill="#e8281a" stroke="#b81c10" stroke-width="0.5"/>
<rect x="124.3" y="268.4" width="9.299999999999997" height="47.30000000000001" fill="none" stroke="#505050" stroke-width="1.0"/>
<line x1="124.3" y1="303.5" x2="133.6" y2="303.5" stroke="#2a2a2a" stroke-width="1.5"/>
<rect x="137.4" y="296.2" width="9.0" height="11.300000000000011" fill="none" stroke="#505050" stroke-width="1.0"/>
<line x1="137.4" y1="306.3" x2="146.4" y2="306.3" stroke="#2a2a2a" stroke-width="1.5"/>
<rect x="149.5" y="287.9" width="9.099999999999994" height="18.80000000000001" fill="none" stroke="#505050" stroke-width="1.0"/>
<line x1="149.5" y1="304.4" x2="158.6" y2="304.4" stroke="#2a2a2a" stroke-width="1.5"/>
<circle cx="128.7" cy="236.3" r="2.35" fill="#999999" stroke="#7a7a7a" stroke-width="0.5"/>
<circle cx="128.7" cy="299.4" r="2.35" fill="#999999" stroke="#7a7a7a" stroke-width="0.5"/>
<circle cx="128.7" cy="308.4" r="2.35" fill="#999999" stroke="#7a7a7a" stroke-width="0.5"/>
<circle cx="128.7" cy="324.4" r="2.35" fill="#999999" stroke="#7a7a7a" stroke-width="0.5"/>
<circle cx="142.6" cy="275.7" r="2.35" fill="#1428d2" stroke="#0c1aa0" stroke-width="0.5"/>
<circle cx="142.6" cy="295.9" r="2.35" fill="#1428d2" stroke="#0c1aa0" stroke-width="0.5"/>
<circle cx="142.6" cy="304.1" r="2.35" fill="#1428d2" stroke="#0c1aa0" stroke-width="0.5"/>
<circle cx="142.6" cy="309.8" r="2.35" fill="#1428d2" stroke="#0c1aa0" stroke-width="0.5"/>
<circle cx="137.0" cy="311.9" r="2.35" fill="#1428d2" stroke="#0c1aa0" stroke-width="0.5"/>
<circle cx="142.6" cy="316.2" r="2.35" fill="#1428d2" stroke="#0c1aa0" stroke-width="0.5"/>
<circle cx="153.9" cy="268.4" r="2.35" fill="#e8281a" stroke="#b81c10" stroke-width="0.5"/>
<circle cx="153.9" cy="287.6" r="2.35" fill="#e8281a" stroke="#b81c10" stroke-width="0.5"/>
<circle cx="153.9" cy="303.2" r="2.35" fill="#e8281a" stroke="#b81c10" stroke-width="0.5"/>
<circle cx="160.0" cy="304.9" r="2.35" fill="#e8281a" stroke="#b81c10" stroke-width="0.5"/>
<circle cx="153.9" cy="308.1" r="2.35" fill="#e8281a" stroke="#b81c10" stroke-width="0.5"/>
<circle cx="153.9" cy="316.7" r="2.35" fill="#e8281a" stroke="#b81c10" stroke-width="0.5"/>
<rect x="169.3" y="274.5" width="9.299999999999983" height="25.19999999999999" fill="none" stroke="#505050" stroke-width="1.0"/>
<line x1="169.3" y1="299.2" x2="178.6" y2="299.2" stroke="#2a2a2a" stroke-width="1.5"/>
<rect x="182.4" y="282.3" width="9.0" height="20.0" fill="none" stroke="#505050" stroke-width="1.0"/>
<line x1="182.4" y1="292.7" x2="191.4" y2="292.7" stroke="#2a2a2a" stroke-width="1.5"/>
<rect x="194.5" y="223.8" width="9.599999999999994" height="44.099999999999966" fill="none" stroke="#505050" stroke-width="1.0"/>
<line x1="194.5" y1="266.7" x2="204.1" y2="266.7" stroke="#2a2a2a" stroke-width="1.5"/>
<circle cx="175.8" cy="249.3" r="2.35" fill="#999999" stroke="#7a7a7a" stroke-width="0.5"/>
<circle cx="170.2" cy="300.6" r="2.35" fill="#999999" stroke="#7a7a7a" stroke-width="0.5"/>
<circle cx="175.8" cy="298.0" r="2.35" fill="#999999" stroke="#7a7a7a" stroke-width="0.5"/>
<circle cx="175.8" cy="303.2" r="2.35" fill="#999999" stroke="#7a7a7a" stroke-width="0.5"/>
<circle cx="186.2" cy="243.6" r="2.35" fill="#1428d2" stroke="#0c1aa0" stroke-width="0.5"/>
<circle cx="192.8" cy="281.5" r="2.35" fill="#1428d2" stroke="#0c1aa0" stroke-width="0.5"/>
<circle cx="187.2" cy="284.6" r="2.35" fill="#1428d2" stroke="#0c1aa0" stroke-width="0.5"/>
<circle cx="187.2" cy="299.7" r="2.35" fill="#1428d2" stroke="#0c1aa0" stroke-width="0.5"/>
<circle cx="181.5" cy="303.2" r="2.35" fill="#1428d2" stroke="#0c1aa0" stroke-width="0.5"/>
<circle cx="187.2" cy="306.7" r="2.35" fill="#1428d2" stroke="#0c1aa0" stroke-width="0.5"/>
<circle cx="198.9" cy="218.0" r="2.35" fill="#e8281a" stroke="#b81c10" stroke-width="0.5"/>
<circle cx="198.9" cy="223.2" r="2.35" fill="#e8281a" stroke="#b81c10" stroke-width="0.5"/>
<circle cx="198.9" cy="264.1" r="2.35" fill="#e8281a" stroke="#b81c10" stroke-width="0.5"/>
<circle cx="198.9" cy="270.2" r="2.35" fill="#e8281a" stroke="#b81c10" stroke-width="0.5"/>
<circle cx="204.6" cy="269.0" r="2.35" fill="#e8281a" stroke="#b81c10" stroke-width="0.5"/>
<circle cx="198.9" cy="283.2" r="2.35" fill="#e8281a" stroke="#b81c10" stroke-width="0.5"/>
<text x="195.2" y="199.2" font-size="10.6" fill="#e0281e" stroke="#e0281e" stroke-width="0.4" font-weight="bold" textLength="7.2" lengthAdjust="spacingAndGlyphs" >#</text>
<line x1="314.5" y1="209.9" x2="314.5" y2="308.6" stroke="#5c5c5c" stroke-width="1.1"/>
<line x1="314.6" y1="308.2" x2="313.2" y2="310.6" stroke="#5c5c5c" stroke-width="1.1"/>
<line x1="314.5" y1="317.0" x2="314.5" y2="333.5" stroke="#5c5c5c" stroke-width="1.1"/>
<line x1="314.4" y1="317.2" x2="316.7" y2="315.2" stroke="#5c5c5c" stroke-width="1.1"/>
<line x1="312.4" y1="322.4" x2="314.6" y2="322.4" stroke="#5c5c5c" stroke-width="1"/>
<line x1="312.4" y1="326.6" x2="314.6" y2="326.6" stroke="#5c5c5c" stroke-width="1"/>
<line x1="312.4" y1="330.4" x2="314.6" y2="330.4" stroke="#5c5c5c" stroke-width="1"/>
<line x1="314.5" y1="333.5" x2="482.3" y2="333.5" stroke="#5c5c5c" stroke-width="1.1"/>
<line x1="352.4" y1="331.8" x2="352.4" y2="335.2" stroke="#5c5c5c" stroke-width="1"/>
<line x1="384.0" y1="331.8" x2="384.0" y2="335.2" stroke="#5c5c5c" stroke-width="1"/>
<line x1="415.4" y1="331.8" x2="415.4" y2="335.2" stroke="#5c5c5c" stroke-width="1"/>
<line x1="446.7" y1="331.8" x2="446.7" y2="335.2" stroke="#5c5c5c" stroke-width="1"/>
<line x1="478.1" y1="331.8" x2="478.1" y2="335.2" stroke="#5c5c5c" stroke-width="1"/>
<line x1="312.6" y1="238.3" x2="314.6" y2="238.3" stroke="#5c5c5c" stroke-width="1"/>
<text x="308.7" y="241.70000000000002" font-size="10.2" fill="#1e1e1e" stroke="#1e1e1e" stroke-width="0.4" text-anchor="end" textLength="14.2" lengthAdjust="spacingAndGlyphs" >0.3</text>
<line x1="312.6" y1="259.6" x2="314.6" y2="259.6" stroke="#5c5c5c" stroke-width="1"/>
<text x="308.7" y="263.0" font-size="10.2" fill="#1e1e1e" stroke="#1e1e1e" stroke-width="0.4" text-anchor="end" textLength="14.2" lengthAdjust="spacingAndGlyphs" >0.0</text>
<line x1="312.6" y1="280.90000000000003" x2="314.6" y2="280.90000000000003" stroke="#5c5c5c" stroke-width="1"/>
<text x="308.7" y="284.3" font-size="10.2" fill="#1e1e1e" stroke="#1e1e1e" stroke-width="0.4" text-anchor="end" textLength="17.6" lengthAdjust="spacingAndGlyphs" >-0.3</text>
<line x1="312.6" y1="302.20000000000005" x2="314.6" y2="302.20000000000005" stroke="#5c5c5c" stroke-width="1"/>
<text x="308.7" y="305.6" font-size="10.2" fill="#1e1e1e" stroke="#1e1e1e" stroke-width="0.4" text-anchor="end" textLength="17.6" lengthAdjust="spacingAndGlyphs" >-0.6</text>
<line x1="314.6" y1="259.6" x2="482.0" y2="259.6" stroke="#b8b8b8" stroke-width="1.6"/>
<rect x="325.4" y="176.5" width="9.5" height="9.2" fill="#0a14f0" stroke="none" stroke-width="1"/>
<rect x="325.4" y="194.3" width="9.5" height="8.8" fill="#f00a0a" stroke="none" stroke-width="1"/>
<text x="339.0" y="184.3" font-size="10.1" fill="#1e1e1e" stroke="#1e1e1e" stroke-width="0.4" textLength="18.3" lengthAdjust="spacingAndGlyphs" >ART</text>
<text x="339.0" y="202.3" font-size="10.1" fill="#1e1e1e" stroke="#1e1e1e" stroke-width="0.4" textLength="44.2" lengthAdjust="spacingAndGlyphs" >ART+IL15</text>
<text transform="translate(269.3,305.0) rotate(-90)" font-size="12.6" fill="#1e1e1e" stroke="#1e1e1e" stroke-width="0.4" textLength="65.5" lengthAdjust="spacingAndGlyphs" >Fold change</text>
<text transform="translate(285.6,328.8) rotate(-90)" font-size="12.6" fill="#1e1e1e" stroke="#1e1e1e" stroke-width="0.4" textLength="113.5" lengthAdjust="spacingAndGlyphs" >in CD4<tspan font-size="8" dy="-5">+</tspan><tspan dy="5"> count (log</tspan><tspan font-size="8" dy="3">10</tspan><tspan dy="-3">)</tspan></text>
<text x="328.6" y="350.4" font-size="12.6" fill="#1e1e1e" stroke="#1e1e1e" stroke-width="0.4"><tspan>T</tspan><tspan font-size="9.0" dy="3.0">N</tspan></text>
<text x="355.6" y="350.4" font-size="12.6" fill="#1e1e1e" stroke="#1e1e1e" stroke-width="0.4"><tspan>T</tspan><tspan font-size="9.0" dy="3.0">CM</tspan></text>
<text x="387.0" y="350.4" font-size="12.6" fill="#1e1e1e" stroke="#1e1e1e" stroke-width="0.4"><tspan>T</tspan><tspan font-size="9.0" dy="3.0">TM</tspan></text>
<text x="421.4" y="350.4" font-size="12.6" fill="#1e1e1e" stroke="#1e1e1e" stroke-width="0.4"><tspan>T</tspan><tspan font-size="9.0" dy="3.0">EM</tspan></text>
<text x="454.0" y="350.4" font-size="12.6" fill="#1e1e1e" stroke="#1e1e1e" stroke-width="0.4"><tspan>T</tspan><tspan font-size="9.0" dy="3.0">TE</tspan></text>
<rect x="325.4" y="261.6" width="9.200000000000045" height="17.5" fill="none" stroke="#505050" stroke-width="1.0"/>
<line x1="325.4" y1="269.1" x2="334.6" y2="269.1" stroke="#2a2a2a" stroke-width="1.5"/>
<rect x="338.4" y="277.2" width="8.100000000000023" height="26.0" fill="none" stroke="#505050" stroke-width="1.0"/>
<line x1="338.4" y1="294.0" x2="346.5" y2="294.0" stroke="#2a2a2a" stroke-width="1.5"/>
<circle cx="327.4" cy="253.8" r="2.35" fill="#1428d2" stroke="#0c1aa0" stroke-width="0.5"/>
<circle cx="332.8" cy="258.5" r="2.35" fill="#1428d2" stroke="#0c1aa0" stroke-width="0.5"/>
<circle cx="329.9" cy="262.4" r="2.35" fill="#1428d2" stroke="#0c1aa0" stroke-width="0.5"/>
<circle cx="329.9" cy="270.1" r="2.35" fill="#1428d2" stroke="#0c1aa0" stroke-width="0.5"/>
<circle cx="329.9" cy="277.2" r="2.35" fill="#1428d2" stroke="#0c1aa0" stroke-width="0.5"/>
<circle cx="329.9" cy="305.6" r="2.35" fill="#1428d2" stroke="#0c1aa0" stroke-width="0.5"/>
<circle cx="342.7" cy="273.8" r="2.35" fill="#e8281a" stroke="#b81c10" stroke-width="0.5"/>
<circle cx="344.4" cy="273.4" r="2.35" fill="#e8281a" stroke="#b81c10" stroke-width="0.5"/>
<circle cx="342.7" cy="285.7" r="2.35" fill="#e8281a" stroke="#b81c10" stroke-width="0.5"/>
<circle cx="345.1" cy="298.2" r="2.35" fill="#e8281a" stroke="#b81c10" stroke-width="0.5"/>
<circle cx="342.7" cy="301.1" r="2.35" fill="#e8281a" stroke="#b81c10" stroke-width="0.5"/>
<circle cx="342.4" cy="330.6" r="2.35" fill="#e8281a" stroke="#b81c10" stroke-width="0.5"/>
<rect x="357.2" y="271.5" width="8.300000000000011" height="3.6999999999999886" fill="none" stroke="#505050" stroke-width="1.0"/>
<line x1="357.2" y1="272.3" x2="365.5" y2="272.3" stroke="#2a2a2a" stroke-width="1.5"/>
<rect x="369.4" y="281.5" width="9.100000000000023" height="16.600000000000023" fill="none" stroke="#505050" stroke-width="1.0"/>
<line x1="369.4" y1="284.8" x2="378.5" y2="284.8" stroke="#2a2a2a" stroke-width="1.5"/>
<circle cx="361.1" cy="256.8" r="2.35" fill="#1428d2" stroke="#0c1aa0" stroke-width="0.5"/>
<circle cx="366.0" cy="267.7" r="2.35" fill="#1428d2" stroke="#0c1aa0" stroke-width="0.5"/>
<circle cx="363.8" cy="269.0" r="2.35" fill="#1428d2" stroke="#0c1aa0" stroke-width="0.5"/>
<circle cx="361.6" cy="270.1" r="2.35" fill="#1428d2" stroke="#0c1aa0" stroke-width="0.5"/>
<circle cx="359.4" cy="271.3" r="2.35" fill="#1428d2" stroke="#0c1aa0" stroke-width="0.5"/>
<circle cx="361.1" cy="283.4" r="2.35" fill="#1428d2" stroke="#0c1aa0" stroke-width="0.5"/>
<circle cx="373.5" cy="269.9" r="2.35" fill="#e8281a" stroke="#b81c10" stroke-width="0.5"/>
<circle cx="373.5" cy="278.9" r="2.35" fill="#e8281a" stroke="#b81c10" stroke-width="0.5"/>
<circle cx="376.5" cy="278.5" r="2.35" fill="#e8281a" stroke="#b81c10" stroke-width="0.5"/>
<circle cx="373.5" cy="287.0" r="2.35" fill="#e8281a" stroke="#b81c10" stroke-width="0.5"/>
<circle cx="373.5" cy="295.3" r="2.35" fill="#e8281a" stroke="#b81c10" stroke-width="0.5"/>
<rect x="388.7" y="258.3" width="9.100000000000023" height="24.30000000000001" fill="none" stroke="#505050" stroke-width="1.0"/>
<line x1="388.7" y1="263.8" x2="397.8" y2="263.8" stroke="#2a2a2a" stroke-width="1.5"/>
<rect x="400.8" y="272.3" width="9.099999999999966" height="15.800000000000011" fill="none" stroke="#505050" stroke-width="1.0"/>
<line x1="400.8" y1="281.5" x2="409.9" y2="281.5" stroke="#2a2a2a" stroke-width="1.5"/>
<circle cx="388.9" cy="254.9" r="2.35" fill="#1428d2" stroke="#0c1aa0" stroke-width="0.5"/>
<circle cx="396.5" cy="255.5" r="2.35" fill="#1428d2" stroke="#0c1aa0" stroke-width="0.5"/>
<circle cx="394.8" cy="258.3" r="2.35" fill="#1428d2" stroke="#0c1aa0" stroke-width="0.5"/>
<circle cx="392.6" cy="263.8" r="2.35" fill="#1428d2" stroke="#0c1aa0" stroke-width="0.5"/>
<circle cx="395.9" cy="280.4" r="2.35" fill="#1428d2" stroke="#0c1aa0" stroke-width="0.5"/>
<circle cx="392.6" cy="283.4" r="2.35" fill="#1428d2" stroke="#0c1aa0" stroke-width="0.5"/>
<circle cx="405.0" cy="261.2" r="2.35" fill="#e8281a" stroke="#b81c10" stroke-width="0.5"/>
<circle cx="405.0" cy="269.9" r="2.35" fill="#e8281a" stroke="#b81c10" stroke-width="0.5"/>
<circle cx="402.2" cy="277.4" r="2.35" fill="#e8281a" stroke="#b81c10" stroke-width="0.5"/>
<circle cx="408.3" cy="281.2" r="2.35" fill="#e8281a" stroke="#b81c10" stroke-width="0.5"/>
<circle cx="405.0" cy="285.9" r="2.35" fill="#e8281a" stroke="#b81c10" stroke-width="0.5"/>
<circle cx="405.0" cy="300.3" r="2.35" fill="#e8281a" stroke="#b81c10" stroke-width="0.5"/>
<rect x="420.2" y="244.4" width="8.5" height="23.799999999999983" fill="none" stroke="#505050" stroke-width="1.0"/>
<line x1="420.2" y1="259.7" x2="428.7" y2="259.7" stroke="#2a2a2a" stroke-width="1.5"/>
<rect x="432.6" y="269.9" width="8.599999999999966" height="24.900000000000034" fill="none" stroke="#505050" stroke-width="1.0"/>
<line x1="432.6" y1="278.9" x2="441.2" y2="278.9" stroke="#2a2a2a" stroke-width="1.5"/>
<circle cx="426.0" cy="236.0" r="2.35" fill="#1428d2" stroke="#0c1aa0" stroke-width="0.5"/>
<circle cx="424.2" cy="241.3" r="2.35" fill="#1428d2" stroke="#0c1aa0" stroke-width="0.5"/>
<circle cx="424.9" cy="257.1" r="2.35" fill="#1428d2" stroke="#0c1aa0" stroke-width="0.5"/>
<circle cx="427.6" cy="256.0" r="2.35" fill="#1428d2" stroke="#0c1aa0" stroke-width="0.5"/>
<circle cx="423.8" cy="258.3" r="2.35" fill="#1428d2" stroke="#0c1aa0" stroke-width="0.5"/>
<circle cx="424.3" cy="266.0" r="2.35" fill="#1428d2" stroke="#0c1aa0" stroke-width="0.5"/>
<circle cx="424.3" cy="272.3" r="2.35" fill="#1428d2" stroke="#0c1aa0" stroke-width="0.5"/>
<circle cx="436.5" cy="252.0" r="2.35" fill="#e8281a" stroke="#b81c10" stroke-width="0.5"/>
<circle cx="437.6" cy="268.2" r="2.35" fill="#e8281a" stroke="#b81c10" stroke-width="0.5"/>
<circle cx="439.8" cy="267.1" r="2.35" fill="#e8281a" stroke="#b81c10" stroke-width="0.5"/>
<circle cx="437.6" cy="288.1" r="2.35" fill="#e8281a" stroke="#b81c10" stroke-width="0.5"/>
<circle cx="437.0" cy="291.8" r="2.35" fill="#e8281a" stroke="#b81c10" stroke-width="0.5"/>
<circle cx="438.7" cy="292.5" r="2.35" fill="#e8281a" stroke="#b81c10" stroke-width="0.5"/>
<rect x="451.5" y="233.1" width="9.100000000000023" height="17.30000000000001" fill="none" stroke="#505050" stroke-width="1.0"/>
<line x1="451.5" y1="248.1" x2="460.6" y2="248.1" stroke="#2a2a2a" stroke-width="1.5"/>
<rect x="463.7" y="247.1" width="9.0" height="42.29999999999998" fill="none" stroke="#505050" stroke-width="1.0"/>
<line x1="463.7" y1="253.8" x2="472.7" y2="253.8" stroke="#2a2a2a" stroke-width="1.5"/>
<circle cx="455.8" cy="214.0" r="2.35" fill="#1428d2" stroke="#0c1aa0" stroke-width="0.5"/>
<circle cx="455.8" cy="230.4" r="2.35" fill="#1428d2" stroke="#0c1aa0" stroke-width="0.5"/>
<circle cx="456.3" cy="244.2" r="2.35" fill="#1428d2" stroke="#0c1aa0" stroke-width="0.5"/>
<circle cx="455.8" cy="248.1" r="2.35" fill="#1428d2" stroke="#0c1aa0" stroke-width="0.5"/>
<circle cx="457.7" cy="247.1" r="2.35" fill="#1428d2" stroke="#0c1aa0" stroke-width="0.5"/>
<circle cx="455.8" cy="256.7" r="2.35" fill="#1428d2" stroke="#0c1aa0" stroke-width="0.5"/>
<circle cx="467.9" cy="221.7" r="2.35" fill="#e8281a" stroke="#b81c10" stroke-width="0.5"/>
<circle cx="468.8" cy="245.2" r="2.35" fill="#e8281a" stroke="#b81c10" stroke-width="0.5"/>
<circle cx="471.2" cy="244.6" r="2.35" fill="#e8281a" stroke="#b81c10" stroke-width="0.5"/>
<circle cx="467.9" cy="257.7" r="2.35" fill="#e8281a" stroke="#b81c10" stroke-width="0.5"/>
<circle cx="467.9" cy="287.5" r="2.35" fill="#e8281a" stroke="#b81c10" stroke-width="0.5"/>
<circle cx="467.9" cy="297.7" r="2.35" fill="#e8281a" stroke="#b81c10" stroke-width="0.5"/>
<text x="371.2" y="217.3" font-size="10.6" fill="#e0281e" stroke="#e0281e" stroke-width="0.4" font-weight="bold" textLength="7.2" lengthAdjust="spacingAndGlyphs" >#</text>
<text x="433.4" y="217.3" font-size="10.6" fill="#e0281e" stroke="#e0281e" stroke-width="0.4" font-weight="bold" textLength="7.2" lengthAdjust="spacingAndGlyphs" >#</text>
<line x1="73.5" y1="390.8" x2="73.5" y2="472.5" stroke="#5c5c5c" stroke-width="1.1"/>
<line x1="73.5" y1="472.5" x2="272.0" y2="472.5" stroke="#5c5c5c" stroke-width="1.1"/>
<line x1="71.6" y1="449.1" x2="73.6" y2="449.1" stroke="#5c5c5c" stroke-width="1"/>
<text x="69.8" y="452.70000000000005" font-size="10.4" fill="#1e1e1e" stroke="#1e1e1e" stroke-width="0.4" text-anchor="end" textLength="11.4" lengthAdjust="spacingAndGlyphs" >20</text>
<line x1="71.6" y1="425.7" x2="73.6" y2="425.7" stroke="#5c5c5c" stroke-width="1"/>
<text x="69.8" y="429.3" font-size="10.4" fill="#1e1e1e" stroke="#1e1e1e" stroke-width="0.4" text-anchor="end" textLength="11.4" lengthAdjust="spacingAndGlyphs" >40</text>
<line x1="71.6" y1="402.3" x2="73.6" y2="402.3" stroke="#5c5c5c" stroke-width="1"/>
<text x="69.8" y="405.90000000000003" font-size="10.4" fill="#1e1e1e" stroke="#1e1e1e" stroke-width="0.4" text-anchor="end" textLength="11.4" lengthAdjust="spacingAndGlyphs" >60</text>
<line x1="100.8" y1="471.3" x2="100.8" y2="473.7" stroke="#5c5c5c" stroke-width="1"/>
<line x1="128.7" y1="471.3" x2="128.7" y2="473.7" stroke="#5c5c5c" stroke-width="1"/>
<line x1="156.5" y1="471.3" x2="156.5" y2="473.7" stroke="#5c5c5c" stroke-width="1"/>
<line x1="184.6" y1="471.3" x2="184.6" y2="473.7" stroke="#5c5c5c" stroke-width="1"/>
<line x1="212.5" y1="471.3" x2="212.5" y2="473.7" stroke="#5c5c5c" stroke-width="1"/>
<line x1="240.5" y1="471.3" x2="240.5" y2="473.7" stroke="#5c5c5c" stroke-width="1"/>
<line x1="268.4" y1="471.3" x2="268.4" y2="473.7" stroke="#5c5c5c" stroke-width="1"/>
<rect x="76.8" y="462.9" width="5.299999999999997" height="4.600000000000023" fill="#b4b4b4" stroke="none" stroke-width="1"/>
<line x1="76.8" y1="466.4" x2="82.1" y2="466.4" stroke="#222" stroke-width="1.2"/>
<rect x="84.6" y="464.4" width="5.200000000000003" height="3.400000000000034" fill="#0a2ee6" stroke="none" stroke-width="1"/>
<line x1="84.6" y1="466.0" x2="89.8" y2="466.0" stroke="#222" stroke-width="1.2"/>
<rect x="92.7" y="469.2" width="5.200000000000003" height="2.900000000000034" fill="#9a2010" stroke="none" stroke-width="1"/>
<line x1="92.7" y1="470.6" x2="97.9" y2="470.6" stroke="#222" stroke-width="1.2"/>
<rect x="104.6" y="460.2" width="5.400000000000006" height="5.0" fill="#b4b4b4" stroke="none" stroke-width="1"/>
<line x1="104.6" y1="464.0" x2="110.0" y2="464.0" stroke="#222" stroke-width="1.2"/>
<rect x="112.7" y="463.1" width="5.0" height="2.1999999999999886" fill="#0a2ee6" stroke="none" stroke-width="1"/>
<line x1="112.7" y1="464.2" x2="117.7" y2="464.2" stroke="#222" stroke-width="1.2"/>
<rect x="120.4" y="460.8" width="5.3999999999999915" height="9.599999999999966" fill="#f0320f" stroke="none" stroke-width="1"/>
<line x1="120.4" y1="468.8" x2="125.8" y2="468.8" stroke="#222" stroke-width="1.2"/>
<rect x="132.5" y="456.9" width="5.199999999999989" height="2.0" fill="#b4b4b4" stroke="none" stroke-width="1"/>
<line x1="132.5" y1="458.0" x2="137.7" y2="458.0" stroke="#222" stroke-width="1.2"/>
<rect x="140.6" y="462.5" width="5.0" height="5.0" fill="#0a2ee6" stroke="none" stroke-width="1"/>
<line x1="140.6" y1="464.0" x2="145.6" y2="464.0" stroke="#222" stroke-width="1.2"/>
<rect x="148.5" y="468.5" width="5.199999999999989" height="3.1000000000000227" fill="#f0320f" stroke="none" stroke-width="1"/>
<line x1="148.5" y1="469.5" x2="153.7" y2="469.5" stroke="#222" stroke-width="1.2"/>
<rect x="160.8" y="463.3" width="5.0" height="2.6999999999999886" fill="#b4b4b4" stroke="none" stroke-width="1"/>
<line x1="160.8" y1="464.6" x2="165.8" y2="464.6" stroke="#222" stroke-width="1.2"/>
<rect x="168.1" y="453.8" width="5.800000000000011" height="5.800000000000011" fill="#0a2ee6" stroke="none" stroke-width="1"/>
<line x1="168.1" y1="459.2" x2="173.9" y2="459.2" stroke="#222" stroke-width="1.2"/>
<rect x="176.2" y="455.0" width="5.700000000000017" height="12.5" fill="#f0320f" stroke="none" stroke-width="1"/>
<line x1="176.2" y1="462.4" x2="181.9" y2="462.4" stroke="#222" stroke-width="1.2"/>
<rect x="188.2" y="419.7" width="6.0" height="19.100000000000023" fill="#b4b4b4" stroke="none" stroke-width="1"/>
<line x1="188.2" y1="438.2" x2="194.2" y2="438.2" stroke="#222" stroke-width="1.2"/>
<rect x="196.3" y="448.1" width="5.699999999999989" height="8.5" fill="#0a2ee6" stroke="none" stroke-width="1"/>
<line x1="196.3" y1="455.6" x2="202.0" y2="455.6" stroke="#222" stroke-width="1.2"/>
<rect x="203.9" y="450.8" width="5.799999999999983" height="19.0" fill="#f0320f" stroke="none" stroke-width="1"/>
<line x1="203.9" y1="463.5" x2="209.7" y2="463.5" stroke="#222" stroke-width="1.2"/>
<rect x="216.1" y="455.5" width="5.800000000000011" height="5.0" fill="#b4b4b4" stroke="none" stroke-width="1"/>
<line x1="216.1" y1="458.0" x2="221.9" y2="458.0" stroke="#222" stroke-width="1.2"/>
<rect x="224.0" y="427.0" width="5.699999999999989" height="12.699999999999989" fill="#0a2ee6" stroke="none" stroke-width="1"/>
<line x1="224.0" y1="432.4" x2="229.7" y2="432.4" stroke="#222" stroke-width="1.2"/>
<rect x="232.1" y="391.2" width="5.700000000000017" height="28.0" fill="#f0320f" stroke="none" stroke-width="1"/>
<line x1="232.1" y1="401.2" x2="237.8" y2="401.2" stroke="#222" stroke-width="1.2"/>
<rect x="244.3" y="448.1" width="5.799999999999983" height="7.399999999999977" fill="#b4b4b4" stroke="none" stroke-width="1"/>
<line x1="244.3" y1="452.4" x2="250.1" y2="452.4" stroke="#222" stroke-width="1.2"/>
<rect x="251.9" y="447.4" width="5.799999999999983" height="9.700000000000045" fill="#0a2ee6" stroke="none" stroke-width="1"/>
<line x1="251.9" y1="450.8" x2="257.7" y2="450.8" stroke="#222" stroke-width="1.2"/>
<rect x="259.8" y="440.9" width="5.699999999999989" height="26.600000000000023" fill="#f0320f" stroke="none" stroke-width="1"/>
<line x1="259.8" y1="463.5" x2="265.5" y2="463.5" stroke="#222" stroke-width="1.2"/>
<text x="84.0" y="390.3" font-size="10.1" fill="#1e1e1e" stroke="#1e1e1e" stroke-width="0.4" textLength="17.8" lengthAdjust="spacingAndGlyphs" >ART</text>
<line x1="73.5" y1="500.8" x2="73.5" y2="581.5" stroke="#5c5c5c" stroke-width="1.1"/>
<line x1="73.5" y1="581.5" x2="272.0" y2="581.5" stroke="#5c5c5c" stroke-width="1.1"/>
<line x1="71.6" y1="558.1" x2="73.6" y2="558.1" stroke="#5c5c5c" stroke-width="1"/>
<text x="69.8" y="561.7" font-size="10.4" fill="#1e1e1e" stroke="#1e1e1e" stroke-width="0.4" text-anchor="end" textLength="11.4" lengthAdjust="spacingAndGlyphs" >20</text>
<line x1="71.6" y1="534.7" x2="73.6" y2="534.7" stroke="#5c5c5c" stroke-width="1"/>
<text x="69.8" y="538.3000000000001" font-size="10.4" fill="#1e1e1e" stroke="#1e1e1e" stroke-width="0.4" text-anchor="end" textLength="11.4" lengthAdjust="spacingAndGlyphs" >40</text>
<line x1="71.6" y1="511.3" x2="73.6" y2="511.3" stroke="#5c5c5c" stroke-width="1"/>
<text x="69.8" y="514.9" font-size="10.4" fill="#1e1e1e" stroke="#1e1e1e" stroke-width="0.4" text-anchor="end" textLength="11.4" lengthAdjust="spacingAndGlyphs" >60</text>
<line x1="100.8" y1="580.3" x2="100.8" y2="582.7" stroke="#5c5c5c" stroke-width="1"/>
<line x1="128.7" y1="580.3" x2="128.7" y2="582.7" stroke="#5c5c5c" stroke-width="1"/>
<line x1="156.5" y1="580.3" x2="156.5" y2="582.7" stroke="#5c5c5c" stroke-width="1"/>
<line x1="184.6" y1="580.3" x2="184.6" y2="582.7" stroke="#5c5c5c" stroke-width="1"/>
<line x1="212.5" y1="580.3" x2="212.5" y2="582.7" stroke="#5c5c5c" stroke-width="1"/>
<line x1="240.5" y1="580.3" x2="240.5" y2="582.7" stroke="#5c5c5c" stroke-width="1"/>
<line x1="268.4" y1="580.3" x2="268.4" y2="582.7" stroke="#5c5c5c" stroke-width="1"/>
<rect x="78.0" y="571.6" width="5.099999999999994" height="1.1999999999999318" fill="#333" stroke="none" stroke-width="1"/>
<line x1="78.0" y1="572.2" x2="83.1" y2="572.2" stroke="#222" stroke-width="1.2"/>
<rect x="85.0" y="571.2" width="5.700000000000003" height="8.599999999999909" fill="#0a2ee6" stroke="none" stroke-width="1"/>
<line x1="85.0" y1="577.0" x2="90.7" y2="577.0" stroke="#222" stroke-width="1.2"/>
<rect x="93.0" y="575.2" width="5.799999999999997" height="6.199999999999932" fill="#f0320f" stroke="none" stroke-width="1"/>
<line x1="93.0" y1="578.0" x2="98.8" y2="578.0" stroke="#222" stroke-width="1.2"/>
<rect x="105.5" y="567.8" width="5.299999999999997" height="8.700000000000045" fill="#b4b4b4" stroke="none" stroke-width="1"/>
<line x1="105.5" y1="572.4" x2="110.8" y2="572.4" stroke="#222" stroke-width="1.2"/>
<rect x="113.1" y="572.4" width="5.800000000000011" height="8.100000000000023" fill="#0a2ee6" stroke="none" stroke-width="1"/>
<line x1="113.1" y1="577.0" x2="118.9" y2="577.0" stroke="#222" stroke-width="1.2"/>
<rect x="121.2" y="574.2" width="5.799999999999997" height="4.599999999999909" fill="#f0320f" stroke="none" stroke-width="1"/>
<line x1="121.2" y1="576.0" x2="127.0" y2="576.0" stroke="#222" stroke-width="1.2"/>
<rect x="132.7" y="549.7" width="5.800000000000011" height="19.899999999999977" fill="#b4b4b4" stroke="none" stroke-width="1"/>
<line x1="132.7" y1="564.3" x2="138.5" y2="564.3" stroke="#222" stroke-width="1.2"/>
<rect x="141.3" y="553.4" width="5.299999999999983" height="23.100000000000023" fill="#0a2ee6" stroke="none" stroke-width="1"/>
<rect x="149.4" y="570.5" width="5.299999999999983" height="10.899999999999977" fill="#f0320f" stroke="none" stroke-width="1"/>
<rect x="161.6" y="570.5" width="5.099999999999994" height="10.899999999999977" fill="#b4b4b4" stroke="none" stroke-width="1"/>
<line x1="161.6" y1="575.2" x2="166.7" y2="575.2" stroke="#222" stroke-width="1.2"/>
<rect x="169.2" y="552.1" width="5.100000000000023" height="22.600000000000023" fill="#0a2ee6" stroke="none" stroke-width="1"/>
<line x1="169.2" y1="560.4" x2="174.3" y2="560.4" stroke="#222" stroke-width="1.2"/>
<rect x="176.6" y="560.8" width="5.800000000000011" height="10.0" fill="#f0320f" stroke="none" stroke-width="1"/>
<line x1="176.6" y1="570.0" x2="182.4" y2="570.0" stroke="#222" stroke-width="1.2"/>
<rect x="188.4" y="521.1" width="5.799999999999983" height="37.39999999999998" fill="#b4b4b4" stroke="none" stroke-width="1"/>
<line x1="188.4" y1="549.7" x2="194.2" y2="549.7" stroke="#222" stroke-width="1.2"/>
<rect x="196.5" y="550.9" width="5.5" height="23.300000000000068" fill="#0a2ee6" stroke="none" stroke-width="1"/>
<line x1="196.5" y1="566.6" x2="202.0" y2="566.6" stroke="#222" stroke-width="1.2"/>
<rect x="204.6" y="559.7" width="5.5" height="16.799999999999955" fill="#f0320f" stroke="none" stroke-width="1"/>
<line x1="204.6" y1="568.2" x2="210.1" y2="568.2" stroke="#222" stroke-width="1.2"/>
<rect x="216.6" y="564.3" width="5.300000000000011" height="17.100000000000023" fill="#b4b4b4" stroke="none" stroke-width="1"/>
<line x1="216.6" y1="572.4" x2="221.9" y2="572.4" stroke="#222" stroke-width="1.2"/>
<rect x="224.2" y="530.1" width="5.5" height="42.299999999999955" fill="#0a2ee6" stroke="none" stroke-width="1"/>
<line x1="224.2" y1="559.2" x2="229.7" y2="559.2" stroke="#222" stroke-width="1.2"/>
<rect x="232.3" y="501.2" width="5.5" height="53.19999999999999" fill="#f0320f" stroke="none" stroke-width="1"/>
<line x1="232.3" y1="512.3" x2="237.8" y2="512.3" stroke="#222" stroke-width="1.2"/>
<rect x="244.3" y="555.1" width="5.799999999999983" height="10.399999999999977" fill="#b4b4b4" stroke="none" stroke-width="1"/>
<line x1="244.3" y1="558.5" x2="250.1" y2="558.5" stroke="#222" stroke-width="1.2"/>
<rect x="252.4" y="553.2" width="5.299999999999983" height="12.699999999999932" fill="#0a2ee6" stroke="none" stroke-width="1"/>
<line x1="252.4" y1="559.0" x2="257.7" y2="559.0" stroke="#222" stroke-width="1.2"/>
<rect x="260.0" y="559.0" width="5.5" height="14.5" fill="#f0320f" stroke="none" stroke-width="1"/>
<line x1="260.0" y1="568.2" x2="265.5" y2="568.2" stroke="#222" stroke-width="1.2"/>
<text x="84.0" y="498.0" font-size="10.1" fill="#1e1e1e" stroke="#1e1e1e" stroke-width="0.4" textLength="47.0" lengthAdjust="spacingAndGlyphs" >ART+IL-15</text>
<text x="148.6" y="384.4" font-size="10.6" fill="#e0281e" stroke="#e0281e" stroke-width="0.4" font-weight="bold" textLength="6.6" lengthAdjust="spacingAndGlyphs" >#</text>
<text x="168.4" y="384.4" font-size="10.6" fill="#1e3ce6" stroke="#1e3ce6" stroke-width="0.4" font-weight="bold" textLength="6.6" lengthAdjust="spacingAndGlyphs" >#</text>
<text x="195.6" y="384.4" font-size="10.6" fill="#1e3ce6" stroke="#1e3ce6" stroke-width="0.4" font-weight="bold" textLength="6.6" lengthAdjust="spacingAndGlyphs" >#</text>
<text x="204.0" y="384.4" font-size="10.6" fill="#e0281e" stroke="#e0281e" stroke-width="0.4" font-weight="bold" textLength="6.6" lengthAdjust="spacingAndGlyphs" >#</text>
<text x="231.9" y="384.4" font-size="10.6" fill="#e0281e" stroke="#e0281e" stroke-width="0.4" font-weight="bold" textLength="6.6" lengthAdjust="spacingAndGlyphs" >#</text>
<text x="231.5" y="493.4" font-size="10.6" fill="#e0281e" stroke="#e0281e" stroke-width="0.4" font-weight="bold" textLength="6.6" lengthAdjust="spacingAndGlyphs" >#</text>
<rect x="265.1" y="376.3" width="9.1" height="8.5" fill="#a6a6a6" stroke="none" stroke-width="1"/>
<text x="277.6" y="383.5" font-size="10.6" fill="#1e1e1e" stroke="#1e1e1e" stroke-width="0.4" textLength="18.0" lengthAdjust="spacingAndGlyphs" >d46</text>
<rect x="265.1" y="393.8" width="9.1" height="8.5" fill="#0a0af0" stroke="none" stroke-width="1"/>
<text x="277.6" y="401.0" font-size="10.6" fill="#1e1e1e" stroke="#1e1e1e" stroke-width="0.4" textLength="18.0" lengthAdjust="spacingAndGlyphs" >d59</text>
<rect x="265.1" y="411.6" width="9.1" height="8.5" fill="#f00a0a" stroke="none" stroke-width="1"/>
<text x="277.6" y="418.8" font-size="10.6" fill="#1e1e1e" stroke="#1e1e1e" stroke-width="0.4" textLength="18.0" lengthAdjust="spacingAndGlyphs" >d70</text>
<text transform="translate(34.9,539.9) rotate(-90)" font-size="12.6" fill="#1e1e1e" stroke="#1e1e1e" stroke-width="0.4" textLength="106.5" lengthAdjust="spacingAndGlyphs" >Percent of the CD4<tspan font-size="8" dy="-5">+</tspan></text>
<text transform="translate(50.8,527.2) rotate(-90)" font-size="12.6" fill="#1e1e1e" stroke="#1e1e1e" stroke-width="0.4" textLength="82.0" lengthAdjust="spacingAndGlyphs" >T cell response</text>
<text x="76.7" y="592.9" font-size="10.0" fill="#1e1e1e" stroke="#1e1e1e" stroke-width="0.4" text-anchor="end" textLength="16.6" lengthAdjust="spacingAndGlyphs" >IL-2</text>
<text x="77.1" y="604.4" font-size="10.0" fill="#1e1e1e" stroke="#1e1e1e" stroke-width="0.4" text-anchor="end" textLength="24.4" lengthAdjust="spacingAndGlyphs" >IFN-&#947;</text>
<text x="77.5" y="616.0" font-size="10.0" fill="#1e1e1e" stroke="#1e1e1e" stroke-width="0.4" text-anchor="end" textLength="29.4" lengthAdjust="spacingAndGlyphs" >TNF-&#945;</text>
<circle cx="88.0" cy="588.3" r="2.0" fill="#0a0a0a"/>
<circle cx="88.0" cy="599.9" r="2.0" fill="#0a0a0a"/>
<circle cx="88.0" cy="611.9" r="2.0" fill="#0a0a0a"/>
<rect x="83.4" y="619.3" width="9.3" height="8.9" fill="#ff0000" stroke="none" stroke-width="1"/>
<circle cx="116.0" cy="588.3" r="2.0" fill="#0a0a0a"/>
<circle cx="116.0" cy="599.9" r="2.0" fill="#0a0a0a"/>
<rect x="111.4" y="619.3" width="9.3" height="8.9" fill="#ffc000" stroke="none" stroke-width="1"/>
<circle cx="144.0" cy="588.3" r="2.0" fill="#0a0a0a"/>
<circle cx="144.0" cy="611.9" r="2.0" fill="#0a0a0a"/>
<rect x="139.4" y="619.3" width="9.3" height="8.9" fill="#808080" stroke="none" stroke-width="1"/>
<circle cx="171.5" cy="599.9" r="2.0" fill="#0a0a0a"/>
<circle cx="171.5" cy="611.9" r="2.0" fill="#0a0a0a"/>
<rect x="166.9" y="619.3" width="9.3" height="8.9" fill="#00f064" stroke="none" stroke-width="1"/>
<circle cx="199.6" cy="588.3" r="2.0" fill="#0a0a0a"/>
<rect x="195.0" y="619.3" width="9.3" height="8.9" fill="#00f0ff" stroke="none" stroke-width="1"/>
<circle cx="227.8" cy="599.9" r="2.0" fill="#0a0a0a"/>
<rect x="223.20000000000002" y="619.3" width="9.3" height="8.9" fill="#1e46ff" stroke="none" stroke-width="1"/>
<circle cx="255.5" cy="611.9" r="2.0" fill="#0a0a0a"/>
<rect x="250.9" y="619.3" width="9.3" height="8.9" fill="#a040ff" stroke="none" stroke-width="1"/>
<path d="M371.9,443.7 L371.90,418.30 A25.4,25.4 0 0 1 381.09,420.02 Z" fill="#ff2200"/>
<path d="M371.9,443.7 L381.09,420.02 A25.4,25.4 0 0 1 392.02,428.20 Z" fill="#ffc400"/>
<path d="M371.9,443.7 L392.02,428.20 A25.4,25.4 0 0 1 397.16,446.36 Z" fill="#808080"/>
<path d="M371.9,443.7 L397.16,446.36 A25.4,25.4 0 0 1 355.40,463.01 Z" fill="#00f060"/>
<path d="M371.9,443.7 L355.40,463.01 A25.4,25.4 0 0 1 348.88,454.43 Z" fill="#00f0ff"/>
<path d="M371.9,443.7 L348.88,454.43 A25.4,25.4 0 0 1 348.06,434.93 Z" fill="#2a5aff"/>
<path d="M371.9,443.7 L348.06,434.93 A25.4,25.4 0 0 1 371.90,418.30 Z" fill="#b24cff"/>
<path d="M431.0,443.7 L431.00,418.40 A25.3,25.3 0 0 1 440.31,420.18 Z" fill="#ff2200"/>
<path d="M431.0,443.7 L440.31,420.18 A25.3,25.3 0 0 1 449.59,426.54 Z" fill="#ffc400"/>
<path d="M431.0,443.7 L449.59,426.54 A25.3,25.3 0 0 1 455.32,436.73 Z" fill="#808080"/>
<path d="M431.0,443.7 L455.32,436.73 A25.3,25.3 0 0 1 449.56,460.89 Z" fill="#00f060"/>
<path d="M431.0,443.7 L449.56,460.89 A25.3,25.3 0 0 1 430.34,468.99 Z" fill="#00f0ff"/>
<path d="M431.0,443.7 L430.34,468.99 A25.3,25.3 0 0 1 408.16,432.81 Z" fill="#2a5aff"/>
<path d="M431.0,443.7 L408.16,432.81 A25.3,25.3 0 0 1 431.00,418.40 Z" fill="#b24cff"/>
<path d="M489.7,444.0 L489.70,418.70 A25.3,25.3 0 0 1 491.95,418.80 Z" fill="#ff2200"/>
<path d="M489.7,444.0 L491.95,418.80 A25.3,25.3 0 0 1 499.67,420.75 Z" fill="#ffc400"/>
<path d="M489.7,444.0 L499.67,420.75 A25.3,25.3 0 0 1 501.93,421.85 Z" fill="#808080"/>
<path d="M489.7,444.0 L501.93,421.85 A25.3,25.3 0 0 1 513.61,435.72 Z" fill="#00f060"/>
<path d="M489.7,444.0 L513.61,435.72 A25.3,25.3 0 0 1 514.67,448.09 Z" fill="#00f0ff"/>
<path d="M489.7,444.0 L514.67,448.09 A25.3,25.3 0 1 1 469.82,428.35 Z" fill="#2a5aff"/>
<path d="M489.7,444.0 L469.82,428.35 A25.3,25.3 0 0 1 489.70,418.70 Z" fill="#b24cff"/>
<path d="M371.9,552.2 L371.90,526.80 A25.4,25.4 0 0 1 384.75,530.29 Z" fill="#ff2200"/>
<path d="M371.9,552.2 L384.75,530.29 A25.4,25.4 0 0 1 394.99,541.63 Z" fill="#ffc400"/>
<path d="M371.9,552.2 L394.99,541.63 A25.4,25.4 0 0 1 392.48,567.09 Z" fill="#808080"/>
<path d="M371.9,552.2 L392.48,567.09 A25.4,25.4 0 0 1 348.54,562.17 Z" fill="#00f060"/>
<path d="M371.9,552.2 L348.54,562.17 A25.4,25.4 0 0 1 346.54,553.57 Z" fill="#00f0ff"/>
<path d="M371.9,552.2 L346.54,553.57 A25.4,25.4 0 0 1 348.94,541.35 Z" fill="#2a5aff"/>
<path d="M371.9,552.2 L348.94,541.35 A25.4,25.4 0 0 1 371.90,526.80 Z" fill="#b24cff"/>
<path d="M431.1,552.2 L431.10,526.80 A25.4,25.4 0 0 1 439.08,528.08 Z" fill="#ff2200"/>
<path d="M431.1,552.2 L439.08,528.08 A25.4,25.4 0 0 1 446.10,531.70 Z" fill="#ffc400"/>
<path d="M431.1,552.2 L446.10,531.70 A25.4,25.4 0 0 1 456.30,549.02 Z" fill="#808080"/>
<path d="M431.1,552.2 L456.30,549.02 A25.4,25.4 0 0 1 447.46,571.63 Z" fill="#00f060"/>
<path d="M431.1,552.2 L447.46,571.63 A25.4,25.4 0 0 1 422.87,576.23 Z" fill="#00f0ff"/>
<path d="M431.1,552.2 L422.87,576.23 A25.4,25.4 0 0 1 407.00,544.18 Z" fill="#2a5aff"/>
<path d="M431.1,552.2 L407.00,544.18 A25.4,25.4 0 0 1 431.10,526.80 Z" fill="#b24cff"/>
<path d="M490.0,551.8 L490.00,526.55 A25.25,25.25 0 0 1 494.43,526.94 Z" fill="#ff2200"/>
<path d="M490.0,551.8 L494.43,526.94 A25.25,25.25 0 0 1 501.38,529.26 Z" fill="#ffc400"/>
<path d="M490.0,551.8 L501.38,529.26 A25.25,25.25 0 0 1 506.43,532.63 Z" fill="#808080"/>
<path d="M490.0,551.8 L506.43,532.63 A25.25,25.25 0 0 1 515.05,548.64 Z" fill="#00f060"/>
<path d="M490.0,551.8 L515.05,548.64 A25.25,25.25 0 0 1 509.92,567.31 Z" fill="#00f0ff"/>
<path d="M490.0,551.8 L509.92,567.31 A25.25,25.25 0 1 1 471.44,534.68 Z" fill="#2a5aff"/>
<path d="M490.0,551.8 L471.44,534.68 A25.25,25.25 0 0 1 490.00,526.55 Z" fill="#b24cff"/>
<line x1="372.9" y1="393.5" x2="490.6" y2="393.5" stroke="#7a7a7a" stroke-width="1.1"/>
<line x1="372.9" y1="414.5" x2="430.5" y2="414.5" stroke="#7a7a7a" stroke-width="1.1"/>
<line x1="373.5" y1="500.5" x2="491.1" y2="500.5" stroke="#7a7a7a" stroke-width="1.1"/>
<line x1="373.5" y1="521.5" x2="431.4" y2="521.5" stroke="#7a7a7a" stroke-width="1.1"/>
<text x="414.8" y="389.0" font-size="10.4" fill="#1e1e1e" stroke="#1e1e1e" stroke-width="0.4" textLength="33.0" lengthAdjust="spacingAndGlyphs" >P&lt;0.05</text>
<text x="385.2" y="409.5" font-size="10.4" fill="#1e1e1e" stroke="#1e1e1e" stroke-width="0.4" textLength="33.0" lengthAdjust="spacingAndGlyphs" >P&lt;0.05</text>
<text x="414.8" y="496.2" font-size="10.4" fill="#1e1e1e" stroke="#1e1e1e" stroke-width="0.4" textLength="33.0" lengthAdjust="spacingAndGlyphs" >P&lt;0.01</text>
<text x="386.0" y="517.7" font-size="10.4" fill="#1e1e1e" stroke="#1e1e1e" stroke-width="0.4" textLength="32.2" lengthAdjust="spacingAndGlyphs" >P&lt;0.01</text>
<text x="312.0" y="446.6" font-size="12.0" fill="#1e1e1e" stroke="#1e1e1e" stroke-width="0.4" textLength="21.8" lengthAdjust="spacingAndGlyphs" >ART</text>
<text x="312.0" y="548.6" font-size="12.0" fill="#1e1e1e" stroke="#1e1e1e" stroke-width="0.4" textLength="21.8" lengthAdjust="spacingAndGlyphs" >ART</text>
<text x="306.0" y="564.9" font-size="12.0" fill="#1e1e1e" stroke="#1e1e1e" stroke-width="0.4" textLength="33.4" lengthAdjust="spacingAndGlyphs" >+IL-15</text>
<text x="362.8" y="593.7" font-size="10.6" fill="#1e1e1e" stroke="#1e1e1e" stroke-width="0.4" textLength="18.4" lengthAdjust="spacingAndGlyphs" >d46</text>
<text x="421.6" y="593.7" font-size="10.6" fill="#1e1e1e" stroke="#1e1e1e" stroke-width="0.4" textLength="18.4" lengthAdjust="spacingAndGlyphs" >d59</text>
<text x="480.7" y="593.7" font-size="10.6" fill="#1e1e1e" stroke="#1e1e1e" stroke-width="0.4" textLength="18.6" lengthAdjust="spacingAndGlyphs" >d70</text>
</svg>
</body></html>
